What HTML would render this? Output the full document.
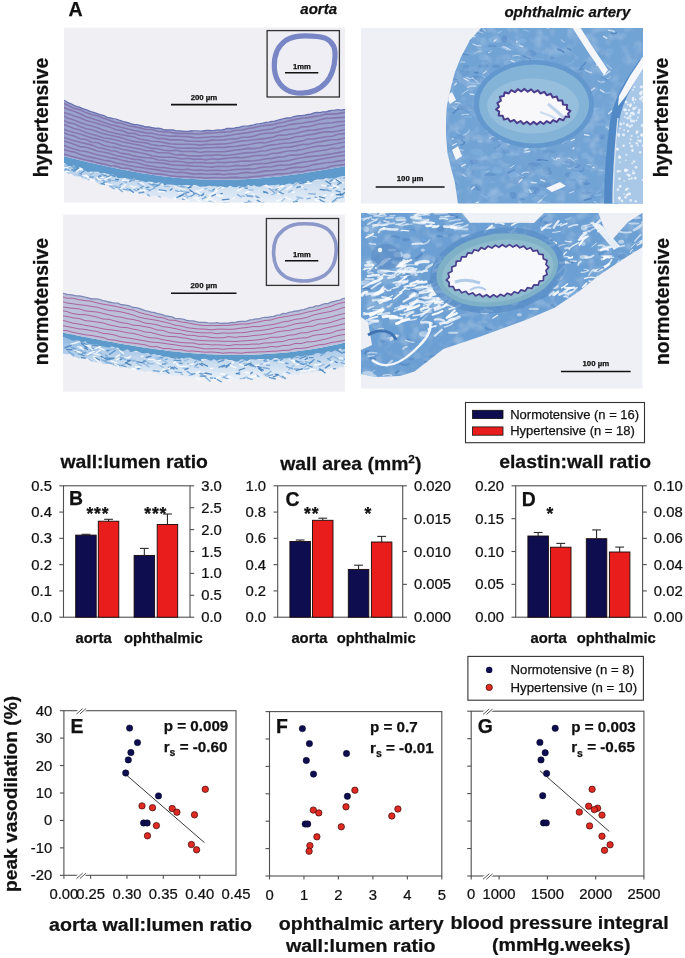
<!DOCTYPE html>
<html><head><meta charset="utf-8"><title>figure</title>
<style>html,body{margin:0;padding:0;background:#fff;} body{width:685px;height:958px;overflow:hidden;} svg{display:block;will-change:transform;} text{fill:#111;stroke:#111;stroke-width:0.25px;}</style>
</head><body>
<svg width="685" height="958" viewBox="0 0 685 958" font-family="'Liberation Sans', sans-serif">
<defs><filter id="tex" x="0" y="0" width="100%" height="100%"><feTurbulence type="fractalNoise" baseFrequency="0.09" numOctaves="2" seed="3" result="n"/><feColorMatrix type="matrix" values="0 0 0 0 1  0 0 0 0 1  0 0 0 0 1  0 0 0 1.6 -0.75" in="n"/></filter><filter id="tex2" x="0" y="0" width="100%" height="100%"><feTurbulence type="fractalNoise" baseFrequency="0.12" numOctaves="2" seed="9" result="n"/><feColorMatrix type="matrix" values="0 0 0 0 0.2  0 0 0 0 0.35  0 0 0 0 0.6  0 0 0 1.6 -0.8" in="n"/></filter></defs>
<rect width="685" height="958" fill="#ffffff"/>
<clipPath id="c1"><rect x="64" y="27.5" width="281" height="175.0"/></clipPath>
<rect x="64" y="27.5" width="281" height="175.0" fill="#efeff4"/>
<g clip-path="url(#c1)">
<linearGradient id="gc1" x1="0" y1="0" x2="0" y2="1"><stop offset="0" stop-color="#a9c7e6"/><stop offset="1" stop-color="#eef3f9"/></linearGradient>
<polygon points="62.0,163.2 65.0,164.0 68.0,164.9 71.0,165.7 74.0,166.6 77.0,167.4 80.0,168.2 83.0,168.9 86.0,169.7 89.0,170.4 92.0,171.2 95.0,171.9 98.0,172.5 101.0,173.2 104.0,173.9 107.0,174.5 110.0,175.1 113.0,175.7 116.0,176.3 119.0,176.9 122.0,177.4 125.0,177.9 128.0,178.4 131.0,178.9 134.0,179.4 137.0,179.9 140.0,180.3 143.0,180.8 146.0,181.2 149.0,181.6 152.0,182.0 155.0,182.3 158.0,182.7 161.0,183.0 164.0,183.3 167.0,183.6 170.0,183.9 173.0,184.2 176.0,184.5 179.0,184.7 182.0,184.9 185.0,185.1 188.0,185.3 191.0,185.5 194.0,185.7 197.0,185.8 200.0,186.0 203.0,186.1 206.0,186.2 209.0,186.3 212.0,186.4 215.0,186.4 218.0,186.5 221.0,186.5 224.0,186.5 227.0,186.5 230.0,186.5 233.0,186.5 236.0,186.5 239.0,186.4 242.0,186.4 245.0,186.3 248.0,186.2 251.0,186.1 254.0,186.0 257.0,185.9 260.0,185.7 263.0,185.6 266.0,185.4 269.0,185.2 272.0,185.0 275.0,184.8 278.0,184.6 281.0,184.3 284.0,184.1 287.0,183.8 290.0,183.6 293.0,183.3 296.0,183.0 299.0,182.7 302.0,182.4 305.0,182.0 308.0,181.7 311.0,181.3 314.0,181.0 317.0,180.6 320.0,180.2 323.0,179.8 326.0,179.4 329.0,178.9 332.0,178.5 335.0,178.1 338.0,177.6 341.0,177.1 344.0,176.6 347.0,176.2 347.0,206.0 344.0,205.4 341.0,207.2 338.0,207.1 335.0,207.3 332.0,206.3 329.0,206.0 326.0,204.9 323.0,207.3 320.0,205.9 317.0,205.5 314.0,205.1 311.0,207.1 308.0,205.0 305.0,205.1 302.0,205.3 299.0,206.2 296.0,204.8 293.0,206.8 290.0,205.9 287.0,205.6 284.0,207.1 281.0,207.6 278.0,206.5 275.0,206.7 272.0,204.7 269.0,206.4 266.0,205.8 263.0,207.1 260.0,206.7 257.0,205.5 254.0,205.8 251.0,205.7 248.0,205.9 245.0,204.6 242.0,206.2 239.0,205.2 236.0,205.6 233.0,205.1 230.0,203.1 227.0,204.2 224.0,203.0 221.0,204.7 218.0,203.4 215.0,202.3 212.0,204.7 209.0,202.3 206.0,203.4 203.0,203.6 200.0,202.3 197.0,202.1 194.0,200.8 191.0,201.9 188.0,201.8 185.0,200.0 182.0,200.1 179.0,200.1 176.0,198.9 173.0,198.8 170.0,199.2 167.0,197.3 164.0,196.4 161.0,196.0 158.0,196.9 155.0,195.9 152.0,196.2 149.0,195.5 146.0,193.8 143.0,195.1 140.0,193.0 137.0,191.8 134.0,191.3 131.0,191.1 128.0,192.1 125.0,189.0 122.0,191.1 119.0,188.7 116.0,188.5 113.0,188.8 110.0,187.1 107.0,185.1 104.0,184.0 101.0,185.3 98.0,183.2 95.0,181.3 92.0,180.4 89.0,180.6 86.0,178.4 83.0,178.9 80.0,176.5 77.0,176.5 74.0,175.9 71.0,173.5 68.0,174.1 65.0,171.5 62.0,170.9" fill="url(#gc1)"/>
<line x1="180.7" y1="190.3" x2="186.6" y2="194.7" stroke="#6fa2d4" stroke-width="1.3" opacity="0.85"/>
<line x1="87.3" y1="171.6" x2="92.2" y2="167.6" stroke="#3f7cb8" stroke-width="1.3" opacity="0.85"/>
<line x1="115.2" y1="179.5" x2="119.0" y2="179.7" stroke="#3f7cb8" stroke-width="1.3" opacity="0.85"/>
<line x1="223.1" y1="203.2" x2="229.6" y2="203.4" stroke="#3f7cb8" stroke-width="1.3" opacity="0.85"/>
<line x1="248.0" y1="200.3" x2="252.6" y2="203.0" stroke="#8fb8df" stroke-width="1.3" opacity="0.85"/>
<line x1="288.2" y1="192.6" x2="292.4" y2="189.9" stroke="#8fb8df" stroke-width="1.3" opacity="0.85"/>
<line x1="176.5" y1="187.4" x2="184.4" y2="186.7" stroke="#4f8cc6" stroke-width="1.3" opacity="0.85"/>
<line x1="159.6" y1="183.6" x2="162.2" y2="182.2" stroke="#4f8cc6" stroke-width="1.3" opacity="0.85"/>
<line x1="330.7" y1="195.6" x2="333.7" y2="194.2" stroke="#ffffff" stroke-width="1.3" opacity="0.85"/>
<line x1="105.7" y1="177.1" x2="110.4" y2="176.2" stroke="#4f8cc6" stroke-width="1.3" opacity="0.85"/>
<line x1="96.4" y1="177.5" x2="104.3" y2="177.2" stroke="#ffffff" stroke-width="1.3" opacity="0.85"/>
<line x1="88.1" y1="171.3" x2="92.6" y2="169.8" stroke="#8fb8df" stroke-width="1.3" opacity="0.85"/>
<line x1="109.4" y1="175.3" x2="117.1" y2="175.6" stroke="#6fa2d4" stroke-width="1.3" opacity="0.85"/>
<line x1="257.9" y1="204.0" x2="264.4" y2="202.1" stroke="#8fb8df" stroke-width="1.3" opacity="0.85"/>
<line x1="306.6" y1="198.9" x2="310.8" y2="198.1" stroke="#6fa2d4" stroke-width="1.3" opacity="0.85"/>
<line x1="164.0" y1="186.5" x2="169.7" y2="186.6" stroke="#8fb8df" stroke-width="1.3" opacity="0.85"/>
<line x1="126.7" y1="188.4" x2="133.7" y2="192.2" stroke="#6fa2d4" stroke-width="1.3" opacity="0.85"/>
<line x1="294.0" y1="200.3" x2="298.1" y2="200.4" stroke="#ffffff" stroke-width="1.3" opacity="0.85"/>
<line x1="269.4" y1="205.7" x2="276.4" y2="205.5" stroke="#6fa2d4" stroke-width="1.3" opacity="0.85"/>
<line x1="258.6" y1="204.8" x2="262.9" y2="207.8" stroke="#ffffff" stroke-width="1.3" opacity="0.85"/>
<line x1="332.4" y1="188.6" x2="336.2" y2="187.0" stroke="#6fa2d4" stroke-width="1.3" opacity="0.85"/>
<line x1="158.9" y1="189.6" x2="166.7" y2="190.8" stroke="#4f8cc6" stroke-width="1.3" opacity="0.85"/>
<line x1="198.7" y1="196.5" x2="204.6" y2="192.6" stroke="#8fb8df" stroke-width="1.3" opacity="0.85"/>
<line x1="97.7" y1="176.7" x2="103.7" y2="174.0" stroke="#6fa2d4" stroke-width="1.3" opacity="0.85"/>
<line x1="185.9" y1="195.1" x2="188.7" y2="197.1" stroke="#8fb8df" stroke-width="1.3" opacity="0.85"/>
<line x1="175.2" y1="190.4" x2="182.6" y2="192.8" stroke="#6fa2d4" stroke-width="1.3" opacity="0.85"/>
<line x1="343.1" y1="177.6" x2="349.0" y2="177.3" stroke="#8fb8df" stroke-width="1.3" opacity="0.85"/>
<line x1="105.1" y1="183.5" x2="112.8" y2="185.2" stroke="#ffffff" stroke-width="1.3" opacity="0.85"/>
<line x1="107.8" y1="181.0" x2="110.6" y2="182.2" stroke="#8fb8df" stroke-width="1.3" opacity="0.85"/>
<line x1="246.6" y1="196.3" x2="254.2" y2="195.6" stroke="#6fa2d4" stroke-width="1.3" opacity="0.85"/>
<line x1="296.1" y1="187.9" x2="300.2" y2="186.7" stroke="#6fa2d4" stroke-width="1.3" opacity="0.85"/>
<line x1="278.6" y1="191.6" x2="283.7" y2="194.1" stroke="#4f8cc6" stroke-width="1.3" opacity="0.85"/>
<line x1="319.7" y1="189.4" x2="325.0" y2="190.0" stroke="#3f7cb8" stroke-width="1.3" opacity="0.85"/>
<line x1="182.2" y1="199.0" x2="187.7" y2="199.2" stroke="#3f7cb8" stroke-width="1.3" opacity="0.85"/>
<line x1="207.5" y1="200.7" x2="214.3" y2="201.8" stroke="#6fa2d4" stroke-width="1.3" opacity="0.85"/>
<line x1="112.4" y1="181.2" x2="119.0" y2="181.7" stroke="#ffffff" stroke-width="1.3" opacity="0.85"/>
<line x1="255.7" y1="196.4" x2="260.7" y2="198.4" stroke="#3f7cb8" stroke-width="1.3" opacity="0.85"/>
<line x1="80.0" y1="170.0" x2="82.7" y2="168.3" stroke="#ffffff" stroke-width="1.3" opacity="0.85"/>
<line x1="221.8" y1="199.8" x2="229.4" y2="199.2" stroke="#3f7cb8" stroke-width="1.3" opacity="0.85"/>
<line x1="337.5" y1="194.9" x2="341.3" y2="193.7" stroke="#3f7cb8" stroke-width="1.3" opacity="0.85"/>
<line x1="213.9" y1="194.5" x2="221.3" y2="196.6" stroke="#ffffff" stroke-width="1.3" opacity="0.85"/>
<line x1="323.3" y1="203.4" x2="327.3" y2="203.1" stroke="#ffffff" stroke-width="1.3" opacity="0.85"/>
<line x1="98.2" y1="177.4" x2="101.3" y2="176.2" stroke="#4f8cc6" stroke-width="1.3" opacity="0.85"/>
<line x1="123.8" y1="181.5" x2="127.1" y2="182.8" stroke="#8fb8df" stroke-width="1.3" opacity="0.85"/>
<line x1="244.8" y1="193.2" x2="248.5" y2="191.1" stroke="#ffffff" stroke-width="1.3" opacity="0.85"/>
<line x1="125.7" y1="190.0" x2="130.7" y2="189.9" stroke="#8fb8df" stroke-width="1.3" opacity="0.85"/>
<line x1="297.9" y1="186.6" x2="303.1" y2="186.7" stroke="#ffffff" stroke-width="1.3" opacity="0.85"/>
<line x1="182.4" y1="190.4" x2="185.8" y2="189.8" stroke="#ffffff" stroke-width="1.3" opacity="0.85"/>
<line x1="219.7" y1="194.1" x2="222.7" y2="193.4" stroke="#3f7cb8" stroke-width="1.3" opacity="0.85"/>
<line x1="147.0" y1="194.4" x2="150.0" y2="196.3" stroke="#6fa2d4" stroke-width="1.3" opacity="0.85"/>
<line x1="337.0" y1="180.7" x2="340.5" y2="178.1" stroke="#6fa2d4" stroke-width="1.3" opacity="0.85"/>
<line x1="140.0" y1="182.1" x2="144.3" y2="184.8" stroke="#ffffff" stroke-width="1.3" opacity="0.85"/>
<line x1="178.1" y1="192.7" x2="183.6" y2="192.7" stroke="#ffffff" stroke-width="1.3" opacity="0.85"/>
<line x1="89.1" y1="171.1" x2="95.5" y2="170.4" stroke="#4f8cc6" stroke-width="1.3" opacity="0.85"/>
<line x1="139.6" y1="180.5" x2="142.8" y2="179.4" stroke="#3f7cb8" stroke-width="1.3" opacity="0.85"/>
<line x1="304.6" y1="183.7" x2="311.9" y2="183.2" stroke="#ffffff" stroke-width="1.3" opacity="0.85"/>
<line x1="343.4" y1="189.0" x2="350.9" y2="190.3" stroke="#4f8cc6" stroke-width="1.3" opacity="0.85"/>
<line x1="212.1" y1="190.4" x2="215.2" y2="188.8" stroke="#4f8cc6" stroke-width="1.3" opacity="0.85"/>
<line x1="114.9" y1="187.2" x2="121.0" y2="187.4" stroke="#6fa2d4" stroke-width="1.3" opacity="0.85"/>
<line x1="145.5" y1="187.9" x2="149.3" y2="187.0" stroke="#4f8cc6" stroke-width="1.3" opacity="0.85"/>
<line x1="343.5" y1="177.8" x2="346.5" y2="177.8" stroke="#6fa2d4" stroke-width="1.3" opacity="0.85"/>
<line x1="208.5" y1="190.4" x2="213.6" y2="191.5" stroke="#8fb8df" stroke-width="1.3" opacity="0.85"/>
<line x1="185.4" y1="192.8" x2="192.5" y2="191.8" stroke="#3f7cb8" stroke-width="1.3" opacity="0.85"/>
<line x1="150.5" y1="184.7" x2="154.3" y2="183.0" stroke="#8fb8df" stroke-width="1.3" opacity="0.85"/>
<line x1="268.8" y1="188.1" x2="275.0" y2="193.1" stroke="#6fa2d4" stroke-width="1.3" opacity="0.85"/>
<line x1="68.0" y1="170.4" x2="75.4" y2="169.7" stroke="#4f8cc6" stroke-width="1.3" opacity="0.85"/>
<line x1="87.7" y1="178.7" x2="94.9" y2="180.5" stroke="#ffffff" stroke-width="1.3" opacity="0.85"/>
<line x1="232.3" y1="199.0" x2="235.2" y2="197.7" stroke="#ffffff" stroke-width="1.3" opacity="0.85"/>
<line x1="189.3" y1="189.5" x2="195.4" y2="194.3" stroke="#3f7cb8" stroke-width="1.3" opacity="0.85"/>
<line x1="154.9" y1="182.8" x2="161.8" y2="180.0" stroke="#6fa2d4" stroke-width="1.3" opacity="0.85"/>
<line x1="64.3" y1="167.1" x2="69.7" y2="167.1" stroke="#6fa2d4" stroke-width="1.3" opacity="0.85"/>
<line x1="133.7" y1="189.4" x2="136.9" y2="190.9" stroke="#6fa2d4" stroke-width="1.3" opacity="0.85"/>
<line x1="176.3" y1="185.1" x2="179.3" y2="184.3" stroke="#6fa2d4" stroke-width="1.3" opacity="0.85"/>
<line x1="87.7" y1="179.9" x2="94.2" y2="176.6" stroke="#8fb8df" stroke-width="1.3" opacity="0.85"/>
<line x1="284.3" y1="197.3" x2="290.8" y2="199.3" stroke="#ffffff" stroke-width="1.3" opacity="0.85"/>
<line x1="106.0" y1="182.5" x2="111.0" y2="178.8" stroke="#8fb8df" stroke-width="1.3" opacity="0.85"/>
<line x1="314.6" y1="196.8" x2="320.7" y2="199.6" stroke="#6fa2d4" stroke-width="1.3" opacity="0.85"/>
<line x1="319.7" y1="199.8" x2="325.0" y2="202.3" stroke="#4f8cc6" stroke-width="1.3" opacity="0.85"/>
<line x1="296.2" y1="196.6" x2="303.4" y2="198.5" stroke="#8fb8df" stroke-width="1.3" opacity="0.85"/>
<line x1="244.7" y1="187.9" x2="247.8" y2="188.5" stroke="#4f8cc6" stroke-width="1.3" opacity="0.85"/>
<line x1="169.8" y1="190.6" x2="172.4" y2="188.5" stroke="#3f7cb8" stroke-width="1.3" opacity="0.85"/>
<line x1="255.3" y1="195.5" x2="258.0" y2="196.8" stroke="#8fb8df" stroke-width="1.3" opacity="0.85"/>
<line x1="326.0" y1="203.5" x2="329.5" y2="203.6" stroke="#8fb8df" stroke-width="1.3" opacity="0.85"/>
<line x1="271.0" y1="190.3" x2="274.2" y2="189.3" stroke="#8fb8df" stroke-width="1.3" opacity="0.85"/>
<line x1="276.6" y1="189.6" x2="282.8" y2="189.3" stroke="#ffffff" stroke-width="1.3" opacity="0.85"/>
<line x1="85.6" y1="178.8" x2="89.1" y2="176.1" stroke="#8fb8df" stroke-width="1.3" opacity="0.85"/>
<line x1="244.6" y1="187.8" x2="248.1" y2="186.5" stroke="#8fb8df" stroke-width="1.3" opacity="0.85"/>
<line x1="258.7" y1="198.1" x2="262.4" y2="198.1" stroke="#ffffff" stroke-width="1.3" opacity="0.85"/>
<line x1="139.5" y1="189.1" x2="145.8" y2="190.7" stroke="#ffffff" stroke-width="1.3" opacity="0.85"/>
<line x1="263.2" y1="191.3" x2="268.2" y2="193.3" stroke="#3f7cb8" stroke-width="1.3" opacity="0.85"/>
<line x1="120.0" y1="189.0" x2="126.0" y2="184.2" stroke="#ffffff" stroke-width="1.3" opacity="0.85"/>
<line x1="85.5" y1="174.7" x2="91.6" y2="179.8" stroke="#ffffff" stroke-width="1.3" opacity="0.85"/>
<line x1="123.0" y1="189.3" x2="127.0" y2="189.7" stroke="#6fa2d4" stroke-width="1.3" opacity="0.85"/>
<line x1="274.0" y1="190.4" x2="278.8" y2="191.1" stroke="#8fb8df" stroke-width="1.3" opacity="0.85"/>
<line x1="207.0" y1="200.9" x2="213.0" y2="198.5" stroke="#ffffff" stroke-width="1.3" opacity="0.85"/>
<line x1="174.7" y1="186.7" x2="182.2" y2="188.7" stroke="#ffffff" stroke-width="1.3" opacity="0.85"/>
<line x1="148.8" y1="183.5" x2="153.4" y2="182.3" stroke="#ffffff" stroke-width="1.3" opacity="0.85"/>
<line x1="64.5" y1="170.3" x2="70.7" y2="166.6" stroke="#6fa2d4" stroke-width="1.3" opacity="0.85"/>
<line x1="264.4" y1="203.8" x2="268.7" y2="203.0" stroke="#ffffff" stroke-width="1.3" opacity="0.85"/>
<line x1="173.6" y1="197.2" x2="176.4" y2="199.1" stroke="#ffffff" stroke-width="1.3" opacity="0.85"/>
<line x1="304.0" y1="188.9" x2="307.2" y2="189.6" stroke="#8fb8df" stroke-width="1.3" opacity="0.85"/>
<line x1="326.9" y1="186.0" x2="331.2" y2="186.0" stroke="#6fa2d4" stroke-width="1.3" opacity="0.85"/>
<line x1="281.3" y1="201.5" x2="285.3" y2="198.3" stroke="#8fb8df" stroke-width="1.3" opacity="0.85"/>
<line x1="176.4" y1="197.6" x2="181.7" y2="195.3" stroke="#4f8cc6" stroke-width="1.3" opacity="0.85"/>
<line x1="77.9" y1="174.6" x2="82.8" y2="176.4" stroke="#8fb8df" stroke-width="1.3" opacity="0.85"/>
<line x1="308.3" y1="193.6" x2="315.9" y2="194.1" stroke="#6fa2d4" stroke-width="1.3" opacity="0.85"/>
<line x1="196.7" y1="191.3" x2="200.9" y2="192.8" stroke="#8fb8df" stroke-width="1.3" opacity="0.85"/>
<line x1="137.1" y1="188.5" x2="141.6" y2="188.9" stroke="#ffffff" stroke-width="1.3" opacity="0.85"/>
<line x1="97.6" y1="179.5" x2="101.0" y2="179.5" stroke="#ffffff" stroke-width="1.3" opacity="0.85"/>
<line x1="218.7" y1="194.3" x2="223.0" y2="196.0" stroke="#ffffff" stroke-width="1.3" opacity="0.85"/>
<line x1="103.2" y1="175.9" x2="106.6" y2="175.1" stroke="#4f8cc6" stroke-width="1.3" opacity="0.85"/>
<line x1="153.7" y1="187.3" x2="160.2" y2="184.5" stroke="#4f8cc6" stroke-width="1.3" opacity="0.85"/>
<line x1="274.7" y1="193.6" x2="279.7" y2="193.8" stroke="#ffffff" stroke-width="1.3" opacity="0.85"/>
<line x1="139.9" y1="190.3" x2="145.4" y2="190.8" stroke="#ffffff" stroke-width="1.3" opacity="0.85"/>
<line x1="99.4" y1="178.4" x2="104.7" y2="181.4" stroke="#6fa2d4" stroke-width="1.3" opacity="0.85"/>
<line x1="90.0" y1="180.0" x2="94.8" y2="181.0" stroke="#ffffff" stroke-width="1.3" opacity="0.85"/>
<line x1="332.1" y1="202.0" x2="337.8" y2="197.4" stroke="#4f8cc6" stroke-width="1.3" opacity="0.85"/>
<line x1="183.5" y1="196.8" x2="189.0" y2="201.1" stroke="#ffffff" stroke-width="1.3" opacity="0.85"/>
<line x1="64.1" y1="167.1" x2="70.9" y2="170.4" stroke="#ffffff" stroke-width="1.3" opacity="0.85"/>
<line x1="337.2" y1="184.8" x2="340.3" y2="183.1" stroke="#3f7cb8" stroke-width="1.3" opacity="0.85"/>
<line x1="337.1" y1="180.8" x2="343.9" y2="182.8" stroke="#ffffff" stroke-width="1.3" opacity="0.85"/>
<line x1="87.9" y1="178.1" x2="90.5" y2="176.6" stroke="#3f7cb8" stroke-width="1.3" opacity="0.85"/>
<line x1="322.5" y1="196.9" x2="326.4" y2="194.6" stroke="#ffffff" stroke-width="1.3" opacity="0.85"/>
<line x1="212.4" y1="193.8" x2="218.2" y2="190.1" stroke="#ffffff" stroke-width="1.3" opacity="0.85"/>
<line x1="211.4" y1="196.2" x2="215.9" y2="194.3" stroke="#3f7cb8" stroke-width="1.3" opacity="0.85"/>
<line x1="64.3" y1="168.4" x2="71.9" y2="166.0" stroke="#ffffff" stroke-width="1.3" opacity="0.85"/>
<line x1="245.1" y1="203.0" x2="250.1" y2="201.1" stroke="#6fa2d4" stroke-width="1.3" opacity="0.85"/>
<line x1="72.2" y1="169.8" x2="77.3" y2="166.2" stroke="#6fa2d4" stroke-width="1.3" opacity="0.85"/>
<line x1="204.0" y1="197.2" x2="208.8" y2="195.5" stroke="#8fb8df" stroke-width="1.3" opacity="0.85"/>
<line x1="183.2" y1="190.7" x2="188.5" y2="192.2" stroke="#8fb8df" stroke-width="1.3" opacity="0.85"/>
<line x1="182.2" y1="195.4" x2="185.8" y2="197.0" stroke="#8fb8df" stroke-width="1.3" opacity="0.85"/>
<line x1="301.5" y1="184.0" x2="306.5" y2="181.8" stroke="#6fa2d4" stroke-width="1.3" opacity="0.85"/>
<line x1="128.9" y1="181.4" x2="135.4" y2="179.5" stroke="#3f7cb8" stroke-width="1.3" opacity="0.85"/>
<line x1="203.3" y1="189.2" x2="207.4" y2="188.7" stroke="#8fb8df" stroke-width="1.3" opacity="0.85"/>
<line x1="79.9" y1="173.9" x2="86.0" y2="169.4" stroke="#4f8cc6" stroke-width="1.3" opacity="0.85"/>
<line x1="337.7" y1="181.7" x2="340.4" y2="179.8" stroke="#ffffff" stroke-width="1.3" opacity="0.85"/>
<line x1="190.3" y1="196.7" x2="194.3" y2="194.3" stroke="#4f8cc6" stroke-width="1.3" opacity="0.85"/>
<line x1="325.8" y1="188.2" x2="329.0" y2="190.5" stroke="#8fb8df" stroke-width="1.3" opacity="0.85"/>
<line x1="195.4" y1="190.7" x2="201.3" y2="193.8" stroke="#ffffff" stroke-width="1.3" opacity="0.85"/>
<line x1="188.3" y1="187.1" x2="191.1" y2="185.2" stroke="#ffffff" stroke-width="1.3" opacity="0.85"/>
<line x1="332.5" y1="181.9" x2="339.7" y2="178.7" stroke="#ffffff" stroke-width="1.3" opacity="0.85"/>
<line x1="280.0" y1="191.1" x2="285.9" y2="187.3" stroke="#8fb8df" stroke-width="1.3" opacity="0.85"/>
<line x1="197.0" y1="191.8" x2="204.0" y2="188.7" stroke="#ffffff" stroke-width="1.3" opacity="0.85"/>
<line x1="271.2" y1="195.0" x2="277.0" y2="192.9" stroke="#8fb8df" stroke-width="1.3" opacity="0.85"/>
<line x1="279.4" y1="185.3" x2="282.0" y2="183.5" stroke="#4f8cc6" stroke-width="1.3" opacity="0.85"/>
<line x1="136.2" y1="189.5" x2="143.5" y2="187.8" stroke="#ffffff" stroke-width="1.3" opacity="0.85"/>
<line x1="158.1" y1="196.2" x2="161.2" y2="197.3" stroke="#8fb8df" stroke-width="1.3" opacity="0.85"/>
<line x1="152.9" y1="185.9" x2="155.8" y2="187.0" stroke="#8fb8df" stroke-width="1.3" opacity="0.85"/>
<line x1="330.0" y1="180.6" x2="336.0" y2="176.9" stroke="#8fb8df" stroke-width="1.3" opacity="0.85"/>
<line x1="332.9" y1="204.9" x2="337.5" y2="203.2" stroke="#ffffff" stroke-width="1.3" opacity="0.85"/>
<line x1="293.0" y1="186.3" x2="297.2" y2="182.9" stroke="#8fb8df" stroke-width="1.3" opacity="0.85"/>
<line x1="149.2" y1="191.1" x2="152.7" y2="189.7" stroke="#ffffff" stroke-width="1.3" opacity="0.85"/>
<line x1="193.5" y1="198.1" x2="199.5" y2="198.2" stroke="#ffffff" stroke-width="1.3" opacity="0.85"/>
<line x1="275.6" y1="190.0" x2="278.2" y2="188.0" stroke="#3f7cb8" stroke-width="1.3" opacity="0.85"/>
<line x1="217.0" y1="189.2" x2="221.4" y2="186.5" stroke="#4f8cc6" stroke-width="1.3" opacity="0.85"/>
<line x1="138.4" y1="181.2" x2="141.9" y2="181.2" stroke="#8fb8df" stroke-width="1.3" opacity="0.85"/>
<line x1="337.2" y1="182.6" x2="340.8" y2="182.4" stroke="#8fb8df" stroke-width="1.3" opacity="0.85"/>
<line x1="130.0" y1="185.6" x2="136.4" y2="188.1" stroke="#ffffff" stroke-width="1.3" opacity="0.85"/>
<line x1="146.6" y1="188.9" x2="151.1" y2="190.5" stroke="#6fa2d4" stroke-width="1.3" opacity="0.85"/>
<line x1="187.5" y1="188.2" x2="191.5" y2="186.9" stroke="#3f7cb8" stroke-width="1.3" opacity="0.85"/>
<line x1="116.9" y1="177.2" x2="120.9" y2="175.8" stroke="#3f7cb8" stroke-width="1.3" opacity="0.85"/>
<line x1="129.0" y1="188.9" x2="133.9" y2="192.8" stroke="#4f8cc6" stroke-width="1.3" opacity="0.85"/>
<line x1="65.3" y1="171.7" x2="69.4" y2="171.4" stroke="#ffffff" stroke-width="1.3" opacity="0.85"/>
<line x1="75.3" y1="169.7" x2="78.6" y2="168.2" stroke="#3f7cb8" stroke-width="1.3" opacity="0.85"/>
<line x1="118.6" y1="177.7" x2="123.6" y2="175.3" stroke="#3f7cb8" stroke-width="1.3" opacity="0.85"/>
<line x1="137.0" y1="190.1" x2="143.6" y2="186.0" stroke="#3f7cb8" stroke-width="1.3" opacity="0.85"/>
<line x1="263.4" y1="192.6" x2="266.5" y2="191.9" stroke="#4f8cc6" stroke-width="1.3" opacity="0.85"/>
<line x1="121.3" y1="180.4" x2="127.2" y2="181.7" stroke="#6fa2d4" stroke-width="1.3" opacity="0.85"/>
<line x1="292.9" y1="202.1" x2="297.9" y2="201.2" stroke="#3f7cb8" stroke-width="1.3" opacity="0.85"/>
<line x1="151.7" y1="184.7" x2="158.7" y2="185.2" stroke="#4f8cc6" stroke-width="1.3" opacity="0.85"/>
<line x1="178.7" y1="196.7" x2="184.3" y2="193.8" stroke="#3f7cb8" stroke-width="1.3" opacity="0.85"/>
<line x1="89.6" y1="172.3" x2="96.0" y2="171.5" stroke="#ffffff" stroke-width="1.3" opacity="0.85"/>
<line x1="251.7" y1="194.2" x2="254.7" y2="195.3" stroke="#ffffff" stroke-width="1.3" opacity="0.85"/>
<line x1="180.4" y1="185.1" x2="186.6" y2="187.9" stroke="#8fb8df" stroke-width="1.3" opacity="0.85"/>
<line x1="119.4" y1="185.8" x2="122.5" y2="183.2" stroke="#6fa2d4" stroke-width="1.3" opacity="0.85"/>
<line x1="183.1" y1="197.6" x2="187.4" y2="200.2" stroke="#ffffff" stroke-width="1.3" opacity="0.85"/>
<line x1="281.2" y1="187.2" x2="284.1" y2="185.6" stroke="#ffffff" stroke-width="1.3" opacity="0.85"/>
<line x1="89.0" y1="176.9" x2="93.9" y2="176.9" stroke="#6fa2d4" stroke-width="1.3" opacity="0.85"/>
<line x1="161.8" y1="185.4" x2="164.9" y2="183.2" stroke="#ffffff" stroke-width="1.3" opacity="0.85"/>
<line x1="201.8" y1="199.2" x2="209.0" y2="195.9" stroke="#6fa2d4" stroke-width="1.3" opacity="0.85"/>
<line x1="299.3" y1="183.7" x2="306.6" y2="181.7" stroke="#3f7cb8" stroke-width="1.3" opacity="0.85"/>
<line x1="324.3" y1="189.9" x2="331.7" y2="191.2" stroke="#6fa2d4" stroke-width="1.3" opacity="0.85"/>
<line x1="243.9" y1="202.5" x2="250.0" y2="203.4" stroke="#6fa2d4" stroke-width="1.3" opacity="0.85"/>
<line x1="297.0" y1="187.2" x2="301.1" y2="186.6" stroke="#3f7cb8" stroke-width="1.3" opacity="0.85"/>
<line x1="108.0" y1="178.8" x2="110.9" y2="181.1" stroke="#6fa2d4" stroke-width="1.3" opacity="0.85"/>
<line x1="75.5" y1="172.3" x2="81.0" y2="168.2" stroke="#ffffff" stroke-width="1.3" opacity="0.85"/>
<line x1="97.1" y1="178.8" x2="102.7" y2="179.9" stroke="#ffffff" stroke-width="1.3" opacity="0.85"/>
<line x1="246.4" y1="192.1" x2="250.6" y2="191.5" stroke="#ffffff" stroke-width="1.3" opacity="0.85"/>
<line x1="189.5" y1="192.3" x2="192.6" y2="192.8" stroke="#ffffff" stroke-width="1.3" opacity="0.85"/>
<line x1="194.7" y1="192.8" x2="200.2" y2="195.5" stroke="#6fa2d4" stroke-width="1.3" opacity="0.85"/>
<line x1="291.8" y1="192.5" x2="295.0" y2="191.9" stroke="#ffffff" stroke-width="1.3" opacity="0.85"/>
<line x1="89.8" y1="175.2" x2="94.2" y2="171.9" stroke="#8fb8df" stroke-width="1.3" opacity="0.85"/>
<line x1="100.6" y1="183.3" x2="105.0" y2="184.7" stroke="#4f8cc6" stroke-width="1.3" opacity="0.85"/>
<line x1="79.2" y1="172.8" x2="83.2" y2="175.7" stroke="#6fa2d4" stroke-width="1.3" opacity="0.85"/>
<line x1="71.3" y1="166.4" x2="77.1" y2="168.0" stroke="#4f8cc6" stroke-width="1.3" opacity="0.85"/>
<line x1="118.4" y1="188.6" x2="122.8" y2="191.9" stroke="#6fa2d4" stroke-width="1.3" opacity="0.85"/>
<line x1="256.8" y1="200.1" x2="260.5" y2="202.0" stroke="#3f7cb8" stroke-width="1.3" opacity="0.85"/>
<line x1="276.5" y1="188.1" x2="283.6" y2="185.8" stroke="#ffffff" stroke-width="1.3" opacity="0.85"/>
<line x1="104.3" y1="179.6" x2="111.3" y2="176.6" stroke="#ffffff" stroke-width="1.3" opacity="0.85"/>
<line x1="237.1" y1="190.8" x2="241.5" y2="188.8" stroke="#ffffff" stroke-width="1.3" opacity="0.85"/>
<line x1="109.3" y1="185.8" x2="114.7" y2="189.2" stroke="#6fa2d4" stroke-width="1.3" opacity="0.85"/>
<line x1="286.6" y1="189.8" x2="292.1" y2="185.7" stroke="#ffffff" stroke-width="1.3" opacity="0.85"/>
<line x1="335.5" y1="190.7" x2="340.9" y2="192.2" stroke="#4f8cc6" stroke-width="1.3" opacity="0.85"/>
<line x1="134.8" y1="186.5" x2="141.7" y2="188.9" stroke="#ffffff" stroke-width="1.3" opacity="0.85"/>
<line x1="138.4" y1="193.1" x2="144.2" y2="192.0" stroke="#4f8cc6" stroke-width="1.3" opacity="0.85"/>
<line x1="188.3" y1="188.1" x2="193.7" y2="184.1" stroke="#3f7cb8" stroke-width="1.3" opacity="0.85"/>
<line x1="135.3" y1="187.9" x2="143.1" y2="188.9" stroke="#8fb8df" stroke-width="1.3" opacity="0.85"/>
<line x1="315.7" y1="199.4" x2="321.9" y2="196.9" stroke="#ffffff" stroke-width="1.3" opacity="0.85"/>
<line x1="237.1" y1="194.4" x2="241.8" y2="197.3" stroke="#6fa2d4" stroke-width="1.3" opacity="0.85"/>
<line x1="201.2" y1="196.0" x2="203.9" y2="194.1" stroke="#3f7cb8" stroke-width="1.3" opacity="0.85"/>
<line x1="163.7" y1="184.8" x2="168.2" y2="183.0" stroke="#3f7cb8" stroke-width="1.3" opacity="0.85"/>
<line x1="148.6" y1="183.4" x2="153.0" y2="185.5" stroke="#6fa2d4" stroke-width="1.3" opacity="0.85"/>
<line x1="101.9" y1="183.8" x2="105.6" y2="181.8" stroke="#4f8cc6" stroke-width="1.3" opacity="0.85"/>
<line x1="81.9" y1="170.1" x2="87.9" y2="168.1" stroke="#ffffff" stroke-width="1.3" opacity="0.85"/>
<line x1="335.8" y1="179.5" x2="341.8" y2="183.2" stroke="#3f7cb8" stroke-width="1.3" opacity="0.85"/>
<line x1="245.4" y1="194.7" x2="252.7" y2="197.2" stroke="#6fa2d4" stroke-width="1.3" opacity="0.85"/>
<line x1="110.4" y1="175.2" x2="113.0" y2="173.2" stroke="#6fa2d4" stroke-width="1.3" opacity="0.85"/>
<line x1="130.8" y1="179.7" x2="136.1" y2="175.3" stroke="#3f7cb8" stroke-width="1.3" opacity="0.85"/>
<line x1="248.6" y1="190.0" x2="253.6" y2="190.1" stroke="#8fb8df" stroke-width="1.3" opacity="0.85"/>
<line x1="206.5" y1="196.8" x2="212.8" y2="193.7" stroke="#ffffff" stroke-width="1.3" opacity="0.85"/>
<line x1="81.9" y1="174.8" x2="89.5" y2="177.3" stroke="#ffffff" stroke-width="1.3" opacity="0.85"/>
<line x1="265.0" y1="185.6" x2="271.8" y2="188.0" stroke="#ffffff" stroke-width="1.3" opacity="0.85"/>
<line x1="86.6" y1="176.5" x2="89.6" y2="179.0" stroke="#ffffff" stroke-width="1.3" opacity="0.85"/>
<line x1="129.3" y1="179.2" x2="133.7" y2="180.8" stroke="#8fb8df" stroke-width="1.3" opacity="0.85"/>
<line x1="328.9" y1="186.1" x2="332.1" y2="186.7" stroke="#8fb8df" stroke-width="1.3" opacity="0.85"/>
<line x1="186.5" y1="197.5" x2="191.8" y2="195.7" stroke="#8fb8df" stroke-width="1.3" opacity="0.85"/>
<line x1="324.9" y1="203.4" x2="328.4" y2="203.4" stroke="#6fa2d4" stroke-width="1.3" opacity="0.85"/>
<line x1="137.2" y1="183.0" x2="142.6" y2="186.9" stroke="#8fb8df" stroke-width="1.3" opacity="0.85"/>
<line x1="321.1" y1="185.1" x2="326.0" y2="185.8" stroke="#ffffff" stroke-width="1.3" opacity="0.85"/>
<line x1="319.0" y1="196.7" x2="325.3" y2="198.1" stroke="#3f7cb8" stroke-width="1.3" opacity="0.85"/>
<line x1="195.9" y1="199.2" x2="201.6" y2="202.3" stroke="#ffffff" stroke-width="1.3" opacity="0.85"/>
<line x1="332.6" y1="184.9" x2="339.4" y2="187.8" stroke="#ffffff" stroke-width="1.3" opacity="0.85"/>
<line x1="239.0" y1="187.9" x2="245.6" y2="184.3" stroke="#4f8cc6" stroke-width="1.3" opacity="0.85"/>
<line x1="95.4" y1="178.6" x2="98.4" y2="181.0" stroke="#8fb8df" stroke-width="1.3" opacity="0.85"/>
<line x1="72.1" y1="166.4" x2="78.4" y2="167.6" stroke="#8fb8df" stroke-width="1.3" opacity="0.85"/>
<line x1="83.1" y1="169.4" x2="89.9" y2="172.0" stroke="#6fa2d4" stroke-width="1.3" opacity="0.85"/>
<line x1="293.7" y1="202.1" x2="299.9" y2="197.8" stroke="#8fb8df" stroke-width="1.3" opacity="0.85"/>
<line x1="329.4" y1="181.8" x2="332.8" y2="179.7" stroke="#4f8cc6" stroke-width="1.3" opacity="0.85"/>
<line x1="330.7" y1="203.7" x2="336.4" y2="200.0" stroke="#8fb8df" stroke-width="1.3" opacity="0.85"/>
<line x1="241.7" y1="195.3" x2="245.0" y2="196.7" stroke="#8fb8df" stroke-width="1.3" opacity="0.85"/>
<line x1="121.6" y1="181.2" x2="125.6" y2="178.1" stroke="#ffffff" stroke-width="1.3" opacity="0.85"/>
<line x1="325.4" y1="180.8" x2="331.1" y2="184.4" stroke="#3f7cb8" stroke-width="1.3" opacity="0.85"/>
<line x1="205.6" y1="200.2" x2="210.4" y2="196.5" stroke="#ffffff" stroke-width="1.3" opacity="0.85"/>
<line x1="72.8" y1="171.0" x2="76.3" y2="170.8" stroke="#4f8cc6" stroke-width="1.3" opacity="0.85"/>
<line x1="215.1" y1="190.1" x2="221.3" y2="186.2" stroke="#ffffff" stroke-width="1.3" opacity="0.85"/>
<line x1="111.9" y1="175.5" x2="115.6" y2="176.9" stroke="#4f8cc6" stroke-width="1.3" opacity="0.85"/>
<line x1="65.2" y1="168.3" x2="70.2" y2="170.5" stroke="#6fa2d4" stroke-width="1.3" opacity="0.85"/>
<line x1="335.8" y1="194.6" x2="343.6" y2="194.8" stroke="#3f7cb8" stroke-width="1.3" opacity="0.85"/>
<line x1="329.2" y1="186.6" x2="333.1" y2="187.8" stroke="#ffffff" stroke-width="1.3" opacity="0.85"/>
<line x1="110.6" y1="186.2" x2="117.4" y2="186.1" stroke="#8fb8df" stroke-width="1.3" opacity="0.85"/>
<line x1="221.7" y1="188.3" x2="225.6" y2="185.9" stroke="#ffffff" stroke-width="1.3" opacity="0.85"/>
<line x1="314.6" y1="199.8" x2="319.6" y2="200.8" stroke="#ffffff" stroke-width="1.3" opacity="0.85"/>
<line x1="121.9" y1="180.6" x2="129.4" y2="180.6" stroke="#ffffff" stroke-width="1.3" opacity="0.85"/>
<line x1="340.1" y1="195.4" x2="346.7" y2="191.6" stroke="#3f7cb8" stroke-width="1.3" opacity="0.85"/>
<line x1="276.0" y1="200.8" x2="282.1" y2="199.5" stroke="#ffffff" stroke-width="1.3" opacity="0.85"/>
<line x1="210.6" y1="200.9" x2="215.8" y2="201.3" stroke="#ffffff" stroke-width="1.3" opacity="0.85"/>
<line x1="111.6" y1="180.6" x2="118.5" y2="181.3" stroke="#6fa2d4" stroke-width="1.3" opacity="0.85"/>
<line x1="157.9" y1="191.7" x2="164.4" y2="191.8" stroke="#ffffff" stroke-width="1.3" opacity="0.85"/>
<line x1="148.7" y1="191.2" x2="155.1" y2="187.8" stroke="#6fa2d4" stroke-width="1.3" opacity="0.85"/>
<line x1="337.9" y1="198.2" x2="343.8" y2="196.9" stroke="#6fa2d4" stroke-width="1.3" opacity="0.85"/>
<polygon points="62.0,155.7 65.0,156.5 68.0,157.2 71.0,158.0 74.0,158.7 77.0,159.5 80.0,160.2 83.0,160.9 86.0,161.7 89.0,162.4 92.0,163.1 95.0,163.8 98.0,164.4 101.0,165.1 104.0,165.8 107.0,166.4 110.0,167.1 113.0,167.7 116.0,168.3 119.0,168.9 122.0,169.5 125.0,170.1 128.0,170.7 131.0,171.3 134.0,171.8 137.0,172.3 140.0,172.9 143.0,173.4 146.0,173.8 149.0,174.3 152.0,174.8 155.0,175.2 158.0,175.6 161.0,176.0 164.0,176.4 167.0,176.8 170.0,177.1 173.0,177.4 176.0,177.7 179.0,178.0 182.0,178.3 185.0,178.5 188.0,178.7 191.0,178.9 194.0,179.1 197.0,179.3 200.0,179.4 203.0,179.5 206.0,179.6 209.0,179.7 212.0,179.8 215.0,179.8 218.0,179.8 221.0,179.8 224.0,179.8 227.0,179.8 230.0,179.7 233.0,179.6 236.0,179.5 239.0,179.4 242.0,179.3 245.0,179.2 248.0,179.0 251.0,178.8 254.0,178.6 257.0,178.4 260.0,178.2 263.0,177.9 266.0,177.7 269.0,177.4 272.0,177.1 275.0,176.8 278.0,176.5 281.0,176.2 284.0,175.8 287.0,175.5 290.0,175.1 293.0,174.7 296.0,174.3 299.0,173.9 302.0,173.5 305.0,173.0 308.0,172.6 311.0,172.1 314.0,171.6 317.0,171.1 320.0,170.6 323.0,170.1 326.0,169.6 329.0,169.1 332.0,168.6 335.0,168.0 338.0,167.4 341.0,166.9 344.0,166.3 347.0,165.7 347.0,176.2 344.0,176.0 341.0,176.6 338.0,177.2 335.0,178.5 332.0,178.3 329.0,178.7 326.0,178.2 323.0,179.5 320.0,179.6 317.0,179.5 314.0,180.6 311.0,182.5 308.0,180.8 305.0,182.7 302.0,182.1 299.0,183.1 296.0,182.3 293.0,184.4 290.0,183.4 287.0,183.9 284.0,184.9 281.0,184.7 278.0,184.6 275.0,185.3 272.0,185.1 269.0,185.4 266.0,184.4 263.0,185.6 260.0,186.8 257.0,186.5 254.0,185.2 251.0,186.2 248.0,185.1 245.0,187.4 242.0,186.3 239.0,186.2 236.0,187.2 233.0,186.9 230.0,185.8 227.0,187.6 224.0,187.0 221.0,186.3 218.0,186.8 215.0,186.3 212.0,186.2 209.0,185.7 206.0,186.5 203.0,186.6 200.0,186.7 197.0,185.6 194.0,184.7 191.0,185.8 188.0,184.9 185.0,185.0 182.0,185.3 179.0,185.1 176.0,185.3 173.0,184.7 170.0,184.6 167.0,184.6 164.0,183.9 161.0,182.4 158.0,182.5 155.0,182.9 152.0,182.1 149.0,181.4 146.0,182.2 143.0,181.3 140.0,180.1 137.0,180.1 134.0,178.6 131.0,178.9 128.0,178.8 125.0,177.9 122.0,177.9 119.0,177.6 116.0,176.1 113.0,174.6 110.0,174.8 107.0,173.8 104.0,172.9 101.0,173.5 98.0,171.8 95.0,171.7 92.0,171.7 89.0,171.1 86.0,170.9 83.0,168.7 80.0,167.2 77.0,168.5 74.0,165.6 71.0,166.3 68.0,166.0 65.0,163.3 62.0,162.7" fill="#5f9acc"/>
<polygon points="62.0,100.3 65.0,101.8 68.0,102.6 71.0,103.4 74.0,105.4 77.0,106.1 80.0,107.0 83.0,108.1 86.0,110.0 89.0,111.1 92.0,112.0 95.0,112.8 98.0,114.0 101.0,114.6 104.0,116.4 107.0,116.6 110.0,117.9 113.0,119.0 116.0,119.9 119.0,120.3 122.0,120.9 125.0,122.0 128.0,122.2 131.0,123.8 134.0,123.9 137.0,125.2 140.0,125.1 143.0,125.8 146.0,126.3 149.0,127.0 152.0,127.2 155.0,127.5 158.0,128.8 161.0,128.7 164.0,129.0 167.0,129.4 170.0,129.9 173.0,130.1 176.0,130.6 179.0,130.8 182.0,130.7 185.0,131.5 188.0,131.5 191.0,130.6 194.0,131.5 197.0,131.6 200.0,131.4 203.0,130.5 206.0,131.2 209.0,130.8 212.0,129.9 215.0,129.7 218.0,130.5 221.0,129.9 224.0,129.1 227.0,128.5 230.0,128.2 233.0,127.9 236.0,128.1 239.0,127.1 242.0,126.4 245.0,126.8 248.0,126.2 251.0,124.9 254.0,125.2 257.0,124.4 260.0,124.0 263.0,123.3 266.0,123.0 269.0,122.3 272.0,121.7 275.0,120.4 278.0,120.4 281.0,119.6 284.0,119.2 287.0,118.3 290.0,118.2 293.0,117.2 296.0,116.3 299.0,115.7 302.0,115.0 305.0,114.9 308.0,113.9 311.0,113.8 314.0,112.9 317.0,112.9 320.0,112.4 323.0,112.0 326.0,112.0 329.0,110.6 332.0,111.2 335.0,110.4 338.0,110.2 341.0,110.0 344.0,110.0 347.0,109.4 347.0,165.7 344.0,166.3 341.0,166.9 338.0,167.4 335.0,168.0 332.0,168.6 329.0,169.1 326.0,169.6 323.0,170.1 320.0,170.6 317.0,171.1 314.0,171.6 311.0,172.1 308.0,172.6 305.0,173.0 302.0,173.5 299.0,173.9 296.0,174.3 293.0,174.7 290.0,175.1 287.0,175.5 284.0,175.8 281.0,176.2 278.0,176.5 275.0,176.8 272.0,177.1 269.0,177.4 266.0,177.7 263.0,177.9 260.0,178.2 257.0,178.4 254.0,178.6 251.0,178.8 248.0,179.0 245.0,179.2 242.0,179.3 239.0,179.4 236.0,179.5 233.0,179.6 230.0,179.7 227.0,179.8 224.0,179.8 221.0,179.8 218.0,179.8 215.0,179.8 212.0,179.8 209.0,179.7 206.0,179.6 203.0,179.5 200.0,179.4 197.0,179.3 194.0,179.1 191.0,178.9 188.0,178.7 185.0,178.5 182.0,178.3 179.0,178.0 176.0,177.7 173.0,177.4 170.0,177.1 167.0,176.8 164.0,176.4 161.0,176.0 158.0,175.6 155.0,175.2 152.0,174.8 149.0,174.3 146.0,173.8 143.0,173.4 140.0,172.9 137.0,172.3 134.0,171.8 131.0,171.3 128.0,170.7 125.0,170.1 122.0,169.5 119.0,168.9 116.0,168.3 113.0,167.7 110.0,167.1 107.0,166.4 104.0,165.8 101.0,165.1 98.0,164.4 95.0,163.8 92.0,163.1 89.0,162.4 86.0,161.7 83.0,160.9 80.0,160.2 77.0,159.5 74.0,158.7 71.0,158.0 68.0,157.2 65.0,156.5 62.0,155.7" fill="#9aa3cd"/>
<polyline points="62.0,102.8 68.0,105.3 74.0,108.4 80.0,109.7 86.0,112.6 92.0,114.7 98.0,116.0 104.0,118.6 110.0,120.6 116.0,122.6 122.0,123.5 128.0,125.8 134.0,126.6 140.0,127.9 146.0,129.5 152.0,129.5 158.0,131.3 164.0,131.9 170.0,132.2 176.0,133.4 182.0,133.2 188.0,133.5 194.0,133.7 200.0,134.0 206.0,133.1 212.0,133.0 218.0,132.5 224.0,132.1 230.0,131.7 236.0,130.3 242.0,130.0 248.0,128.5 254.0,127.6 260.0,126.3 266.0,125.4 272.0,124.9 278.0,123.3 284.0,122.3 290.0,120.6 296.0,119.4 302.0,118.3 308.0,117.6 314.0,116.6 320.0,115.8 326.0,114.1 332.0,114.1 338.0,113.6 344.0,112.6 347.0,112.3" fill="none" stroke="#7a5a9f" stroke-width="1.6" opacity="0.6"/>
<polyline points="62.0,106.6 68.0,109.3 74.0,111.3 80.0,113.8 86.0,116.8 92.0,118.5 98.0,120.6 104.0,122.6 110.0,124.6 116.0,125.9 122.0,127.5 128.0,129.0 134.0,130.5 140.0,131.6 146.0,132.9 152.0,133.3 158.0,134.8 164.0,135.3 170.0,136.3 176.0,136.1 182.0,136.5 188.0,136.6 194.0,137.6 200.0,137.8 206.0,137.3 212.0,136.7 218.0,136.8 224.0,136.2 230.0,135.3 236.0,134.2 242.0,133.4 248.0,132.6 254.0,131.5 260.0,130.6 266.0,129.8 272.0,129.0 278.0,126.9 284.0,126.3 290.0,124.6 296.0,123.6 302.0,123.3 308.0,122.0 314.0,121.4 320.0,119.8 326.0,118.4 332.0,118.1 338.0,117.6 344.0,117.4 347.0,116.6" fill="none" stroke="#7a5a9f" stroke-width="1.6" opacity="0.6"/>
<polyline points="62.0,112.0 68.0,113.7 74.0,115.9 80.0,117.7 86.0,120.5 92.0,122.0 98.0,123.8 104.0,125.5 110.0,127.2 116.0,129.7 122.0,130.6 128.0,133.1 134.0,133.4 140.0,135.5 146.0,135.8 152.0,136.7 158.0,138.4 164.0,138.6 170.0,139.9 176.0,139.7 182.0,140.0 188.0,141.1 194.0,141.2 200.0,141.4 206.0,141.1 212.0,140.1 218.0,140.3 224.0,139.9 230.0,139.0 236.0,138.9 242.0,137.3 248.0,137.3 254.0,136.1 260.0,134.2 266.0,133.2 272.0,132.9 278.0,132.0 284.0,130.1 290.0,129.3 296.0,128.7 302.0,126.9 308.0,126.7 314.0,125.3 320.0,123.8 326.0,123.3 332.0,122.7 338.0,121.8 344.0,121.4 347.0,120.9" fill="none" stroke="#7a5a9f" stroke-width="1.6" opacity="0.6"/>
<polyline points="62.0,115.2 68.0,118.2 74.0,119.9 80.0,122.4 86.0,124.4 92.0,126.1 98.0,127.9 104.0,130.2 110.0,132.1 116.0,133.5 122.0,134.8 128.0,135.9 134.0,136.9 140.0,139.3 146.0,140.0 152.0,141.2 158.0,141.5 164.0,142.6 170.0,143.7 176.0,144.1 182.0,144.2 188.0,144.2 194.0,144.5 200.0,145.1 206.0,144.4 212.0,144.5 218.0,144.1 224.0,144.0 230.0,143.3 236.0,142.0 242.0,141.0 248.0,140.5 254.0,139.8 260.0,139.1 266.0,138.4 272.0,137.4 278.0,135.4 284.0,135.3 290.0,134.2 296.0,133.2 302.0,131.8 308.0,130.4 314.0,130.1 320.0,129.1 326.0,128.0 332.0,127.5 338.0,126.0 344.0,125.0 347.0,125.2" fill="none" stroke="#7a5a9f" stroke-width="1.6" opacity="0.6"/>
<polyline points="62.0,119.9 68.0,122.4 74.0,123.8 80.0,126.5 86.0,128.7 92.0,129.7 98.0,132.0 104.0,133.9 110.0,135.3 116.0,136.5 122.0,138.1 128.0,140.1 134.0,141.4 140.0,142.2 146.0,142.9 152.0,144.8 158.0,145.6 164.0,145.7 170.0,146.8 176.0,147.8 182.0,148.2 188.0,148.1 194.0,148.2 200.0,148.4 206.0,147.8 212.0,147.7 218.0,147.3 224.0,147.6 230.0,146.6 236.0,146.3 242.0,145.4 248.0,144.8 254.0,143.5 260.0,142.5 266.0,142.8 272.0,141.0 278.0,139.7 284.0,139.4 290.0,138.5 296.0,136.7 302.0,136.2 308.0,134.9 314.0,134.1 320.0,132.6 326.0,131.7 332.0,131.9 338.0,131.0 344.0,129.8 347.0,129.4" fill="none" stroke="#7a5a9f" stroke-width="1.6" opacity="0.6"/>
<polyline points="62.0,124.1 68.0,125.9 74.0,128.5 80.0,130.1 86.0,132.6 92.0,134.3 98.0,136.1 104.0,138.0 110.0,138.8 116.0,140.0 122.0,141.7 128.0,143.0 134.0,144.2 140.0,145.3 146.0,147.0 152.0,148.4 158.0,148.8 164.0,150.2 170.0,150.8 176.0,150.3 182.0,151.4 188.0,151.5 194.0,151.4 200.0,152.5 206.0,151.6 212.0,151.8 218.0,151.7 224.0,151.7 230.0,150.9 236.0,150.0 242.0,149.4 248.0,148.4 254.0,148.6 260.0,147.8 266.0,146.0 272.0,144.9 278.0,144.2 284.0,143.3 290.0,143.0 296.0,142.0 302.0,140.9 308.0,139.0 314.0,138.9 320.0,137.8 326.0,136.8 332.0,136.3 338.0,134.3 344.0,133.6 347.0,133.7" fill="none" stroke="#7a5a9f" stroke-width="1.6" opacity="0.6"/>
<polyline points="62.0,128.6 68.0,130.8 74.0,132.5 80.0,133.9 86.0,136.1 92.0,138.1 98.0,139.1 104.0,141.0 110.0,142.5 116.0,143.8 122.0,145.7 128.0,146.7 134.0,148.0 140.0,149.0 146.0,150.8 152.0,150.9 158.0,152.7 164.0,152.8 170.0,153.3 176.0,155.0 182.0,154.6 188.0,155.8 194.0,155.9 200.0,156.1 206.0,155.2 212.0,155.4 218.0,154.8 224.0,155.5 230.0,155.0 236.0,154.2 242.0,153.4 248.0,152.6 254.0,152.5 260.0,151.3 266.0,150.7 272.0,149.2 278.0,148.4 284.0,147.3 290.0,147.1 296.0,145.9 302.0,144.5 308.0,144.4 314.0,142.7 320.0,141.9 326.0,140.6 332.0,139.8 338.0,139.6 344.0,138.2 347.0,138.0" fill="none" stroke="#7a5a9f" stroke-width="1.6" opacity="0.6"/>
<polyline points="62.0,132.1 68.0,134.4 74.0,136.1 80.0,138.7 86.0,139.5 92.0,142.3 98.0,142.8 104.0,145.5 110.0,146.7 116.0,147.6 122.0,149.3 128.0,150.4 134.0,151.6 140.0,152.7 146.0,154.0 152.0,155.7 158.0,156.6 164.0,157.3 170.0,157.0 176.0,157.8 182.0,159.0 188.0,158.3 194.0,159.4 200.0,159.0 206.0,159.9 212.0,158.7 218.0,159.4 224.0,158.6 230.0,158.0 236.0,157.4 242.0,157.8 248.0,156.9 254.0,155.8 260.0,155.4 266.0,155.2 272.0,153.5 278.0,153.1 284.0,151.7 290.0,150.8 296.0,150.6 302.0,149.5 308.0,148.0 314.0,146.8 320.0,145.9 326.0,145.6 332.0,144.5 338.0,143.3 344.0,142.3 347.0,142.2" fill="none" stroke="#7a5a9f" stroke-width="1.6" opacity="0.6"/>
<polyline points="62.0,136.9 68.0,138.8 74.0,140.8 80.0,142.3 86.0,143.6 92.0,145.1 98.0,147.5 104.0,148.7 110.0,150.5 116.0,151.2 122.0,153.4 128.0,154.1 134.0,155.9 140.0,157.1 146.0,157.7 152.0,158.1 158.0,160.0 164.0,160.3 170.0,161.5 176.0,161.3 182.0,161.7 188.0,162.9 194.0,162.6 200.0,162.5 206.0,162.9 212.0,163.1 218.0,162.2 224.0,162.6 230.0,162.2 236.0,161.9 242.0,161.0 248.0,161.1 254.0,160.7 260.0,160.0 266.0,158.7 272.0,158.4 278.0,157.1 284.0,156.7 290.0,155.0 296.0,155.1 302.0,154.2 308.0,152.7 314.0,151.8 320.0,150.8 326.0,149.9 332.0,148.3 338.0,148.5 344.0,146.6 347.0,146.5" fill="none" stroke="#7a5a9f" stroke-width="1.6" opacity="0.6"/>
<polyline points="62.0,140.6 68.0,142.3 74.0,144.2 80.0,146.6 86.0,147.3 92.0,149.0 98.0,151.3 104.0,152.2 110.0,153.4 116.0,155.5 122.0,156.8 128.0,158.0 134.0,159.4 140.0,159.8 146.0,161.7 152.0,162.5 158.0,162.6 164.0,163.4 170.0,164.6 176.0,165.2 182.0,165.4 188.0,165.6 194.0,166.3 200.0,166.2 206.0,166.8 212.0,167.1 218.0,166.2 224.0,166.5 230.0,166.5 236.0,165.4 242.0,165.8 248.0,165.4 254.0,164.2 260.0,163.6 266.0,163.5 272.0,162.4 278.0,161.4 284.0,161.3 290.0,160.2 296.0,158.8 302.0,157.8 308.0,156.9 314.0,156.1 320.0,155.8 326.0,154.6 332.0,153.7 338.0,152.6 344.0,151.7 347.0,150.8" fill="none" stroke="#7a5a9f" stroke-width="1.6" opacity="0.6"/>
<polyline points="62.0,144.6 68.0,146.9 74.0,149.1 80.0,150.7 86.0,151.5 92.0,153.3 98.0,155.0 104.0,156.2 110.0,157.8 116.0,158.6 122.0,160.3 128.0,161.6 134.0,162.2 140.0,163.4 146.0,165.4 152.0,166.2 158.0,167.2 164.0,167.6 170.0,168.5 176.0,169.2 182.0,169.8 188.0,169.2 194.0,170.2 200.0,170.0 206.0,170.6 212.0,170.2 218.0,170.4 224.0,170.8 230.0,170.2 236.0,169.4 242.0,169.4 248.0,168.9 254.0,169.0 260.0,167.6 266.0,167.0 272.0,166.7 278.0,165.4 284.0,165.2 290.0,164.8 296.0,163.4 302.0,162.2 308.0,161.5 314.0,160.6 320.0,159.2 326.0,158.2 332.0,157.2 338.0,156.3 344.0,155.4 347.0,155.0" fill="none" stroke="#7a5a9f" stroke-width="1.6" opacity="0.6"/>
<polyline points="62.0,149.1 68.0,150.7 74.0,152.1 80.0,154.3 86.0,156.1 92.0,157.4 98.0,158.8 104.0,160.3 110.0,161.1 116.0,163.0 122.0,164.0 128.0,165.3 134.0,166.5 140.0,167.4 146.0,168.2 152.0,169.1 158.0,169.9 164.0,171.1 170.0,171.6 176.0,172.5 182.0,172.3 188.0,173.1 194.0,174.1 200.0,173.6 206.0,174.2 212.0,174.2 218.0,173.9 224.0,174.7 230.0,173.7 236.0,174.0 242.0,172.9 248.0,172.4 254.0,173.0 260.0,171.9 266.0,170.9 272.0,170.6 278.0,170.0 284.0,169.6 290.0,168.1 296.0,167.4 302.0,167.4 308.0,166.2 314.0,164.6 320.0,163.8 326.0,162.8 332.0,162.2 338.0,161.1 344.0,160.3 347.0,159.3" fill="none" stroke="#7a5a9f" stroke-width="1.6" opacity="0.6"/>
<polyline points="62.0,154.0 68.0,155.2 74.0,157.0 80.0,158.5 86.0,160.0 92.0,161.1 98.0,162.9 104.0,164.1 110.0,165.7 116.0,166.0 122.0,168.2 128.0,168.3 134.0,170.3 140.0,171.2 146.0,172.0 152.0,173.5 158.0,173.9 164.0,174.5 170.0,175.7 176.0,176.4 182.0,176.6 188.0,176.8 194.0,177.3 200.0,177.5 206.0,178.1 212.0,177.7 218.0,177.8 224.0,178.0 230.0,177.6 236.0,177.4 242.0,177.7 248.0,177.4 254.0,176.6 260.0,176.1 266.0,175.2 272.0,174.8 278.0,173.9 284.0,173.8 290.0,173.0 296.0,171.6 302.0,171.8 308.0,170.2 314.0,169.8 320.0,168.8 326.0,168.0 332.0,166.0 338.0,165.2 344.0,164.6 347.0,163.6" fill="none" stroke="#7a5a9f" stroke-width="1.6" opacity="0.6"/>
<polyline points="62.0,99.5 65.0,100.8 68.0,102.6 71.0,103.8 74.0,105.4 77.0,106.5 80.0,107.4 83.0,109.0 86.0,109.7 89.0,110.8 92.0,112.0 95.0,112.8 98.0,113.8 101.0,115.0 104.0,115.7 107.0,117.3 110.0,117.9 113.0,118.7 116.0,119.1 119.0,120.2 122.0,121.0 125.0,122.0 128.0,122.7 131.0,123.8 134.0,124.5 137.0,124.7 140.0,125.3 143.0,126.1 146.0,127.0 149.0,126.9 152.0,127.6 155.0,128.4 158.0,128.2 161.0,128.7 164.0,129.8 167.0,130.0 170.0,129.9 173.0,129.8 176.0,130.8 179.0,130.8 182.0,131.1 185.0,131.4 188.0,131.4 191.0,131.0 194.0,130.8 197.0,130.9 200.0,131.1 203.0,131.0 206.0,130.5 209.0,130.4 212.0,130.6 215.0,130.3 218.0,129.8 221.0,130.2 224.0,129.5 227.0,128.5 230.0,128.5 233.0,128.5 236.0,127.6 239.0,127.5 242.0,126.4 245.0,126.2 248.0,126.2 251.0,125.4 254.0,124.9 257.0,123.9 260.0,123.7 263.0,123.1 266.0,122.3 269.0,122.1 272.0,121.4 275.0,121.2 278.0,120.2 281.0,119.4 284.0,118.6 287.0,118.0 290.0,118.0 293.0,116.8 296.0,116.2 299.0,115.7 302.0,115.5 305.0,115.2 308.0,114.5 311.0,114.2 314.0,112.9 317.0,112.4 320.0,112.7 323.0,111.8 326.0,111.8 329.0,111.0 332.0,110.4 335.0,110.2 338.0,109.7 341.0,110.2 344.0,109.7 347.0,109.4" fill="none" stroke="#6a6fb0" stroke-width="1.3"/>
</g>
<rect x="267.1" y="30.6" width="72.29999999999995" height="66.4" fill="#eeeef4" stroke="#333" stroke-width="1.3"/>
<path d="M296.00,36.60 C300.50,35.80 307.00,35.88 312.00,36.20 C317.00,36.52 322.42,36.87 326.00,38.50 C329.58,40.13 332.00,42.92 333.50,46.00 C335.00,49.08 335.17,52.83 335.00,57.00 C334.83,61.17 333.92,66.83 332.50,71.00 C331.08,75.17 329.42,78.75 326.50,82.00 C323.58,85.25 319.25,88.63 315.00,90.50 C310.75,92.37 305.67,93.28 301.00,93.20 C296.33,93.12 290.92,92.20 287.00,90.00 C283.08,87.80 279.62,84.00 277.50,80.00 C275.38,76.00 274.38,70.83 274.30,66.00 C274.22,61.17 275.22,55.17 277.00,51.00 C278.78,46.83 281.83,43.40 285.00,41.00 C288.17,38.60 291.50,37.40 296.00,36.60 Z" fill="none" stroke="#7986c6" stroke-width="5.2"/>
<text x="301.8" y="69.4" font-size="7.6" font-weight="bold" text-anchor="middle" fill="#111">1mm</text>
<line x1="285" y1="72.8" x2="318.3" y2="72.8" stroke="#111" stroke-width="1.6"/>
<line x1="171" y1="104.6" x2="237" y2="104.6" stroke="#111" stroke-width="1.6"/>
<text x="204.0" y="100.2" font-size="7.8" font-weight="bold" text-anchor="middle" fill="#111">200 µm</text>
<clipPath id="c2"><rect x="63" y="214.6" width="282" height="177.1"/></clipPath>
<rect x="63" y="214.6" width="282" height="177.1" fill="#efeff4"/>
<g clip-path="url(#c2)">
<linearGradient id="gc2" x1="0" y1="0" x2="0" y2="1"><stop offset="0" stop-color="#8fb8e0"/><stop offset="1" stop-color="#eef3f9"/></linearGradient>
<polygon points="61.0,337.2 64.0,337.9 67.0,338.5 70.0,339.2 73.0,339.8 76.0,340.4 79.0,341.1 82.0,341.7 85.0,342.3 88.0,342.9 91.0,343.5 94.0,344.1 97.0,344.7 100.0,345.3 103.0,345.9 106.0,346.5 109.0,347.0 112.0,347.6 115.0,348.2 118.0,348.7 121.0,349.2 124.0,349.8 127.0,350.3 130.0,350.8 133.0,351.3 136.0,351.8 139.0,352.3 142.0,352.7 145.0,353.2 148.0,353.6 151.0,354.1 154.0,354.5 157.0,354.9 160.0,355.3 163.0,355.7 166.0,356.0 169.0,356.4 172.0,356.7 175.0,357.1 178.0,357.4 181.0,357.7 184.0,358.0 187.0,358.3 190.0,358.5 193.0,358.8 196.0,359.0 199.0,359.2 202.0,359.4 205.0,359.6 208.0,359.7 211.0,359.9 214.0,360.0 217.0,360.1 220.0,360.2 223.0,360.3 226.0,360.3 229.0,360.4 232.0,360.4 235.0,360.4 238.0,360.4 241.0,360.3 244.0,360.3 247.0,360.2 250.0,360.1 253.0,360.0 256.0,359.9 259.0,359.8 262.0,359.6 265.0,359.5 268.0,359.3 271.0,359.1 274.0,358.9 277.0,358.6 280.0,358.4 283.0,358.1 286.0,357.8 289.0,357.5 292.0,357.2 295.0,356.8 298.0,356.5 301.0,356.1 304.0,355.7 307.0,355.3 310.0,354.9 313.0,354.4 316.0,354.0 319.0,353.5 322.0,353.0 325.0,352.5 328.0,352.0 331.0,351.4 334.0,350.8 337.0,350.3 340.0,349.7 343.0,349.0 346.0,348.4 347.0,348.2 347.0,366.2 346.0,365.2 343.0,367.4 340.0,366.9 337.0,369.0 334.0,367.5 331.0,367.8 328.0,369.2 325.0,369.4 322.0,370.7 319.0,371.5 316.0,371.1 313.0,372.8 310.0,371.7 307.0,373.0 304.0,373.3 301.0,372.6 298.0,375.3 295.0,373.7 292.0,375.3 289.0,374.6 286.0,375.3 283.0,376.3 280.0,377.6 277.0,376.0 274.0,377.7 271.0,376.2 268.0,377.5 265.0,377.1 262.0,378.2 259.0,379.7 256.0,377.7 253.0,380.2 250.0,378.6 247.0,379.8 244.0,378.8 241.0,378.4 238.0,380.4 235.0,380.6 232.0,379.4 229.0,378.5 226.0,380.7 223.0,379.0 220.0,378.4 217.0,380.2 214.0,378.5 211.0,378.9 208.0,379.7 205.0,377.7 202.0,378.1 199.0,378.1 196.0,377.5 193.0,377.5 190.0,377.5 187.0,378.6 184.0,376.2 181.0,375.7 178.0,376.3 175.0,375.9 172.0,375.9 169.0,374.2 166.0,375.1 163.0,373.8 160.0,375.4 157.0,372.6 154.0,372.6 151.0,371.5 148.0,371.2 145.0,372.3 142.0,370.8 139.0,371.4 136.0,369.1 133.0,368.2 130.0,369.1 127.0,367.5 124.0,366.4 121.0,367.9 118.0,365.9 115.0,366.7 112.0,365.0 109.0,363.4 106.0,364.3 103.0,363.9 100.0,361.4 97.0,362.4 94.0,362.0 91.0,358.6 88.0,358.6 85.0,359.0 82.0,357.8 79.0,358.7 76.0,356.9 73.0,357.2 70.0,354.0 67.0,354.3 64.0,353.9 61.0,352.9" fill="url(#gc2)"/>
<line x1="221.5" y1="367.2" x2="226.8" y2="365.7" stroke="#4f8cc6" stroke-width="1.3" opacity="0.85"/>
<line x1="265.7" y1="361.1" x2="269.7" y2="363.0" stroke="#ffffff" stroke-width="1.3" opacity="0.85"/>
<line x1="142.6" y1="360.1" x2="149.6" y2="363.0" stroke="#8fb8df" stroke-width="1.3" opacity="0.85"/>
<line x1="305.9" y1="357.8" x2="309.3" y2="355.1" stroke="#8fb8df" stroke-width="1.3" opacity="0.85"/>
<line x1="288.4" y1="369.9" x2="294.3" y2="365.3" stroke="#8fb8df" stroke-width="1.3" opacity="0.85"/>
<line x1="260.2" y1="364.3" x2="267.3" y2="362.9" stroke="#8fb8df" stroke-width="1.3" opacity="0.85"/>
<line x1="90.6" y1="348.2" x2="94.9" y2="348.9" stroke="#6fa2d4" stroke-width="1.3" opacity="0.85"/>
<line x1="263.9" y1="360.3" x2="266.8" y2="358.8" stroke="#6fa2d4" stroke-width="1.3" opacity="0.85"/>
<line x1="276.5" y1="361.5" x2="283.1" y2="362.0" stroke="#8fb8df" stroke-width="1.3" opacity="0.85"/>
<line x1="243.0" y1="363.7" x2="250.2" y2="364.4" stroke="#8fb8df" stroke-width="1.3" opacity="0.85"/>
<line x1="209.9" y1="377.9" x2="216.2" y2="378.5" stroke="#4f8cc6" stroke-width="1.3" opacity="0.85"/>
<line x1="94.5" y1="356.9" x2="99.9" y2="360.2" stroke="#3f7cb8" stroke-width="1.3" opacity="0.85"/>
<line x1="234.3" y1="361.3" x2="237.9" y2="359.1" stroke="#ffffff" stroke-width="1.3" opacity="0.85"/>
<line x1="122.3" y1="365.4" x2="127.9" y2="361.7" stroke="#8fb8df" stroke-width="1.3" opacity="0.85"/>
<line x1="272.8" y1="377.1" x2="278.4" y2="374.8" stroke="#3f7cb8" stroke-width="1.3" opacity="0.85"/>
<line x1="88.4" y1="358.5" x2="92.6" y2="361.4" stroke="#8fb8df" stroke-width="1.3" opacity="0.85"/>
<line x1="204.9" y1="373.0" x2="211.9" y2="374.3" stroke="#3f7cb8" stroke-width="1.3" opacity="0.85"/>
<line x1="78.3" y1="352.3" x2="83.5" y2="352.3" stroke="#6fa2d4" stroke-width="1.3" opacity="0.85"/>
<line x1="201.0" y1="363.0" x2="208.0" y2="366.4" stroke="#3f7cb8" stroke-width="1.3" opacity="0.85"/>
<line x1="136.7" y1="361.7" x2="144.4" y2="363.2" stroke="#3f7cb8" stroke-width="1.3" opacity="0.85"/>
<line x1="136.4" y1="369.1" x2="140.2" y2="368.3" stroke="#4f8cc6" stroke-width="1.3" opacity="0.85"/>
<line x1="119.8" y1="354.4" x2="123.3" y2="355.4" stroke="#8fb8df" stroke-width="1.3" opacity="0.85"/>
<line x1="199.1" y1="373.0" x2="202.1" y2="373.8" stroke="#6fa2d4" stroke-width="1.3" opacity="0.85"/>
<line x1="326.9" y1="358.3" x2="330.8" y2="360.6" stroke="#6fa2d4" stroke-width="1.3" opacity="0.85"/>
<line x1="228.7" y1="365.0" x2="234.0" y2="361.9" stroke="#ffffff" stroke-width="1.3" opacity="0.85"/>
<line x1="277.5" y1="361.7" x2="283.7" y2="362.5" stroke="#ffffff" stroke-width="1.3" opacity="0.85"/>
<line x1="299.7" y1="363.4" x2="303.6" y2="364.5" stroke="#4f8cc6" stroke-width="1.3" opacity="0.85"/>
<line x1="164.7" y1="359.8" x2="167.8" y2="358.8" stroke="#6fa2d4" stroke-width="1.3" opacity="0.85"/>
<line x1="94.2" y1="349.3" x2="101.1" y2="345.7" stroke="#ffffff" stroke-width="1.3" opacity="0.85"/>
<line x1="195.2" y1="366.0" x2="198.3" y2="363.8" stroke="#4f8cc6" stroke-width="1.3" opacity="0.85"/>
<line x1="195.1" y1="378.0" x2="200.2" y2="379.8" stroke="#ffffff" stroke-width="1.3" opacity="0.85"/>
<line x1="339.4" y1="359.8" x2="343.0" y2="359.7" stroke="#ffffff" stroke-width="1.3" opacity="0.85"/>
<line x1="200.7" y1="374.6" x2="205.2" y2="373.7" stroke="#4f8cc6" stroke-width="1.3" opacity="0.85"/>
<line x1="244.8" y1="372.2" x2="252.3" y2="373.8" stroke="#ffffff" stroke-width="1.3" opacity="0.85"/>
<line x1="247.2" y1="361.7" x2="252.5" y2="357.5" stroke="#ffffff" stroke-width="1.3" opacity="0.85"/>
<line x1="299.8" y1="361.5" x2="303.6" y2="362.3" stroke="#8fb8df" stroke-width="1.3" opacity="0.85"/>
<line x1="110.5" y1="360.7" x2="117.2" y2="363.0" stroke="#ffffff" stroke-width="1.3" opacity="0.85"/>
<line x1="170.0" y1="368.8" x2="174.4" y2="367.1" stroke="#6fa2d4" stroke-width="1.3" opacity="0.85"/>
<line x1="218.4" y1="367.3" x2="225.1" y2="364.8" stroke="#4f8cc6" stroke-width="1.3" opacity="0.85"/>
<line x1="93.2" y1="357.2" x2="99.1" y2="362.1" stroke="#ffffff" stroke-width="1.3" opacity="0.85"/>
<line x1="318.3" y1="370.2" x2="323.7" y2="370.2" stroke="#6fa2d4" stroke-width="1.3" opacity="0.85"/>
<line x1="343.8" y1="359.6" x2="349.1" y2="356.7" stroke="#6fa2d4" stroke-width="1.3" opacity="0.85"/>
<line x1="109.1" y1="354.6" x2="115.7" y2="350.3" stroke="#4f8cc6" stroke-width="1.3" opacity="0.85"/>
<line x1="302.9" y1="364.3" x2="306.9" y2="363.6" stroke="#4f8cc6" stroke-width="1.3" opacity="0.85"/>
<line x1="300.1" y1="371.3" x2="307.0" y2="370.6" stroke="#ffffff" stroke-width="1.3" opacity="0.85"/>
<line x1="83.3" y1="342.9" x2="88.9" y2="346.3" stroke="#4f8cc6" stroke-width="1.3" opacity="0.85"/>
<line x1="186.7" y1="371.1" x2="192.7" y2="375.0" stroke="#6fa2d4" stroke-width="1.3" opacity="0.85"/>
<line x1="169.8" y1="356.6" x2="176.6" y2="358.3" stroke="#3f7cb8" stroke-width="1.3" opacity="0.85"/>
<line x1="118.1" y1="350.2" x2="122.7" y2="349.9" stroke="#3f7cb8" stroke-width="1.3" opacity="0.85"/>
<line x1="319.3" y1="368.6" x2="325.5" y2="373.3" stroke="#3f7cb8" stroke-width="1.3" opacity="0.85"/>
<line x1="86.0" y1="355.8" x2="92.4" y2="354.2" stroke="#8fb8df" stroke-width="1.3" opacity="0.85"/>
<line x1="146.8" y1="363.9" x2="154.5" y2="363.7" stroke="#8fb8df" stroke-width="1.3" opacity="0.85"/>
<line x1="101.6" y1="360.1" x2="107.1" y2="361.2" stroke="#6fa2d4" stroke-width="1.3" opacity="0.85"/>
<line x1="125.7" y1="363.0" x2="131.4" y2="360.0" stroke="#3f7cb8" stroke-width="1.3" opacity="0.85"/>
<line x1="167.9" y1="367.3" x2="173.0" y2="367.5" stroke="#3f7cb8" stroke-width="1.3" opacity="0.85"/>
<line x1="187.5" y1="363.4" x2="190.7" y2="365.9" stroke="#6fa2d4" stroke-width="1.3" opacity="0.85"/>
<line x1="217.6" y1="362.3" x2="224.4" y2="359.8" stroke="#4f8cc6" stroke-width="1.3" opacity="0.85"/>
<line x1="115.9" y1="359.8" x2="122.0" y2="357.4" stroke="#ffffff" stroke-width="1.3" opacity="0.85"/>
<line x1="126.9" y1="360.3" x2="130.5" y2="360.4" stroke="#3f7cb8" stroke-width="1.3" opacity="0.85"/>
<line x1="222.9" y1="376.8" x2="228.7" y2="379.4" stroke="#6fa2d4" stroke-width="1.3" opacity="0.85"/>
<line x1="306.5" y1="365.0" x2="312.7" y2="367.4" stroke="#4f8cc6" stroke-width="1.3" opacity="0.85"/>
<line x1="239.7" y1="378.7" x2="245.3" y2="378.4" stroke="#8fb8df" stroke-width="1.3" opacity="0.85"/>
<line x1="173.5" y1="360.2" x2="181.3" y2="360.9" stroke="#4f8cc6" stroke-width="1.3" opacity="0.85"/>
<line x1="101.6" y1="358.6" x2="104.6" y2="357.4" stroke="#ffffff" stroke-width="1.3" opacity="0.85"/>
<line x1="74.8" y1="351.5" x2="82.5" y2="351.1" stroke="#4f8cc6" stroke-width="1.3" opacity="0.85"/>
<line x1="262.5" y1="367.5" x2="269.8" y2="368.8" stroke="#6fa2d4" stroke-width="1.3" opacity="0.85"/>
<line x1="221.8" y1="378.0" x2="228.3" y2="374.7" stroke="#8fb8df" stroke-width="1.3" opacity="0.85"/>
<line x1="300.3" y1="370.4" x2="305.5" y2="366.2" stroke="#ffffff" stroke-width="1.3" opacity="0.85"/>
<line x1="97.6" y1="351.0" x2="103.0" y2="355.0" stroke="#8fb8df" stroke-width="1.3" opacity="0.85"/>
<line x1="200.9" y1="375.3" x2="205.6" y2="374.3" stroke="#ffffff" stroke-width="1.3" opacity="0.85"/>
<line x1="289.5" y1="359.5" x2="296.9" y2="361.3" stroke="#ffffff" stroke-width="1.3" opacity="0.85"/>
<line x1="162.9" y1="368.7" x2="165.3" y2="370.7" stroke="#ffffff" stroke-width="1.3" opacity="0.85"/>
<line x1="95.0" y1="344.7" x2="98.3" y2="346.1" stroke="#6fa2d4" stroke-width="1.3" opacity="0.85"/>
<line x1="105.4" y1="362.0" x2="112.5" y2="363.8" stroke="#6fa2d4" stroke-width="1.3" opacity="0.85"/>
<line x1="228.9" y1="365.2" x2="236.4" y2="368.0" stroke="#ffffff" stroke-width="1.3" opacity="0.85"/>
<line x1="330.6" y1="351.7" x2="334.7" y2="349.5" stroke="#3f7cb8" stroke-width="1.3" opacity="0.85"/>
<line x1="199.5" y1="359.8" x2="205.4" y2="355.8" stroke="#3f7cb8" stroke-width="1.3" opacity="0.85"/>
<line x1="293.8" y1="369.0" x2="298.7" y2="368.9" stroke="#6fa2d4" stroke-width="1.3" opacity="0.85"/>
<line x1="258.4" y1="368.2" x2="261.7" y2="370.6" stroke="#3f7cb8" stroke-width="1.3" opacity="0.85"/>
<line x1="84.4" y1="347.6" x2="87.9" y2="349.7" stroke="#3f7cb8" stroke-width="1.3" opacity="0.85"/>
<line x1="239.1" y1="364.4" x2="245.9" y2="366.6" stroke="#ffffff" stroke-width="1.3" opacity="0.85"/>
<line x1="225.7" y1="367.8" x2="229.4" y2="364.8" stroke="#3f7cb8" stroke-width="1.3" opacity="0.85"/>
<line x1="199.3" y1="363.6" x2="203.0" y2="365.8" stroke="#3f7cb8" stroke-width="1.3" opacity="0.85"/>
<line x1="75.8" y1="342.8" x2="81.8" y2="340.8" stroke="#ffffff" stroke-width="1.3" opacity="0.85"/>
<line x1="80.9" y1="357.6" x2="85.7" y2="358.1" stroke="#3f7cb8" stroke-width="1.3" opacity="0.85"/>
<line x1="332.9" y1="368.5" x2="336.0" y2="368.8" stroke="#4f8cc6" stroke-width="1.3" opacity="0.85"/>
<line x1="309.0" y1="368.6" x2="315.1" y2="369.8" stroke="#ffffff" stroke-width="1.3" opacity="0.85"/>
<line x1="286.3" y1="372.0" x2="290.2" y2="373.7" stroke="#6fa2d4" stroke-width="1.3" opacity="0.85"/>
<line x1="255.1" y1="365.6" x2="261.6" y2="367.9" stroke="#3f7cb8" stroke-width="1.3" opacity="0.85"/>
<line x1="303.6" y1="360.1" x2="310.6" y2="362.3" stroke="#ffffff" stroke-width="1.3" opacity="0.85"/>
<line x1="80.0" y1="346.8" x2="83.6" y2="349.7" stroke="#ffffff" stroke-width="1.3" opacity="0.85"/>
<line x1="205.1" y1="377.0" x2="210.5" y2="381.5" stroke="#6fa2d4" stroke-width="1.3" opacity="0.85"/>
<line x1="101.2" y1="345.7" x2="108.6" y2="345.2" stroke="#ffffff" stroke-width="1.3" opacity="0.85"/>
<line x1="174.7" y1="371.8" x2="182.3" y2="372.7" stroke="#6fa2d4" stroke-width="1.3" opacity="0.85"/>
<line x1="148.0" y1="359.3" x2="154.6" y2="359.7" stroke="#ffffff" stroke-width="1.3" opacity="0.85"/>
<line x1="83.7" y1="345.1" x2="91.3" y2="346.1" stroke="#ffffff" stroke-width="1.3" opacity="0.85"/>
<line x1="226.7" y1="379.4" x2="231.1" y2="381.2" stroke="#ffffff" stroke-width="1.3" opacity="0.85"/>
<line x1="266.4" y1="376.3" x2="273.3" y2="374.5" stroke="#6fa2d4" stroke-width="1.3" opacity="0.85"/>
<line x1="140.8" y1="357.2" x2="143.6" y2="355.8" stroke="#ffffff" stroke-width="1.3" opacity="0.85"/>
<line x1="129.8" y1="351.1" x2="133.0" y2="350.9" stroke="#3f7cb8" stroke-width="1.3" opacity="0.85"/>
<line x1="142.7" y1="361.9" x2="146.0" y2="360.7" stroke="#4f8cc6" stroke-width="1.3" opacity="0.85"/>
<line x1="334.6" y1="361.3" x2="337.7" y2="362.8" stroke="#3f7cb8" stroke-width="1.3" opacity="0.85"/>
<line x1="159.2" y1="357.7" x2="163.1" y2="357.9" stroke="#4f8cc6" stroke-width="1.3" opacity="0.85"/>
<line x1="243.4" y1="377.8" x2="247.4" y2="376.8" stroke="#8fb8df" stroke-width="1.3" opacity="0.85"/>
<line x1="70.6" y1="347.2" x2="76.2" y2="349.6" stroke="#6fa2d4" stroke-width="1.3" opacity="0.85"/>
<line x1="79.2" y1="347.8" x2="82.4" y2="348.4" stroke="#ffffff" stroke-width="1.3" opacity="0.85"/>
<line x1="281.8" y1="376.0" x2="285.9" y2="378.9" stroke="#4f8cc6" stroke-width="1.3" opacity="0.85"/>
<line x1="70.3" y1="344.3" x2="76.3" y2="342.7" stroke="#ffffff" stroke-width="1.3" opacity="0.85"/>
<line x1="236.1" y1="374.2" x2="240.1" y2="371.7" stroke="#6fa2d4" stroke-width="1.3" opacity="0.85"/>
<line x1="122.4" y1="358.7" x2="129.4" y2="357.3" stroke="#ffffff" stroke-width="1.3" opacity="0.85"/>
<line x1="182.4" y1="368.2" x2="188.3" y2="368.7" stroke="#8fb8df" stroke-width="1.3" opacity="0.85"/>
<line x1="339.8" y1="359.9" x2="343.8" y2="360.6" stroke="#8fb8df" stroke-width="1.3" opacity="0.85"/>
<line x1="197.7" y1="359.7" x2="203.8" y2="361.0" stroke="#3f7cb8" stroke-width="1.3" opacity="0.85"/>
<line x1="338.6" y1="358.0" x2="343.0" y2="358.1" stroke="#ffffff" stroke-width="1.3" opacity="0.85"/>
<line x1="100.2" y1="345.5" x2="105.4" y2="346.7" stroke="#ffffff" stroke-width="1.3" opacity="0.85"/>
<line x1="105.5" y1="357.0" x2="109.4" y2="360.1" stroke="#4f8cc6" stroke-width="1.3" opacity="0.85"/>
<line x1="239.1" y1="362.7" x2="244.4" y2="360.4" stroke="#6fa2d4" stroke-width="1.3" opacity="0.85"/>
<line x1="136.1" y1="362.6" x2="141.7" y2="366.2" stroke="#8fb8df" stroke-width="1.3" opacity="0.85"/>
<line x1="304.3" y1="369.4" x2="309.8" y2="368.2" stroke="#8fb8df" stroke-width="1.3" opacity="0.85"/>
<line x1="131.4" y1="368.4" x2="136.8" y2="369.5" stroke="#ffffff" stroke-width="1.3" opacity="0.85"/>
<line x1="317.1" y1="360.6" x2="320.8" y2="362.2" stroke="#4f8cc6" stroke-width="1.3" opacity="0.85"/>
<line x1="93.4" y1="356.1" x2="96.7" y2="356.8" stroke="#ffffff" stroke-width="1.3" opacity="0.85"/>
<line x1="253.1" y1="366.6" x2="257.2" y2="365.9" stroke="#ffffff" stroke-width="1.3" opacity="0.85"/>
<line x1="329.5" y1="362.7" x2="333.4" y2="361.3" stroke="#ffffff" stroke-width="1.3" opacity="0.85"/>
<line x1="263.0" y1="364.1" x2="267.6" y2="362.9" stroke="#ffffff" stroke-width="1.3" opacity="0.85"/>
<line x1="244.2" y1="365.9" x2="251.6" y2="362.9" stroke="#3f7cb8" stroke-width="1.3" opacity="0.85"/>
<line x1="286.0" y1="366.4" x2="293.1" y2="369.2" stroke="#6fa2d4" stroke-width="1.3" opacity="0.85"/>
<line x1="295.0" y1="361.9" x2="299.7" y2="361.8" stroke="#6fa2d4" stroke-width="1.3" opacity="0.85"/>
<line x1="108.6" y1="358.5" x2="114.5" y2="358.1" stroke="#3f7cb8" stroke-width="1.3" opacity="0.85"/>
<line x1="77.7" y1="353.5" x2="84.6" y2="355.8" stroke="#4f8cc6" stroke-width="1.3" opacity="0.85"/>
<line x1="282.9" y1="373.6" x2="286.3" y2="375.5" stroke="#ffffff" stroke-width="1.3" opacity="0.85"/>
<line x1="256.2" y1="374.9" x2="259.4" y2="377.0" stroke="#6fa2d4" stroke-width="1.3" opacity="0.85"/>
<line x1="320.1" y1="356.0" x2="325.7" y2="352.4" stroke="#6fa2d4" stroke-width="1.3" opacity="0.85"/>
<line x1="194.0" y1="366.6" x2="199.0" y2="367.6" stroke="#8fb8df" stroke-width="1.3" opacity="0.85"/>
<line x1="265.0" y1="375.7" x2="271.3" y2="370.9" stroke="#6fa2d4" stroke-width="1.3" opacity="0.85"/>
<line x1="119.8" y1="359.9" x2="122.5" y2="358.4" stroke="#3f7cb8" stroke-width="1.3" opacity="0.85"/>
<line x1="128.3" y1="358.1" x2="131.1" y2="355.9" stroke="#ffffff" stroke-width="1.3" opacity="0.85"/>
<line x1="81.2" y1="343.3" x2="87.4" y2="348.1" stroke="#3f7cb8" stroke-width="1.3" opacity="0.85"/>
<line x1="183.8" y1="361.4" x2="189.5" y2="358.4" stroke="#8fb8df" stroke-width="1.3" opacity="0.85"/>
<line x1="216.8" y1="379.4" x2="221.9" y2="382.0" stroke="#4f8cc6" stroke-width="1.3" opacity="0.85"/>
<line x1="161.5" y1="359.5" x2="168.3" y2="363.5" stroke="#8fb8df" stroke-width="1.3" opacity="0.85"/>
<line x1="83.4" y1="353.5" x2="86.3" y2="352.5" stroke="#4f8cc6" stroke-width="1.3" opacity="0.85"/>
<line x1="118.4" y1="349.6" x2="124.0" y2="353.7" stroke="#ffffff" stroke-width="1.3" opacity="0.85"/>
<line x1="66.0" y1="349.4" x2="72.2" y2="349.8" stroke="#3f7cb8" stroke-width="1.3" opacity="0.85"/>
<line x1="156.3" y1="362.4" x2="163.8" y2="365.1" stroke="#ffffff" stroke-width="1.3" opacity="0.85"/>
<line x1="175.6" y1="363.2" x2="179.6" y2="366.4" stroke="#ffffff" stroke-width="1.3" opacity="0.85"/>
<line x1="277.6" y1="374.5" x2="283.5" y2="378.2" stroke="#8fb8df" stroke-width="1.3" opacity="0.85"/>
<line x1="64.5" y1="347.8" x2="71.7" y2="345.2" stroke="#3f7cb8" stroke-width="1.3" opacity="0.85"/>
<line x1="268.9" y1="377.4" x2="275.8" y2="379.0" stroke="#4f8cc6" stroke-width="1.3" opacity="0.85"/>
<line x1="300.7" y1="370.0" x2="306.8" y2="365.5" stroke="#8fb8df" stroke-width="1.3" opacity="0.85"/>
<line x1="220.5" y1="373.5" x2="225.6" y2="374.7" stroke="#ffffff" stroke-width="1.3" opacity="0.85"/>
<line x1="337.0" y1="350.3" x2="342.9" y2="353.5" stroke="#3f7cb8" stroke-width="1.3" opacity="0.85"/>
<line x1="159.5" y1="365.4" x2="163.9" y2="367.6" stroke="#8fb8df" stroke-width="1.3" opacity="0.85"/>
<line x1="308.2" y1="361.4" x2="310.8" y2="363.4" stroke="#ffffff" stroke-width="1.3" opacity="0.85"/>
<line x1="235.8" y1="373.4" x2="240.3" y2="374.2" stroke="#3f7cb8" stroke-width="1.3" opacity="0.85"/>
<line x1="250.3" y1="377.5" x2="256.8" y2="375.3" stroke="#ffffff" stroke-width="1.3" opacity="0.85"/>
<line x1="304.9" y1="361.7" x2="310.8" y2="362.3" stroke="#6fa2d4" stroke-width="1.3" opacity="0.85"/>
<line x1="81.6" y1="353.9" x2="86.0" y2="352.0" stroke="#6fa2d4" stroke-width="1.3" opacity="0.85"/>
<line x1="292.4" y1="361.4" x2="295.8" y2="363.1" stroke="#ffffff" stroke-width="1.3" opacity="0.85"/>
<line x1="113.1" y1="364.0" x2="120.2" y2="365.5" stroke="#4f8cc6" stroke-width="1.3" opacity="0.85"/>
<line x1="153.8" y1="361.1" x2="161.1" y2="360.4" stroke="#ffffff" stroke-width="1.3" opacity="0.85"/>
<line x1="106.4" y1="350.8" x2="109.8" y2="350.1" stroke="#3f7cb8" stroke-width="1.3" opacity="0.85"/>
<line x1="210.0" y1="368.7" x2="213.4" y2="368.2" stroke="#ffffff" stroke-width="1.3" opacity="0.85"/>
<line x1="259.0" y1="368.1" x2="263.9" y2="370.3" stroke="#3f7cb8" stroke-width="1.3" opacity="0.85"/>
<line x1="105.3" y1="357.8" x2="110.1" y2="357.9" stroke="#6fa2d4" stroke-width="1.3" opacity="0.85"/>
<line x1="238.6" y1="370.4" x2="245.2" y2="368.0" stroke="#3f7cb8" stroke-width="1.3" opacity="0.85"/>
<line x1="119.6" y1="358.9" x2="122.6" y2="357.4" stroke="#8fb8df" stroke-width="1.3" opacity="0.85"/>
<line x1="216.6" y1="377.9" x2="220.6" y2="376.6" stroke="#ffffff" stroke-width="1.3" opacity="0.85"/>
<line x1="88.8" y1="353.5" x2="95.4" y2="350.6" stroke="#ffffff" stroke-width="1.3" opacity="0.85"/>
<line x1="333.3" y1="356.1" x2="339.0" y2="359.9" stroke="#8fb8df" stroke-width="1.3" opacity="0.85"/>
<line x1="187.8" y1="365.4" x2="194.1" y2="363.6" stroke="#ffffff" stroke-width="1.3" opacity="0.85"/>
<line x1="184.5" y1="369.8" x2="188.5" y2="368.2" stroke="#3f7cb8" stroke-width="1.3" opacity="0.85"/>
<line x1="99.5" y1="355.5" x2="106.5" y2="359.3" stroke="#3f7cb8" stroke-width="1.3" opacity="0.85"/>
<line x1="168.0" y1="368.9" x2="171.8" y2="366.3" stroke="#ffffff" stroke-width="1.3" opacity="0.85"/>
<line x1="170.0" y1="366.5" x2="174.6" y2="369.4" stroke="#4f8cc6" stroke-width="1.3" opacity="0.85"/>
<line x1="93.4" y1="353.3" x2="100.8" y2="355.4" stroke="#ffffff" stroke-width="1.3" opacity="0.85"/>
<line x1="180.0" y1="366.7" x2="187.4" y2="366.1" stroke="#ffffff" stroke-width="1.3" opacity="0.85"/>
<line x1="101.1" y1="358.1" x2="104.0" y2="357.0" stroke="#6fa2d4" stroke-width="1.3" opacity="0.85"/>
<line x1="176.3" y1="358.0" x2="182.7" y2="358.5" stroke="#ffffff" stroke-width="1.3" opacity="0.85"/>
<line x1="280.1" y1="360.5" x2="283.5" y2="358.2" stroke="#4f8cc6" stroke-width="1.3" opacity="0.85"/>
<line x1="91.7" y1="345.1" x2="98.4" y2="345.7" stroke="#4f8cc6" stroke-width="1.3" opacity="0.85"/>
<line x1="295.4" y1="360.3" x2="299.5" y2="362.6" stroke="#3f7cb8" stroke-width="1.3" opacity="0.85"/>
<line x1="257.9" y1="367.6" x2="262.4" y2="371.4" stroke="#4f8cc6" stroke-width="1.3" opacity="0.85"/>
<line x1="308.9" y1="357.6" x2="313.6" y2="357.7" stroke="#4f8cc6" stroke-width="1.3" opacity="0.85"/>
<line x1="115.5" y1="357.5" x2="120.2" y2="354.4" stroke="#ffffff" stroke-width="1.3" opacity="0.85"/>
<line x1="134.9" y1="366.9" x2="140.7" y2="367.0" stroke="#ffffff" stroke-width="1.3" opacity="0.85"/>
<line x1="255.1" y1="365.7" x2="259.2" y2="365.0" stroke="#ffffff" stroke-width="1.3" opacity="0.85"/>
<line x1="304.6" y1="360.2" x2="307.8" y2="357.8" stroke="#3f7cb8" stroke-width="1.3" opacity="0.85"/>
<line x1="246.9" y1="377.9" x2="252.9" y2="379.7" stroke="#6fa2d4" stroke-width="1.3" opacity="0.85"/>
<line x1="166.1" y1="371.2" x2="169.5" y2="373.4" stroke="#3f7cb8" stroke-width="1.3" opacity="0.85"/>
<line x1="250.2" y1="373.9" x2="252.7" y2="372.1" stroke="#3f7cb8" stroke-width="1.3" opacity="0.85"/>
<line x1="295.2" y1="357.5" x2="299.3" y2="357.1" stroke="#6fa2d4" stroke-width="1.3" opacity="0.85"/>
<line x1="263.4" y1="374.4" x2="269.3" y2="374.0" stroke="#8fb8df" stroke-width="1.3" opacity="0.85"/>
<line x1="188.5" y1="375.4" x2="191.7" y2="375.1" stroke="#8fb8df" stroke-width="1.3" opacity="0.85"/>
<line x1="98.1" y1="347.2" x2="104.8" y2="350.4" stroke="#ffffff" stroke-width="1.3" opacity="0.85"/>
<line x1="113.8" y1="363.7" x2="119.1" y2="366.1" stroke="#ffffff" stroke-width="1.3" opacity="0.85"/>
<line x1="125.3" y1="362.6" x2="131.4" y2="365.4" stroke="#3f7cb8" stroke-width="1.3" opacity="0.85"/>
<line x1="299.4" y1="358.9" x2="306.4" y2="355.9" stroke="#4f8cc6" stroke-width="1.3" opacity="0.85"/>
<line x1="194.3" y1="362.8" x2="197.1" y2="360.7" stroke="#6fa2d4" stroke-width="1.3" opacity="0.85"/>
<line x1="248.8" y1="365.0" x2="256.1" y2="367.0" stroke="#6fa2d4" stroke-width="1.3" opacity="0.85"/>
<line x1="307.8" y1="371.4" x2="311.1" y2="369.7" stroke="#ffffff" stroke-width="1.3" opacity="0.85"/>
<line x1="145.8" y1="357.5" x2="151.5" y2="356.1" stroke="#3f7cb8" stroke-width="1.3" opacity="0.85"/>
<line x1="265.9" y1="365.1" x2="270.1" y2="365.4" stroke="#6fa2d4" stroke-width="1.3" opacity="0.85"/>
<line x1="105.8" y1="359.9" x2="113.6" y2="358.7" stroke="#4f8cc6" stroke-width="1.3" opacity="0.85"/>
<line x1="155.4" y1="357.6" x2="159.7" y2="358.5" stroke="#8fb8df" stroke-width="1.3" opacity="0.85"/>
<line x1="89.4" y1="350.8" x2="96.0" y2="350.2" stroke="#8fb8df" stroke-width="1.3" opacity="0.85"/>
<line x1="176.2" y1="357.9" x2="180.8" y2="359.0" stroke="#6fa2d4" stroke-width="1.3" opacity="0.85"/>
<line x1="343.9" y1="365.6" x2="349.3" y2="364.0" stroke="#ffffff" stroke-width="1.3" opacity="0.85"/>
<line x1="68.0" y1="351.4" x2="74.2" y2="355.4" stroke="#6fa2d4" stroke-width="1.3" opacity="0.85"/>
<line x1="199.7" y1="376.1" x2="205.7" y2="376.4" stroke="#4f8cc6" stroke-width="1.3" opacity="0.85"/>
<line x1="119.8" y1="357.2" x2="126.1" y2="359.6" stroke="#6fa2d4" stroke-width="1.3" opacity="0.85"/>
<line x1="226.2" y1="366.1" x2="231.2" y2="363.0" stroke="#4f8cc6" stroke-width="1.3" opacity="0.85"/>
<line x1="160.1" y1="373.0" x2="165.2" y2="369.3" stroke="#ffffff" stroke-width="1.3" opacity="0.85"/>
<line x1="161.8" y1="364.5" x2="166.3" y2="363.7" stroke="#4f8cc6" stroke-width="1.3" opacity="0.85"/>
<line x1="285.1" y1="363.2" x2="288.5" y2="363.5" stroke="#4f8cc6" stroke-width="1.3" opacity="0.85"/>
<line x1="273.6" y1="361.0" x2="277.4" y2="360.4" stroke="#4f8cc6" stroke-width="1.3" opacity="0.85"/>
<line x1="72.5" y1="348.0" x2="75.9" y2="348.7" stroke="#6fa2d4" stroke-width="1.3" opacity="0.85"/>
<line x1="180.1" y1="373.7" x2="183.3" y2="374.8" stroke="#8fb8df" stroke-width="1.3" opacity="0.85"/>
<line x1="109.2" y1="350.0" x2="116.7" y2="348.2" stroke="#8fb8df" stroke-width="1.3" opacity="0.85"/>
<line x1="309.3" y1="363.4" x2="312.5" y2="361.4" stroke="#6fa2d4" stroke-width="1.3" opacity="0.85"/>
<line x1="96.0" y1="352.8" x2="100.9" y2="349.9" stroke="#ffffff" stroke-width="1.3" opacity="0.85"/>
<line x1="132.4" y1="361.3" x2="135.4" y2="360.2" stroke="#6fa2d4" stroke-width="1.3" opacity="0.85"/>
<line x1="142.9" y1="362.9" x2="149.6" y2="367.2" stroke="#8fb8df" stroke-width="1.3" opacity="0.85"/>
<line x1="308.8" y1="363.9" x2="314.6" y2="359.2" stroke="#4f8cc6" stroke-width="1.3" opacity="0.85"/>
<line x1="200.7" y1="374.7" x2="206.4" y2="376.3" stroke="#6fa2d4" stroke-width="1.3" opacity="0.85"/>
<line x1="87.5" y1="345.6" x2="93.1" y2="350.3" stroke="#ffffff" stroke-width="1.3" opacity="0.85"/>
<line x1="173.9" y1="366.9" x2="177.7" y2="369.2" stroke="#4f8cc6" stroke-width="1.3" opacity="0.85"/>
<line x1="250.2" y1="364.2" x2="254.1" y2="365.8" stroke="#3f7cb8" stroke-width="1.3" opacity="0.85"/>
<line x1="263.4" y1="360.7" x2="267.6" y2="361.3" stroke="#4f8cc6" stroke-width="1.3" opacity="0.85"/>
<line x1="74.6" y1="350.2" x2="80.5" y2="352.9" stroke="#ffffff" stroke-width="1.3" opacity="0.85"/>
<line x1="86.7" y1="355.1" x2="92.1" y2="352.5" stroke="#ffffff" stroke-width="1.3" opacity="0.85"/>
<line x1="328.2" y1="359.2" x2="332.4" y2="356.4" stroke="#6fa2d4" stroke-width="1.3" opacity="0.85"/>
<line x1="104.8" y1="354.8" x2="108.3" y2="356.4" stroke="#6fa2d4" stroke-width="1.3" opacity="0.85"/>
<line x1="120.5" y1="365.2" x2="126.6" y2="367.0" stroke="#4f8cc6" stroke-width="1.3" opacity="0.85"/>
<line x1="344.2" y1="362.9" x2="349.6" y2="362.9" stroke="#ffffff" stroke-width="1.3" opacity="0.85"/>
<line x1="319.1" y1="366.6" x2="324.7" y2="364.1" stroke="#8fb8df" stroke-width="1.3" opacity="0.85"/>
<line x1="77.2" y1="346.6" x2="82.1" y2="347.7" stroke="#ffffff" stroke-width="1.3" opacity="0.85"/>
<line x1="227.3" y1="375.9" x2="232.4" y2="377.9" stroke="#ffffff" stroke-width="1.3" opacity="0.85"/>
<line x1="101.1" y1="359.4" x2="107.5" y2="363.5" stroke="#8fb8df" stroke-width="1.3" opacity="0.85"/>
<line x1="194.5" y1="374.2" x2="200.2" y2="371.3" stroke="#ffffff" stroke-width="1.3" opacity="0.85"/>
<line x1="295.7" y1="370.7" x2="302.8" y2="368.6" stroke="#3f7cb8" stroke-width="1.3" opacity="0.85"/>
<line x1="212.9" y1="378.4" x2="215.8" y2="380.6" stroke="#ffffff" stroke-width="1.3" opacity="0.85"/>
<line x1="274.7" y1="374.2" x2="278.9" y2="374.7" stroke="#3f7cb8" stroke-width="1.3" opacity="0.85"/>
<line x1="129.7" y1="359.4" x2="137.0" y2="361.4" stroke="#8fb8df" stroke-width="1.3" opacity="0.85"/>
<line x1="77.2" y1="351.4" x2="82.1" y2="352.3" stroke="#ffffff" stroke-width="1.3" opacity="0.85"/>
<line x1="295.9" y1="363.9" x2="299.2" y2="364.7" stroke="#ffffff" stroke-width="1.3" opacity="0.85"/>
<line x1="250.0" y1="377.2" x2="255.0" y2="375.8" stroke="#ffffff" stroke-width="1.3" opacity="0.85"/>
<line x1="200.9" y1="359.6" x2="204.1" y2="361.1" stroke="#ffffff" stroke-width="1.3" opacity="0.85"/>
<line x1="178.8" y1="363.2" x2="182.6" y2="363.5" stroke="#4f8cc6" stroke-width="1.3" opacity="0.85"/>
<line x1="162.7" y1="371.5" x2="168.6" y2="369.8" stroke="#4f8cc6" stroke-width="1.3" opacity="0.85"/>
<line x1="342.9" y1="352.4" x2="350.3" y2="351.4" stroke="#3f7cb8" stroke-width="1.3" opacity="0.85"/>
<line x1="290.6" y1="359.5" x2="295.7" y2="355.7" stroke="#6fa2d4" stroke-width="1.3" opacity="0.85"/>
<line x1="172.9" y1="363.2" x2="176.2" y2="361.5" stroke="#ffffff" stroke-width="1.3" opacity="0.85"/>
<line x1="313.9" y1="365.0" x2="321.3" y2="363.9" stroke="#ffffff" stroke-width="1.3" opacity="0.85"/>
<line x1="152.8" y1="370.5" x2="159.7" y2="371.5" stroke="#6fa2d4" stroke-width="1.3" opacity="0.85"/>
<line x1="173.2" y1="357.1" x2="179.4" y2="353.2" stroke="#6fa2d4" stroke-width="1.3" opacity="0.85"/>
<line x1="191.2" y1="374.3" x2="195.4" y2="373.5" stroke="#4f8cc6" stroke-width="1.3" opacity="0.85"/>
<line x1="340.6" y1="362.6" x2="347.2" y2="364.2" stroke="#6fa2d4" stroke-width="1.3" opacity="0.85"/>
<line x1="324.9" y1="368.2" x2="330.1" y2="364.6" stroke="#3f7cb8" stroke-width="1.3" opacity="0.85"/>
<line x1="156.4" y1="359.8" x2="160.7" y2="358.6" stroke="#8fb8df" stroke-width="1.3" opacity="0.85"/>
<polygon points="61.0,332.1 64.0,332.8 67.0,333.4 70.0,334.0 73.0,334.6 76.0,335.2 79.0,335.8 82.0,336.4 85.0,337.0 88.0,337.6 91.0,338.2 94.0,338.7 97.0,339.3 100.0,339.9 103.0,340.5 106.0,341.0 109.0,341.6 112.0,342.1 115.0,342.7 118.0,343.2 121.0,343.7 124.0,344.3 127.0,344.8 130.0,345.3 133.0,345.8 136.0,346.2 139.0,346.7 142.0,347.2 145.0,347.6 148.0,348.1 151.0,348.5 154.0,348.9 157.0,349.3 160.0,349.7 163.0,350.1 166.0,350.5 169.0,350.9 172.0,351.2 175.0,351.5 178.0,351.8 181.0,352.2 184.0,352.4 187.0,352.7 190.0,353.0 193.0,353.2 196.0,353.4 199.0,353.7 202.0,353.9 205.0,354.0 208.0,354.2 211.0,354.3 214.0,354.5 217.0,354.6 220.0,354.7 223.0,354.8 226.0,354.8 229.0,354.9 232.0,354.9 235.0,354.9 238.0,354.9 241.0,354.9 244.0,354.9 247.0,354.8 250.0,354.8 253.0,354.7 256.0,354.6 259.0,354.4 262.0,354.3 265.0,354.1 268.0,353.9 271.0,353.7 274.0,353.5 277.0,353.3 280.0,353.0 283.0,352.8 286.0,352.5 289.0,352.2 292.0,351.8 295.0,351.5 298.0,351.1 301.0,350.7 304.0,350.3 307.0,349.9 310.0,349.4 313.0,348.9 316.0,348.4 319.0,347.9 322.0,347.4 325.0,346.8 328.0,346.3 331.0,345.7 334.0,345.1 337.0,344.4 340.0,343.8 343.0,343.1 346.0,342.4 347.0,342.1 347.0,348.2 346.0,348.6 343.0,349.8 340.0,348.6 337.0,350.9 334.0,350.3 331.0,351.7 328.0,351.4 325.0,352.6 322.0,354.0 319.0,353.2 316.0,353.4 313.0,355.0 310.0,355.3 307.0,355.5 304.0,355.7 301.0,356.7 298.0,355.7 295.0,356.4 292.0,357.9 289.0,357.8 286.0,358.6 283.0,358.0 280.0,359.4 277.0,357.9 274.0,358.3 271.0,360.2 268.0,359.0 265.0,359.2 262.0,359.1 259.0,358.9 256.0,359.8 253.0,359.6 250.0,359.4 247.0,361.3 244.0,359.8 241.0,359.6 238.0,361.5 235.0,361.5 232.0,360.1 229.0,359.9 226.0,359.2 223.0,359.8 220.0,359.4 217.0,360.7 214.0,359.2 211.0,360.8 208.0,359.8 205.0,358.7 202.0,359.0 199.0,359.9 196.0,359.8 193.0,358.9 190.0,357.7 187.0,357.7 184.0,358.4 181.0,358.2 178.0,358.5 175.0,356.8 172.0,357.2 169.0,357.1 166.0,356.4 163.0,356.8 160.0,355.1 157.0,355.0 154.0,354.0 151.0,354.7 148.0,353.1 145.0,353.5 142.0,353.3 139.0,352.0 136.0,350.7 133.0,351.5 130.0,351.0 127.0,349.4 124.0,350.7 121.0,350.3 118.0,347.8 115.0,347.7 112.0,346.5 109.0,347.6 106.0,347.0 103.0,346.8 100.0,345.9 97.0,344.6 94.0,344.3 91.0,344.0 88.0,343.7 85.0,341.2 82.0,342.8 79.0,340.7 76.0,340.4 73.0,340.8 70.0,339.6 67.0,338.6 64.0,337.6 61.0,337.5" fill="#5c9acb"/>
<polygon points="61.0,293.4 64.0,294.6 67.0,294.2 70.0,294.7 73.0,294.9 76.0,295.9 79.0,296.7 82.0,297.0 85.0,297.2 88.0,298.2 91.0,297.8 94.0,298.6 97.0,299.5 100.0,300.5 103.0,300.6 106.0,301.3 109.0,302.0 112.0,302.1 115.0,303.4 118.0,303.8 121.0,304.0 124.0,304.8 127.0,306.0 130.0,306.2 133.0,306.7 136.0,308.3 139.0,308.7 142.0,309.5 145.0,310.5 148.0,311.6 151.0,311.5 154.0,312.5 157.0,313.0 160.0,314.2 163.0,315.1 166.0,316.2 169.0,316.7 172.0,317.3 175.0,317.8 178.0,318.7 181.0,318.9 184.0,320.2 187.0,320.7 190.0,321.3 193.0,320.9 196.0,321.9 199.0,322.4 202.0,322.4 205.0,323.1 208.0,323.3 211.0,323.3 214.0,323.4 217.0,323.3 220.0,323.5 223.0,322.5 226.0,323.1 229.0,322.9 232.0,322.6 235.0,321.9 238.0,321.4 241.0,321.7 244.0,321.6 247.0,320.5 250.0,320.0 253.0,319.5 256.0,318.9 259.0,319.1 262.0,318.9 265.0,318.1 268.0,317.0 271.0,316.8 274.0,315.4 277.0,315.7 280.0,314.4 283.0,313.4 286.0,313.4 289.0,312.2 292.0,311.6 295.0,310.7 298.0,310.5 301.0,309.9 304.0,309.5 307.0,307.8 310.0,308.0 313.0,306.4 316.0,305.8 319.0,305.6 322.0,304.5 325.0,303.7 328.0,303.2 331.0,302.0 334.0,301.9 337.0,300.4 340.0,300.4 343.0,299.5 346.0,298.4 347.0,298.0 347.0,342.1 346.0,342.4 343.0,343.1 340.0,343.8 337.0,344.4 334.0,345.1 331.0,345.7 328.0,346.3 325.0,346.8 322.0,347.4 319.0,347.9 316.0,348.4 313.0,348.9 310.0,349.4 307.0,349.9 304.0,350.3 301.0,350.7 298.0,351.1 295.0,351.5 292.0,351.8 289.0,352.2 286.0,352.5 283.0,352.8 280.0,353.0 277.0,353.3 274.0,353.5 271.0,353.7 268.0,353.9 265.0,354.1 262.0,354.3 259.0,354.4 256.0,354.6 253.0,354.7 250.0,354.8 247.0,354.8 244.0,354.9 241.0,354.9 238.0,354.9 235.0,354.9 232.0,354.9 229.0,354.9 226.0,354.8 223.0,354.8 220.0,354.7 217.0,354.6 214.0,354.5 211.0,354.3 208.0,354.2 205.0,354.0 202.0,353.9 199.0,353.7 196.0,353.4 193.0,353.2 190.0,353.0 187.0,352.7 184.0,352.4 181.0,352.2 178.0,351.8 175.0,351.5 172.0,351.2 169.0,350.9 166.0,350.5 163.0,350.1 160.0,349.7 157.0,349.3 154.0,348.9 151.0,348.5 148.0,348.1 145.0,347.6 142.0,347.2 139.0,346.7 136.0,346.2 133.0,345.8 130.0,345.3 127.0,344.8 124.0,344.3 121.0,343.7 118.0,343.2 115.0,342.7 112.0,342.1 109.0,341.6 106.0,341.0 103.0,340.5 100.0,339.9 97.0,339.3 94.0,338.7 91.0,338.2 88.0,337.6 85.0,337.0 82.0,336.4 79.0,335.8 76.0,335.2 73.0,334.6 70.0,334.0 67.0,333.4 64.0,332.8 61.0,332.1" fill="#bcc0d8"/>
<polyline points="61.0,296.3 67.0,298.2 73.0,298.2 79.0,299.7 85.0,300.6 91.0,301.2 97.0,302.9 103.0,304.2 109.0,305.1 115.0,306.2 121.0,307.6 127.0,309.1 133.0,310.1 139.0,312.4 145.0,314.1 151.0,315.4 157.0,317.1 163.0,317.8 169.0,320.1 175.0,320.3 181.0,322.0 187.0,322.7 193.0,324.0 199.0,325.0 205.0,325.6 211.0,325.6 217.0,325.6 223.0,325.3 229.0,325.3 235.0,324.7 241.0,324.0 247.0,324.0 253.0,322.9 259.0,321.8 265.0,320.5 271.0,320.0 277.0,318.1 283.0,317.0 289.0,316.0 295.0,314.9 301.0,313.9 307.0,312.2 313.0,311.0 319.0,309.6 325.0,307.8 331.0,306.3 337.0,304.0 343.0,302.5 347.0,301.8" fill="none" stroke="#aa4a90" stroke-width="1.0" opacity="0.8"/>
<polyline points="61.0,301.0 67.0,303.0 73.0,303.8 79.0,304.7 85.0,305.3 91.0,306.4 97.0,307.2 103.0,308.9 109.0,310.5 115.0,310.9 121.0,311.9 127.0,313.3 133.0,315.0 139.0,317.1 145.0,318.4 151.0,319.4 157.0,320.4 163.0,321.8 169.0,323.2 175.0,325.2 181.0,326.0 187.0,327.7 193.0,328.4 199.0,329.0 205.0,329.1 211.0,329.9 217.0,329.2 223.0,329.1 229.0,329.4 235.0,329.0 241.0,328.1 247.0,327.5 253.0,326.5 259.0,326.7 265.0,325.5 271.0,324.8 277.0,323.7 283.0,321.9 289.0,321.1 295.0,319.4 301.0,318.7 307.0,317.4 313.0,315.2 319.0,313.7 325.0,312.5 331.0,311.4 337.0,309.7 343.0,307.7 347.0,307.2" fill="none" stroke="#aa4a90" stroke-width="1.0" opacity="0.8"/>
<polyline points="61.0,306.7 67.0,307.6 73.0,308.3 79.0,308.8 85.0,310.8 91.0,311.5 97.0,312.0 103.0,313.4 109.0,314.9 115.0,316.4 121.0,317.2 127.0,318.7 133.0,319.5 139.0,320.9 145.0,323.1 151.0,323.8 157.0,324.8 163.0,326.7 169.0,327.4 175.0,328.6 181.0,330.0 187.0,331.1 193.0,332.0 199.0,332.7 205.0,332.9 211.0,332.8 217.0,333.7 223.0,332.9 229.0,333.2 235.0,332.9 241.0,332.8 247.0,332.2 253.0,331.0 259.0,330.7 265.0,329.9 271.0,328.8 277.0,327.4 283.0,327.2 289.0,325.7 295.0,323.9 301.0,323.0 307.0,322.6 313.0,320.4 319.0,319.3 325.0,318.4 331.0,317.0 337.0,315.3 343.0,313.9 347.0,312.6" fill="none" stroke="#aa4a90" stroke-width="1.0" opacity="0.8"/>
<polyline points="61.0,310.4 67.0,311.6 73.0,313.7 79.0,314.5 85.0,314.7 91.0,315.8 97.0,317.1 103.0,319.0 109.0,319.3 115.0,321.0 121.0,322.6 127.0,323.4 133.0,325.1 139.0,325.6 145.0,326.7 151.0,327.8 157.0,330.0 163.0,330.4 169.0,332.6 175.0,333.3 181.0,333.7 187.0,335.3 193.0,335.3 199.0,336.4 205.0,336.3 211.0,337.5 217.0,337.8 223.0,337.8 229.0,336.6 235.0,337.4 241.0,336.7 247.0,336.5 253.0,335.6 259.0,335.1 265.0,334.3 271.0,333.7 277.0,331.9 283.0,330.9 289.0,330.5 295.0,329.1 301.0,328.1 307.0,326.5 313.0,326.2 319.0,324.0 325.0,323.7 331.0,322.3 337.0,320.4 343.0,318.5 347.0,317.9" fill="none" stroke="#aa4a90" stroke-width="1.0" opacity="0.8"/>
<polyline points="61.0,315.9 67.0,316.4 73.0,317.8 79.0,318.5 85.0,320.6 91.0,321.2 97.0,322.1 103.0,322.9 109.0,324.8 115.0,326.1 121.0,327.3 127.0,327.6 133.0,329.1 139.0,330.2 145.0,332.0 151.0,332.5 157.0,334.2 163.0,335.7 169.0,336.5 175.0,336.6 181.0,337.6 187.0,338.4 193.0,339.8 199.0,340.3 205.0,340.7 211.0,340.9 217.0,341.0 223.0,341.3 229.0,341.3 235.0,341.5 241.0,341.0 247.0,340.7 253.0,340.3 259.0,339.7 265.0,338.9 271.0,337.3 277.0,337.3 283.0,336.6 289.0,335.2 295.0,334.7 301.0,332.9 307.0,332.7 313.0,330.9 319.0,330.0 325.0,328.2 331.0,326.9 337.0,325.6 343.0,324.1 347.0,323.3" fill="none" stroke="#aa4a90" stroke-width="1.0" opacity="0.8"/>
<polyline points="61.0,319.9 67.0,321.5 73.0,323.2 79.0,324.0 85.0,325.4 91.0,326.3 97.0,327.5 103.0,328.9 109.0,329.7 115.0,330.3 121.0,331.4 127.0,332.7 133.0,333.4 139.0,334.8 145.0,336.7 151.0,337.9 157.0,338.2 163.0,339.8 169.0,340.7 175.0,341.8 181.0,342.5 187.0,342.9 193.0,343.0 199.0,344.4 205.0,344.2 211.0,344.9 217.0,344.8 223.0,345.1 229.0,345.6 235.0,344.6 241.0,344.8 247.0,344.6 253.0,344.1 259.0,344.1 265.0,342.9 271.0,342.9 277.0,341.9 283.0,341.5 289.0,339.6 295.0,338.9 301.0,338.0 307.0,337.7 313.0,335.5 319.0,334.7 325.0,334.0 331.0,333.1 337.0,330.7 343.0,329.6 347.0,328.7" fill="none" stroke="#aa4a90" stroke-width="1.0" opacity="0.8"/>
<polyline points="61.0,325.3 67.0,326.5 73.0,327.7 79.0,328.9 85.0,329.4 91.0,330.6 97.0,331.4 103.0,333.4 109.0,333.9 115.0,335.1 121.0,337.1 127.0,337.8 133.0,338.8 139.0,339.9 145.0,340.9 151.0,342.0 157.0,342.5 163.0,343.2 169.0,344.1 175.0,344.8 181.0,346.0 187.0,346.4 193.0,346.9 199.0,347.9 205.0,348.9 211.0,348.8 217.0,348.6 223.0,349.3 229.0,348.6 235.0,348.5 241.0,348.6 247.0,348.5 253.0,348.5 259.0,347.9 265.0,347.7 271.0,346.5 277.0,346.9 283.0,345.5 289.0,345.3 295.0,343.5 301.0,343.6 307.0,341.9 313.0,341.7 319.0,340.5 325.0,339.2 331.0,337.5 337.0,335.8 343.0,334.7 347.0,334.1" fill="none" stroke="#aa4a90" stroke-width="1.0" opacity="0.8"/>
<polyline points="61.0,330.3 67.0,330.6 73.0,332.4 79.0,333.5 85.0,334.8 91.0,335.4 97.0,336.5 103.0,337.5 109.0,339.7 115.0,340.1 121.0,341.5 127.0,342.5 133.0,343.1 139.0,343.9 145.0,344.8 151.0,346.7 157.0,346.7 163.0,348.5 169.0,348.6 175.0,349.7 181.0,349.7 187.0,351.1 193.0,351.0 199.0,351.6 205.0,352.2 211.0,352.0 217.0,352.4 223.0,353.2 229.0,352.7 235.0,352.8 241.0,353.2 247.0,352.4 253.0,352.2 259.0,351.9 265.0,351.8 271.0,351.3 277.0,351.1 283.0,350.4 289.0,350.2 295.0,348.5 301.0,348.4 307.0,347.7 313.0,346.1 319.0,344.8 325.0,344.2 331.0,342.6 337.0,341.7 343.0,340.7 347.0,339.5" fill="none" stroke="#aa4a90" stroke-width="1.0" opacity="0.8"/>
<polyline points="61.0,293.2 64.0,293.7 67.0,294.5 70.0,294.6 73.0,295.1 76.0,295.8 79.0,296.0 82.0,296.4 85.0,297.2 88.0,297.8 91.0,298.8 94.0,298.9 97.0,298.9 100.0,299.6 103.0,300.7 106.0,301.1 109.0,302.0 112.0,302.7 115.0,303.2 118.0,303.1 121.0,304.7 124.0,304.9 127.0,305.4 130.0,306.0 133.0,307.5 136.0,307.6 139.0,308.3 142.0,309.3 145.0,310.7 148.0,311.1 151.0,312.1 154.0,312.3 157.0,313.4 160.0,314.1 163.0,314.8 166.0,316.0 169.0,316.4 172.0,316.9 175.0,318.4 178.0,318.6 181.0,318.9 184.0,319.3 187.0,320.5 190.0,320.9 193.0,320.8 196.0,321.7 199.0,322.3 202.0,322.4 205.0,322.4 208.0,322.8 211.0,323.1 214.0,323.2 217.0,322.7 220.0,323.3 223.0,323.4 226.0,323.1 229.0,323.0 232.0,322.3 235.0,322.6 238.0,321.6 241.0,321.3 244.0,321.3 247.0,321.2 250.0,319.9 253.0,319.6 256.0,318.9 259.0,318.8 262.0,317.9 265.0,317.4 268.0,317.4 271.0,316.6 274.0,316.3 277.0,315.2 280.0,314.8 283.0,313.5 286.0,313.7 289.0,312.3 292.0,311.9 295.0,311.2 298.0,311.0 301.0,309.8 304.0,309.6 307.0,308.5 310.0,307.4 313.0,307.2 316.0,305.9 319.0,305.9 322.0,304.6 325.0,303.6 328.0,303.6 331.0,302.2 334.0,301.5 337.0,300.6 340.0,300.1 343.0,298.7 346.0,298.2 347.0,298.0" fill="none" stroke="#7d88b8" stroke-width="1.3"/>
</g>
<rect x="266.4" y="218.5" width="72.20000000000005" height="66.89999999999998" fill="#eeeef4" stroke="#333" stroke-width="1.3"/>
<path d="M304.00,223.80 C308.17,223.80 313.83,223.88 318.00,225.00 C322.17,226.12 326.13,227.83 329.00,230.50 C331.87,233.17 334.03,237.25 335.20,241.00 C336.37,244.75 336.37,248.92 336.00,253.00 C335.63,257.08 334.83,261.83 333.00,265.50 C331.17,269.17 328.50,272.55 325.00,275.00 C321.50,277.45 316.50,279.27 312.00,280.20 C307.50,281.13 302.50,281.22 298.00,280.60 C293.50,279.98 288.58,278.77 285.00,276.50 C281.42,274.23 278.40,270.92 276.50,267.00 C274.60,263.08 273.68,257.67 273.60,253.00 C273.52,248.33 274.27,242.92 276.00,239.00 C277.73,235.08 281.17,231.83 284.00,229.50 C286.83,227.17 289.67,225.95 293.00,225.00 C296.33,224.05 299.83,223.80 304.00,223.80 Z" fill="none" stroke="#8b98c9" stroke-width="3.6"/>
<text x="301.8" y="256.8" font-size="7.6" font-weight="bold" text-anchor="middle" fill="#111">1mm</text>
<line x1="285" y1="260.8" x2="318.3" y2="260.8" stroke="#111" stroke-width="1.6"/>
<line x1="171" y1="293.2" x2="236.5" y2="293.2" stroke="#111" stroke-width="1.6"/>
<text x="203.8" y="287.5" font-size="7.8" font-weight="bold" text-anchor="middle" fill="#111">200 µm</text>
<clipPath id="c3"><rect x="361" y="28" width="282" height="175.5"/></clipPath>
<clipPath id="t3"><polygon points="482,27 470,40 461,57 455,72 451,87 447,105 446,117 446,135 447.5,153 451,168 455,183 458,204 644,204 644,27"/></clipPath>
<rect x="361" y="28" width="282" height="175.5" fill="#eef0f5"/>
<g clip-path="url(#c3)">
<g clip-path="url(#t3)">
<rect x="440" y="27" width="205" height="178" fill="#72a3d5"/>
<ellipse cx="471.7" cy="172.9" rx="2.0" ry="3.0" fill="#6496cc" opacity="0.55"/>
<ellipse cx="545.1" cy="111.1" rx="4.7" ry="2.5" fill="#6496cc" opacity="0.55"/>
<ellipse cx="484.7" cy="49.1" rx="6.8" ry="1.9" fill="#82b0dc" opacity="0.55"/>
<ellipse cx="609.7" cy="51.7" rx="3.6" ry="3.4" fill="#82b0dc" opacity="0.55"/>
<ellipse cx="483.7" cy="57.3" rx="4.9" ry="2.6" fill="#8ab6e0" opacity="0.55"/>
<ellipse cx="486.8" cy="127.8" rx="3.1" ry="1.9" fill="#6496cc" opacity="0.55"/>
<ellipse cx="604.7" cy="152.6" rx="2.5" ry="2.6" fill="#5a8cc6" opacity="0.55"/>
<ellipse cx="604.6" cy="186.2" rx="2.4" ry="3.4" fill="#82b0dc" opacity="0.55"/>
<ellipse cx="588.6" cy="101.5" rx="4.6" ry="3.6" fill="#5a8cc6" opacity="0.55"/>
<ellipse cx="518.6" cy="115.4" rx="4.7" ry="3.2" fill="#6496cc" opacity="0.55"/>
<ellipse cx="593.3" cy="196.4" rx="3.0" ry="1.7" fill="#6496cc" opacity="0.55"/>
<ellipse cx="539.1" cy="59.8" rx="5.5" ry="2.1" fill="#82b0dc" opacity="0.55"/>
<ellipse cx="513.0" cy="195.4" rx="3.3" ry="3.6" fill="#5a8cc6" opacity="0.55"/>
<ellipse cx="548.0" cy="110.5" rx="5.4" ry="3.5" fill="#5a8cc6" opacity="0.55"/>
<ellipse cx="518.4" cy="87.5" rx="5.8" ry="3.9" fill="#82b0dc" opacity="0.55"/>
<ellipse cx="521.8" cy="84.7" rx="6.9" ry="3.9" fill="#5a8cc6" opacity="0.55"/>
<ellipse cx="603.1" cy="64.3" rx="4.0" ry="3.9" fill="#82b0dc" opacity="0.55"/>
<ellipse cx="506.2" cy="151.9" rx="3.9" ry="2.7" fill="#6496cc" opacity="0.55"/>
<ellipse cx="466.0" cy="66.9" rx="3.1" ry="2.2" fill="#5a8cc6" opacity="0.55"/>
<ellipse cx="529.1" cy="182.8" rx="5.1" ry="3.1" fill="#8ab6e0" opacity="0.55"/>
<ellipse cx="541.1" cy="192.9" rx="4.9" ry="2.4" fill="#8ab6e0" opacity="0.55"/>
<ellipse cx="496.9" cy="170.0" rx="5.5" ry="3.2" fill="#82b0dc" opacity="0.55"/>
<ellipse cx="510.0" cy="48.5" rx="5.1" ry="2.2" fill="#82b0dc" opacity="0.55"/>
<ellipse cx="549.7" cy="151.4" rx="6.8" ry="2.0" fill="#6496cc" opacity="0.55"/>
<ellipse cx="552.0" cy="56.6" rx="2.3" ry="2.6" fill="#5a8cc6" opacity="0.55"/>
<ellipse cx="477.7" cy="30.6" rx="4.7" ry="3.3" fill="#6496cc" opacity="0.55"/>
<ellipse cx="449.8" cy="167.7" rx="6.2" ry="1.7" fill="#82b0dc" opacity="0.55"/>
<ellipse cx="445.6" cy="68.2" rx="3.3" ry="3.3" fill="#82b0dc" opacity="0.55"/>
<ellipse cx="448.2" cy="48.0" rx="6.7" ry="3.9" fill="#82b0dc" opacity="0.55"/>
<ellipse cx="522.5" cy="40.8" rx="3.7" ry="2.2" fill="#8ab6e0" opacity="0.55"/>
<ellipse cx="589.3" cy="86.3" rx="6.6" ry="2.2" fill="#6496cc" opacity="0.55"/>
<ellipse cx="460.1" cy="137.2" rx="5.5" ry="2.2" fill="#6496cc" opacity="0.55"/>
<ellipse cx="501.4" cy="114.1" rx="2.9" ry="3.8" fill="#5a8cc6" opacity="0.55"/>
<ellipse cx="569.0" cy="174.8" rx="4.1" ry="2.2" fill="#5a8cc6" opacity="0.55"/>
<ellipse cx="482.9" cy="167.5" rx="6.0" ry="1.7" fill="#82b0dc" opacity="0.55"/>
<ellipse cx="476.6" cy="151.9" rx="6.0" ry="3.5" fill="#82b0dc" opacity="0.55"/>
<ellipse cx="547.7" cy="172.3" rx="4.4" ry="2.6" fill="#5a8cc6" opacity="0.55"/>
<ellipse cx="476.8" cy="129.9" rx="2.5" ry="3.1" fill="#82b0dc" opacity="0.55"/>
<ellipse cx="568.9" cy="115.7" rx="4.6" ry="2.3" fill="#5a8cc6" opacity="0.55"/>
<ellipse cx="450.1" cy="154.8" rx="3.1" ry="2.2" fill="#8ab6e0" opacity="0.55"/>
<ellipse cx="546.4" cy="185.8" rx="3.0" ry="2.3" fill="#6496cc" opacity="0.55"/>
<ellipse cx="466.7" cy="38.9" rx="4.3" ry="2.3" fill="#6496cc" opacity="0.55"/>
<ellipse cx="510.4" cy="119.5" rx="3.5" ry="3.4" fill="#6496cc" opacity="0.55"/>
<ellipse cx="459.7" cy="36.6" rx="4.6" ry="1.9" fill="#82b0dc" opacity="0.55"/>
<ellipse cx="521.2" cy="62.6" rx="2.6" ry="2.8" fill="#6496cc" opacity="0.55"/>
<ellipse cx="558.2" cy="111.4" rx="3.6" ry="1.7" fill="#5a8cc6" opacity="0.55"/>
<ellipse cx="547.9" cy="104.5" rx="2.3" ry="3.5" fill="#82b0dc" opacity="0.55"/>
<ellipse cx="519.2" cy="177.2" rx="6.7" ry="2.5" fill="#6496cc" opacity="0.55"/>
<ellipse cx="533.3" cy="164.5" rx="5.6" ry="2.3" fill="#5a8cc6" opacity="0.55"/>
<ellipse cx="462.3" cy="107.8" rx="5.2" ry="2.2" fill="#5a8cc6" opacity="0.55"/>
<ellipse cx="586.6" cy="193.1" rx="4.8" ry="1.7" fill="#5a8cc6" opacity="0.55"/>
<ellipse cx="494.5" cy="40.0" rx="5.8" ry="3.4" fill="#8ab6e0" opacity="0.55"/>
<ellipse cx="530.8" cy="53.3" rx="5.5" ry="3.3" fill="#5a8cc6" opacity="0.55"/>
<ellipse cx="450.3" cy="187.2" rx="5.4" ry="2.8" fill="#5a8cc6" opacity="0.55"/>
<ellipse cx="497.1" cy="171.2" rx="5.0" ry="2.5" fill="#82b0dc" opacity="0.55"/>
<ellipse cx="473.7" cy="161.9" rx="4.1" ry="2.3" fill="#5a8cc6" opacity="0.55"/>
<ellipse cx="592.0" cy="108.2" rx="4.8" ry="1.7" fill="#8ab6e0" opacity="0.55"/>
<ellipse cx="523.0" cy="195.4" rx="5.0" ry="2.2" fill="#8ab6e0" opacity="0.55"/>
<ellipse cx="509.9" cy="63.3" rx="5.9" ry="3.4" fill="#8ab6e0" opacity="0.55"/>
<ellipse cx="462.7" cy="170.3" rx="3.7" ry="2.1" fill="#6496cc" opacity="0.55"/>
<ellipse cx="529.6" cy="170.5" rx="5.5" ry="3.9" fill="#6496cc" opacity="0.55"/>
<ellipse cx="496.7" cy="155.6" rx="6.2" ry="3.2" fill="#8ab6e0" opacity="0.55"/>
<ellipse cx="454.3" cy="28.0" rx="3.2" ry="2.4" fill="#6496cc" opacity="0.55"/>
<ellipse cx="545.1" cy="185.4" rx="6.8" ry="2.3" fill="#6496cc" opacity="0.55"/>
<ellipse cx="580.1" cy="74.5" rx="3.8" ry="2.4" fill="#6496cc" opacity="0.55"/>
<ellipse cx="510.1" cy="77.7" rx="6.7" ry="1.5" fill="#8ab6e0" opacity="0.55"/>
<ellipse cx="569.8" cy="162.7" rx="4.8" ry="3.8" fill="#5a8cc6" opacity="0.55"/>
<ellipse cx="608.5" cy="155.4" rx="5.8" ry="3.5" fill="#6496cc" opacity="0.55"/>
<ellipse cx="528.3" cy="85.0" rx="4.2" ry="2.3" fill="#82b0dc" opacity="0.55"/>
<ellipse cx="534.0" cy="86.9" rx="6.1" ry="2.4" fill="#82b0dc" opacity="0.55"/>
<ellipse cx="584.9" cy="181.8" rx="2.7" ry="3.8" fill="#5a8cc6" opacity="0.55"/>
<ellipse cx="575.9" cy="175.5" rx="6.9" ry="3.9" fill="#8ab6e0" opacity="0.55"/>
<ellipse cx="574.2" cy="164.9" rx="6.3" ry="2.0" fill="#6496cc" opacity="0.55"/>
<ellipse cx="504.5" cy="39.2" rx="2.6" ry="3.7" fill="#5a8cc6" opacity="0.55"/>
<ellipse cx="482.5" cy="40.4" rx="2.3" ry="3.4" fill="#82b0dc" opacity="0.55"/>
<ellipse cx="586.9" cy="140.0" rx="3.6" ry="2.7" fill="#8ab6e0" opacity="0.55"/>
<ellipse cx="496.1" cy="138.7" rx="6.5" ry="2.7" fill="#6496cc" opacity="0.55"/>
<ellipse cx="566.1" cy="82.5" rx="6.4" ry="2.9" fill="#5a8cc6" opacity="0.55"/>
<ellipse cx="544.0" cy="202.6" rx="6.5" ry="1.7" fill="#8ab6e0" opacity="0.55"/>
<ellipse cx="513.7" cy="182.1" rx="5.3" ry="2.0" fill="#6496cc" opacity="0.55"/>
<ellipse cx="534.6" cy="190.3" rx="5.3" ry="3.7" fill="#5a8cc6" opacity="0.55"/>
<ellipse cx="521.2" cy="127.6" rx="2.1" ry="1.8" fill="#5a8cc6" opacity="0.55"/>
<ellipse cx="475.3" cy="78.9" rx="4.6" ry="3.4" fill="#5a8cc6" opacity="0.55"/>
<ellipse cx="481.7" cy="158.3" rx="6.0" ry="2.0" fill="#8ab6e0" opacity="0.55"/>
<ellipse cx="471.0" cy="139.5" rx="2.4" ry="2.5" fill="#6496cc" opacity="0.55"/>
<ellipse cx="494.8" cy="85.6" rx="5.7" ry="2.0" fill="#5a8cc6" opacity="0.55"/>
<ellipse cx="555.3" cy="53.1" rx="6.8" ry="4.0" fill="#82b0dc" opacity="0.55"/>
<ellipse cx="475.3" cy="187.3" rx="4.8" ry="3.4" fill="#6496cc" opacity="0.55"/>
<ellipse cx="453.8" cy="37.7" rx="4.5" ry="3.8" fill="#82b0dc" opacity="0.55"/>
<ellipse cx="529.3" cy="191.2" rx="4.8" ry="1.9" fill="#8ab6e0" opacity="0.55"/>
<ellipse cx="577.6" cy="102.2" rx="5.0" ry="2.1" fill="#6496cc" opacity="0.55"/>
<ellipse cx="483.6" cy="65.9" rx="5.1" ry="1.6" fill="#5a8cc6" opacity="0.55"/>
<ellipse cx="577.4" cy="186.1" rx="2.8" ry="3.5" fill="#6496cc" opacity="0.55"/>
<ellipse cx="483.3" cy="171.8" rx="3.2" ry="1.9" fill="#82b0dc" opacity="0.55"/>
<ellipse cx="606.0" cy="154.3" rx="2.5" ry="2.7" fill="#82b0dc" opacity="0.55"/>
<ellipse cx="490.0" cy="174.7" rx="6.6" ry="1.6" fill="#5a8cc6" opacity="0.55"/>
<ellipse cx="518.0" cy="43.1" rx="2.3" ry="3.5" fill="#8ab6e0" opacity="0.55"/>
<ellipse cx="468.4" cy="108.5" rx="5.2" ry="4.0" fill="#6496cc" opacity="0.55"/>
<ellipse cx="512.4" cy="154.3" rx="7.0" ry="2.1" fill="#8ab6e0" opacity="0.55"/>
<ellipse cx="503.8" cy="104.3" rx="3.6" ry="3.1" fill="#8ab6e0" opacity="0.55"/>
<ellipse cx="459.0" cy="61.8" rx="3.6" ry="2.8" fill="#82b0dc" opacity="0.55"/>
<ellipse cx="513.9" cy="175.0" rx="5.8" ry="3.0" fill="#8ab6e0" opacity="0.55"/>
<ellipse cx="600.9" cy="110.5" rx="3.0" ry="3.0" fill="#82b0dc" opacity="0.55"/>
<ellipse cx="527.5" cy="68.8" rx="3.8" ry="2.5" fill="#5a8cc6" opacity="0.55"/>
<ellipse cx="511.6" cy="90.0" rx="4.1" ry="2.4" fill="#8ab6e0" opacity="0.55"/>
<ellipse cx="551.5" cy="109.4" rx="6.2" ry="2.9" fill="#5a8cc6" opacity="0.55"/>
<ellipse cx="585.2" cy="155.5" rx="3.8" ry="3.1" fill="#8ab6e0" opacity="0.55"/>
<ellipse cx="602.1" cy="136.5" rx="2.8" ry="3.1" fill="#5a8cc6" opacity="0.55"/>
<ellipse cx="601.6" cy="53.4" rx="3.8" ry="3.6" fill="#6496cc" opacity="0.55"/>
<ellipse cx="542.4" cy="146.5" rx="3.7" ry="3.9" fill="#8ab6e0" opacity="0.55"/>
<ellipse cx="552.4" cy="78.0" rx="2.7" ry="3.8" fill="#5a8cc6" opacity="0.55"/>
<ellipse cx="546.7" cy="169.1" rx="4.2" ry="2.2" fill="#5a8cc6" opacity="0.55"/>
<ellipse cx="502.7" cy="121.1" rx="6.6" ry="3.1" fill="#8ab6e0" opacity="0.55"/>
<ellipse cx="464.2" cy="72.5" rx="5.0" ry="2.9" fill="#6496cc" opacity="0.55"/>
<ellipse cx="447.8" cy="168.0" rx="2.3" ry="3.5" fill="#5a8cc6" opacity="0.55"/>
<ellipse cx="490.5" cy="86.2" rx="6.1" ry="1.9" fill="#8ab6e0" opacity="0.55"/>
<ellipse cx="448.6" cy="61.8" rx="2.3" ry="3.5" fill="#82b0dc" opacity="0.55"/>
<ellipse cx="496.3" cy="66.4" rx="4.2" ry="1.8" fill="#5a8cc6" opacity="0.55"/>
<ellipse cx="601.2" cy="124.4" rx="6.6" ry="1.7" fill="#82b0dc" opacity="0.55"/>
<ellipse cx="516.6" cy="61.8" rx="5.7" ry="3.6" fill="#8ab6e0" opacity="0.55"/>
<line x1="516.4" y1="138.2" x2="518.9" y2="135.6" stroke="#f2f6fb" stroke-width="1.3" opacity="0.8"/>
<line x1="468.5" y1="80.8" x2="463.5" y2="78.1" stroke="#f2f6fb" stroke-width="1.3" opacity="0.8"/>
<line x1="454.3" y1="85.4" x2="456.7" y2="82.7" stroke="#f2f6fb" stroke-width="1.3" opacity="0.8"/>
<line x1="523.1" y1="46.7" x2="519.4" y2="45.6" stroke="#f2f6fb" stroke-width="1.3" opacity="0.8"/>
<line x1="600.5" y1="62.7" x2="595.9" y2="65.5" stroke="#f2f6fb" stroke-width="1.3" opacity="0.8"/>
<line x1="500.7" y1="99.6" x2="500.1" y2="99.4" stroke="#f2f6fb" stroke-width="1.3" opacity="0.8"/>
<line x1="452.0" y1="145.8" x2="456.8" y2="143.2" stroke="#f2f6fb" stroke-width="1.3" opacity="0.8"/>
<line x1="592.6" y1="166.9" x2="594.1" y2="168.1" stroke="#f2f6fb" stroke-width="1.3" opacity="0.8"/>
<line x1="520.2" y1="136.9" x2="525.0" y2="139.2" stroke="#f2f6fb" stroke-width="1.3" opacity="0.8"/>
<line x1="536.7" y1="182.8" x2="530.8" y2="182.3" stroke="#f2f6fb" stroke-width="1.3" opacity="0.8"/>
<line x1="451.7" y1="138.8" x2="453.7" y2="138.9" stroke="#f2f6fb" stroke-width="1.3" opacity="0.8"/>
<line x1="471.9" y1="36.4" x2="475.3" y2="36.6" stroke="#f2f6fb" stroke-width="1.3" opacity="0.8"/>
<line x1="528.5" y1="148.5" x2="524.4" y2="149.6" stroke="#f2f6fb" stroke-width="1.3" opacity="0.8"/>
<line x1="529.1" y1="189.5" x2="531.5" y2="193.0" stroke="#f2f6fb" stroke-width="1.3" opacity="0.8"/>
<line x1="584.8" y1="91.3" x2="587.3" y2="88.9" stroke="#f2f6fb" stroke-width="1.3" opacity="0.8"/>
<line x1="509.6" y1="144.0" x2="507.6" y2="143.8" stroke="#f2f6fb" stroke-width="1.3" opacity="0.8"/>
<line x1="542.0" y1="199.4" x2="537.9" y2="202.5" stroke="#f2f6fb" stroke-width="1.3" opacity="0.8"/>
<line x1="478.9" y1="201.9" x2="475.5" y2="203.2" stroke="#f2f6fb" stroke-width="1.3" opacity="0.8"/>
<line x1="547.6" y1="28.7" x2="548.5" y2="27.4" stroke="#f2f6fb" stroke-width="1.3" opacity="0.8"/>
<line x1="552.1" y1="126.0" x2="555.7" y2="124.7" stroke="#f2f6fb" stroke-width="1.3" opacity="0.8"/>
<line x1="540.9" y1="123.6" x2="546.3" y2="126.4" stroke="#f2f6fb" stroke-width="1.3" opacity="0.8"/>
<line x1="608.2" y1="114.1" x2="612.1" y2="110.5" stroke="#f2f6fb" stroke-width="1.3" opacity="0.8"/>
<line x1="517.4" y1="42.5" x2="516.3" y2="40.8" stroke="#f2f6fb" stroke-width="1.3" opacity="0.8"/>
<line x1="530.2" y1="151.4" x2="524.3" y2="152.1" stroke="#f2f6fb" stroke-width="1.3" opacity="0.8"/>
<line x1="469.6" y1="93.9" x2="474.2" y2="94.7" stroke="#f2f6fb" stroke-width="1.3" opacity="0.8"/>
<line x1="518.5" y1="182.5" x2="522.2" y2="179.1" stroke="#f2f6fb" stroke-width="1.3" opacity="0.8"/>
<line x1="520.7" y1="92.5" x2="515.2" y2="95.1" stroke="#f2f6fb" stroke-width="1.3" opacity="0.8"/>
<line x1="496.5" y1="39.4" x2="493.6" y2="41.6" stroke="#f2f6fb" stroke-width="1.3" opacity="0.8"/>
<line x1="481.3" y1="116.9" x2="481.3" y2="117.1" stroke="#f2f6fb" stroke-width="1.3" opacity="0.8"/>
<line x1="572.6" y1="149.2" x2="574.3" y2="147.4" stroke="#f2f6fb" stroke-width="1.3" opacity="0.8"/>
<line x1="552.2" y1="83.6" x2="554.4" y2="85.2" stroke="#f2f6fb" stroke-width="1.3" opacity="0.8"/>
<line x1="603.2" y1="36.1" x2="607.3" y2="38.6" stroke="#f2f6fb" stroke-width="1.3" opacity="0.8"/>
<line x1="495.8" y1="133.3" x2="500.2" y2="135.2" stroke="#f2f6fb" stroke-width="1.3" opacity="0.8"/>
<line x1="599.9" y1="89.5" x2="604.1" y2="92.4" stroke="#f2f6fb" stroke-width="1.3" opacity="0.8"/>
<line x1="490.1" y1="116.6" x2="489.4" y2="112.8" stroke="#f2f6fb" stroke-width="1.3" opacity="0.8"/>
<line x1="461.2" y1="166.4" x2="465.9" y2="164.2" stroke="#f2f6fb" stroke-width="1.3" opacity="0.8"/>
<line x1="545.3" y1="181.3" x2="540.3" y2="179.6" stroke="#f2f6fb" stroke-width="1.3" opacity="0.8"/>
<line x1="584.1" y1="134.5" x2="589.5" y2="135.7" stroke="#f2f6fb" stroke-width="1.3" opacity="0.8"/>
<line x1="570.8" y1="140.9" x2="574.8" y2="139.0" stroke="#f2f6fb" stroke-width="1.3" opacity="0.8"/>
<line x1="474.6" y1="186.6" x2="471.3" y2="189.5" stroke="#f2f6fb" stroke-width="1.3" opacity="0.8"/>
<rect x="440" y="27" width="205" height="178" filter="url(#tex)" opacity="0.35"/>
<path d="M483.2,73.4 Q486.6,71.4 486.1,71.0" stroke="#ffffff" stroke-width="1.2" fill="none" stroke-linecap="round" opacity="0.61"/>
<path d="M587.9,105.6 Q592.2,104.1 594.0,101.1" stroke="#9cc2e8" stroke-width="1.0" fill="none" stroke-linecap="round" opacity="0.66"/>
<path d="M525.8,120.8 Q527.8,118.2 529.6,118.7" stroke="#e8f0fa" stroke-width="1.0" fill="none" stroke-linecap="round" opacity="0.47"/>
<path d="M468.8,110.3 Q470.4,110.5 473.1,110.3" stroke="#9cc2e8" stroke-width="0.9" fill="none" stroke-linecap="round" opacity="0.54"/>
<path d="M461.8,94.4 Q465.0,91.3 468.2,89.9" stroke="#e8f0fa" stroke-width="1.0" fill="none" stroke-linecap="round" opacity="0.62"/>
<path d="M498.1,33.0 Q498.8,32.7 501.3,31.4" stroke="#9cc2e8" stroke-width="1.4" fill="none" stroke-linecap="round" opacity="0.78"/>
<path d="M561.5,112.1 Q564.8,114.0 564.5,114.7" stroke="#ffffff" stroke-width="1.0" fill="none" stroke-linecap="round" opacity="0.64"/>
<path d="M495.8,197.6 Q497.7,194.1 503.1,194.5" stroke="#9cc2e8" stroke-width="0.7" fill="none" stroke-linecap="round" opacity="0.61"/>
<path d="M556.0,159.8 Q556.8,157.5 559.2,158.4" stroke="#ffffff" stroke-width="1.3" fill="none" stroke-linecap="round" opacity="0.69"/>
<path d="M446.3,36.6 Q449.4,36.4 454.1,35.7" stroke="#ffffff" stroke-width="1.1" fill="none" stroke-linecap="round" opacity="0.54"/>
<path d="M563.9,121.2 Q568.4,121.4 569.0,118.4" stroke="#ffffff" stroke-width="0.7" fill="none" stroke-linecap="round" opacity="0.77"/>
<path d="M490.4,182.1 Q494.6,181.8 495.0,182.2" stroke="#9cc2e8" stroke-width="0.6" fill="none" stroke-linecap="round" opacity="0.64"/>
<path d="M561.8,102.3 Q565.1,103.9 568.3,106.0" stroke="#9cc2e8" stroke-width="0.6" fill="none" stroke-linecap="round" opacity="0.41"/>
<path d="M455.0,102.8 Q457.0,102.4 460.0,103.1" stroke="#ffffff" stroke-width="1.0" fill="none" stroke-linecap="round" opacity="0.76"/>
<path d="M488.3,52.8 Q490.3,53.0 491.5,50.8" stroke="#ffffff" stroke-width="0.9" fill="none" stroke-linecap="round" opacity="0.63"/>
<path d="M461.9,114.9 Q466.2,113.6 468.7,114.5" stroke="#ffffff" stroke-width="0.8" fill="none" stroke-linecap="round" opacity="0.70"/>
<path d="M486.2,172.2 Q487.7,171.0 489.3,170.8" stroke="#e8f0fa" stroke-width="1.1" fill="none" stroke-linecap="round" opacity="0.42"/>
<path d="M607.9,201.7 Q609.9,197.2 613.9,196.5" stroke="#ffffff" stroke-width="0.8" fill="none" stroke-linecap="round" opacity="0.50"/>
<path d="M574.5,160.0 Q577.1,157.9 577.8,159.2" stroke="#e8f0fa" stroke-width="0.8" fill="none" stroke-linecap="round" opacity="0.46"/>
<path d="M496.7,84.8 Q499.0,85.4 501.9,88.7" stroke="#ffffff" stroke-width="1.1" fill="none" stroke-linecap="round" opacity="0.80"/>
<path d="M568.0,157.9 Q570.2,157.7 574.1,161.3" stroke="#ffffff" stroke-width="0.7" fill="none" stroke-linecap="round" opacity="0.70"/>
<path d="M565.0,117.4 Q567.5,116.4 570.5,114.1" stroke="#ffffff" stroke-width="0.8" fill="none" stroke-linecap="round" opacity="0.59"/>
<path d="M562.5,143.8 Q564.6,141.5 566.5,140.8" stroke="#e8f0fa" stroke-width="0.9" fill="none" stroke-linecap="round" opacity="0.51"/>
<path d="M557.3,67.0 Q560.2,65.1 563.7,65.9" stroke="#ffffff" stroke-width="0.7" fill="none" stroke-linecap="round" opacity="0.48"/>
<path d="M489.7,138.0 Q491.8,135.8 496.0,136.8" stroke="#e8f0fa" stroke-width="1.2" fill="none" stroke-linecap="round" opacity="0.58"/>
<path d="M456.5,131.1 Q456.3,131.9 459.5,133.3" stroke="#9cc2e8" stroke-width="1.3" fill="none" stroke-linecap="round" opacity="0.68"/>
<path d="M542.0,198.9 Q545.6,195.1 546.9,194.5" stroke="#e8f0fa" stroke-width="0.8" fill="none" stroke-linecap="round" opacity="0.49"/>
<path d="M603.4,74.9 Q606.2,74.5 609.6,71.3" stroke="#ffffff" stroke-width="1.6" fill="none" stroke-linecap="round" opacity="0.58"/>
<path d="M446.6,44.0 Q450.6,43.9 453.4,46.6" stroke="#e8f0fa" stroke-width="1.3" fill="none" stroke-linecap="round" opacity="0.45"/>
<path d="M509.2,145.5 Q509.7,145.9 511.4,143.2" stroke="#9cc2e8" stroke-width="0.9" fill="none" stroke-linecap="round" opacity="0.76"/>
<path d="M576.5,179.4 Q580.9,181.7 584.3,180.5" stroke="#9cc2e8" stroke-width="1.1" fill="none" stroke-linecap="round" opacity="0.52"/>
<path d="M479.9,155.3 Q482.1,155.9 483.8,152.6" stroke="#9cc2e8" stroke-width="0.9" fill="none" stroke-linecap="round" opacity="0.60"/>
<path d="M529.6,101.3 Q531.7,100.9 533.4,102.3" stroke="#9cc2e8" stroke-width="1.3" fill="none" stroke-linecap="round" opacity="0.71"/>
<path d="M531.9,71.6 Q533.5,72.5 536.2,75.1" stroke="#e8f0fa" stroke-width="1.4" fill="none" stroke-linecap="round" opacity="0.41"/>
<path d="M488.6,84.1 Q493.3,85.9 495.0,86.0" stroke="#e8f0fa" stroke-width="1.0" fill="none" stroke-linecap="round" opacity="0.70"/>
<path d="M567.7,64.3 Q571.5,63.6 574.0,61.4" stroke="#9cc2e8" stroke-width="1.0" fill="none" stroke-linecap="round" opacity="0.41"/>
<path d="M537.0,87.8 Q540.0,89.0 542.2,87.1" stroke="#e8f0fa" stroke-width="1.4" fill="none" stroke-linecap="round" opacity="0.49"/>
<path d="M501.9,47.0 Q504.9,48.0 507.9,50.0" stroke="#e8f0fa" stroke-width="1.5" fill="none" stroke-linecap="round" opacity="0.42"/>
<path d="M467.8,87.3 Q470.8,85.4 475.5,86.3" stroke="#ffffff" stroke-width="1.6" fill="none" stroke-linecap="round" opacity="0.47"/>
<path d="M472.2,77.2 Q474.4,80.8 477.9,81.7" stroke="#ffffff" stroke-width="1.0" fill="none" stroke-linecap="round" opacity="0.48"/>
<path d="M574.3,93.6 Q577.1,91.0 580.4,89.3" stroke="#9cc2e8" stroke-width="1.6" fill="none" stroke-linecap="round" opacity="0.79"/>
<path d="M511.1,60.5 Q512.5,61.3 517.1,63.4" stroke="#ffffff" stroke-width="1.3" fill="none" stroke-linecap="round" opacity="0.65"/>
<path d="M477.3,31.6 Q479.4,31.2 483.1,33.2" stroke="#ffffff" stroke-width="0.8" fill="none" stroke-linecap="round" opacity="0.63"/>
<path d="M541.4,84.4 Q543.7,83.2 544.8,81.2" stroke="#9cc2e8" stroke-width="1.1" fill="none" stroke-linecap="round" opacity="0.49"/>
<path d="M519.1,201.8 Q519.2,202.1 521.5,203.7" stroke="#e8f0fa" stroke-width="0.8" fill="none" stroke-linecap="round" opacity="0.74"/>
<path d="M486.4,130.8 Q489.2,131.7 489.6,130.1" stroke="#e8f0fa" stroke-width="1.1" fill="none" stroke-linecap="round" opacity="0.69"/>
<path d="M523.7,30.4 Q526.6,29.8 528.8,31.8" stroke="#9cc2e8" stroke-width="1.4" fill="none" stroke-linecap="round" opacity="0.62"/>
<path d="M510.3,167.9 Q513.0,166.4 513.7,165.4" stroke="#ffffff" stroke-width="0.9" fill="none" stroke-linecap="round" opacity="0.75"/>
<path d="M561.1,39.8 Q560.6,40.6 564.2,42.2" stroke="#e8f0fa" stroke-width="0.9" fill="none" stroke-linecap="round" opacity="0.68"/>
<path d="M531.7,199.8 Q534.0,197.9 536.5,197.0" stroke="#9cc2e8" stroke-width="0.8" fill="none" stroke-linecap="round" opacity="0.75"/>
<path d="M505.4,86.7 Q507.4,85.6 511.1,87.8" stroke="#9cc2e8" stroke-width="1.0" fill="none" stroke-linecap="round" opacity="0.45"/>
<path d="M555.0,121.1 Q558.6,119.8 559.4,119.8" stroke="#e8f0fa" stroke-width="0.6" fill="none" stroke-linecap="round" opacity="0.76"/>
<path d="M482.9,28.6 Q484.4,29.5 485.7,31.5" stroke="#e8f0fa" stroke-width="0.8" fill="none" stroke-linecap="round" opacity="0.72"/>
<path d="M521.9,173.6 Q523.3,171.8 528.4,172.3" stroke="#e8f0fa" stroke-width="1.3" fill="none" stroke-linecap="round" opacity="0.67"/>
<path d="M528.5,110.7 Q530.8,110.5 531.9,108.9" stroke="#e8f0fa" stroke-width="1.4" fill="none" stroke-linecap="round" opacity="0.60"/>
<path d="M562.6,162.8 Q565.3,163.9 569.7,164.7" stroke="#9cc2e8" stroke-width="1.1" fill="none" stroke-linecap="round" opacity="0.65"/>
<path d="M468.4,82.0 Q471.6,83.9 473.9,83.6" stroke="#9cc2e8" stroke-width="1.4" fill="none" stroke-linecap="round" opacity="0.67"/>
<path d="M569.3,84.0 Q572.3,82.1 575.3,79.9" stroke="#ffffff" stroke-width="1.4" fill="none" stroke-linecap="round" opacity="0.66"/>
<path d="M463.7,135.1 Q468.4,133.4 469.3,129.9" stroke="#e8f0fa" stroke-width="1.4" fill="none" stroke-linecap="round" opacity="0.43"/>
<path d="M596.3,194.2 Q597.5,190.4 600.8,190.0" stroke="#9cc2e8" stroke-width="1.1" fill="none" stroke-linecap="round" opacity="0.50"/>
<path d="M476.3,83.0 Q477.8,83.1 482.2,84.2" stroke="#ffffff" stroke-width="0.6" fill="none" stroke-linecap="round" opacity="0.69"/>
<path d="M454.4,150.7 Q457.5,149.7 458.7,151.9" stroke="#ffffff" stroke-width="1.6" fill="none" stroke-linecap="round" opacity="0.58"/>
<path d="M578.1,77.2 Q581.8,78.3 583.6,81.6" stroke="#ffffff" stroke-width="1.5" fill="none" stroke-linecap="round" opacity="0.66"/>
<path d="M526.3,133.1 Q528.5,134.0 530.4,135.9" stroke="#e8f0fa" stroke-width="1.4" fill="none" stroke-linecap="round" opacity="0.78"/>
<path d="M482.6,75.4 Q483.2,76.4 486.7,79.1" stroke="#ffffff" stroke-width="0.8" fill="none" stroke-linecap="round" opacity="0.49"/>
<path d="M604.4,92.4 Q605.2,93.5 609.9,92.5" stroke="#9cc2e8" stroke-width="1.4" fill="none" stroke-linecap="round" opacity="0.68"/>
<path d="M512.6,56.0 Q518.1,54.6 520.2,55.9" stroke="#ffffff" stroke-width="1.0" fill="none" stroke-linecap="round" opacity="0.47"/>
<path d="M607.1,64.7 Q608.5,67.0 611.8,68.8" stroke="#ffffff" stroke-width="0.9" fill="none" stroke-linecap="round" opacity="0.54"/>
<path d="M466.1,77.3 Q468.9,79.1 473.2,78.4" stroke="#e8f0fa" stroke-width="0.9" fill="none" stroke-linecap="round" opacity="0.73"/>
<path d="M537.7,133.3 Q540.5,132.8 541.2,134.0" stroke="#ffffff" stroke-width="1.4" fill="none" stroke-linecap="round" opacity="0.67"/>
<path d="M581.3,104.4 Q583.8,103.9 588.8,106.5" stroke="#e8f0fa" stroke-width="0.8" fill="none" stroke-linecap="round" opacity="0.76"/>
<path d="M498.7,140.8 Q499.3,141.4 503.1,140.3" stroke="#ffffff" stroke-width="0.8" fill="none" stroke-linecap="round" opacity="0.63"/>
<path d="M478.1,141.0 Q481.7,142.5 481.6,140.9" stroke="#e8f0fa" stroke-width="0.6" fill="none" stroke-linecap="round" opacity="0.71"/>
<path d="M540.6,122.1 Q542.9,121.5 546.8,119.1" stroke="#ffffff" stroke-width="1.5" fill="none" stroke-linecap="round" opacity="0.47"/>
<path d="M503.6,46.3 Q505.7,47.3 510.5,50.0" stroke="#e8f0fa" stroke-width="1.2" fill="none" stroke-linecap="round" opacity="0.69"/>
<path d="M462.8,174.8 Q463.1,174.1 465.5,176.6" stroke="#e8f0fa" stroke-width="1.4" fill="none" stroke-linecap="round" opacity="0.51"/>
<path d="M476.3,28.0 Q476.9,30.8 479.5,30.6" stroke="#e8f0fa" stroke-width="0.7" fill="none" stroke-linecap="round" opacity="0.49"/>
<path d="M447.4,85.6 Q451.1,85.7 452.6,81.8" stroke="#ffffff" stroke-width="1.0" fill="none" stroke-linecap="round" opacity="0.53"/>
<path d="M510.4,142.0 Q512.2,142.6 514.6,142.2" stroke="#9cc2e8" stroke-width="1.3" fill="none" stroke-linecap="round" opacity="0.67"/>
<path d="M543.1,120.9 Q546.4,123.4 547.1,122.7" stroke="#e8f0fa" stroke-width="0.8" fill="none" stroke-linecap="round" opacity="0.42"/>
<path d="M481.8,194.7 Q485.0,195.6 488.2,199.5" stroke="#9cc2e8" stroke-width="1.0" fill="none" stroke-linecap="round" opacity="0.75"/>
<path d="M608.4,30.3 Q612.8,30.8 614.4,31.6" stroke="#ffffff" stroke-width="1.5" fill="none" stroke-linecap="round" opacity="0.57"/>
<path d="M551.5,191.4 Q551.6,189.2 555.7,188.7" stroke="#e8f0fa" stroke-width="1.0" fill="none" stroke-linecap="round" opacity="0.53"/>
<path d="M545.1,86.9 Q546.9,86.3 550.4,83.4" stroke="#e8f0fa" stroke-width="1.4" fill="none" stroke-linecap="round" opacity="0.68"/>
<path d="M473.0,44.0 Q476.0,46.1 480.7,45.8" stroke="#e8f0fa" stroke-width="1.3" fill="none" stroke-linecap="round" opacity="0.65"/>
<path d="M551.7,157.5 Q553.0,158.5 554.6,159.6" stroke="#e8f0fa" stroke-width="1.0" fill="none" stroke-linecap="round" opacity="0.57"/>
<path d="M483.9,197.5 Q488.2,196.2 489.8,195.8" stroke="#9cc2e8" stroke-width="0.9" fill="none" stroke-linecap="round" opacity="0.44"/>
<path d="M453.0,106.6 Q454.4,108.8 456.3,108.8" stroke="#e8f0fa" stroke-width="1.0" fill="none" stroke-linecap="round" opacity="0.64"/>
<path d="M474.4,54.0 Q476.3,50.8 481.2,51.5" stroke="#ffffff" stroke-width="0.6" fill="none" stroke-linecap="round" opacity="0.58"/>
<path d="M598.0,81.0 Q599.5,83.1 604.5,81.9" stroke="#ffffff" stroke-width="1.0" fill="none" stroke-linecap="round" opacity="0.60"/>
<path d="M581.8,169.9 Q583.5,167.2 588.6,168.3" stroke="#9cc2e8" stroke-width="0.8" fill="none" stroke-linecap="round" opacity="0.43"/>
<path d="M461.0,62.0 Q464.2,61.8 464.7,62.1" stroke="#e8f0fa" stroke-width="1.2" fill="none" stroke-linecap="round" opacity="0.53"/>
<path d="M606.1,126.6 Q608.8,127.8 610.2,130.5" stroke="#ffffff" stroke-width="1.5" fill="none" stroke-linecap="round" opacity="0.44"/>
<path d="M456.6,149.4 Q459.0,149.8 463.2,150.3" stroke="#ffffff" stroke-width="1.2" fill="none" stroke-linecap="round" opacity="0.41"/>
<path d="M521.8,84.9 Q524.9,83.6 527.9,85.4" stroke="#9cc2e8" stroke-width="1.1" fill="none" stroke-linecap="round" opacity="0.49"/>
<path d="M465.1,117.0 Q467.9,116.7 471.7,117.1" stroke="#9cc2e8" stroke-width="0.9" fill="none" stroke-linecap="round" opacity="0.79"/>
<path d="M594.2,201.3 Q597.0,203.1 597.4,204.1" stroke="#ffffff" stroke-width="0.7" fill="none" stroke-linecap="round" opacity="0.62"/>
<path d="M467.2,169.7 Q469.6,167.7 470.3,166.7" stroke="#9cc2e8" stroke-width="1.2" fill="none" stroke-linecap="round" opacity="0.48"/>
<path d="M522.8,152.9 Q523.7,150.9 527.8,149.1" stroke="#9cc2e8" stroke-width="1.1" fill="none" stroke-linecap="round" opacity="0.57"/>
<path d="M594.7,195.7 Q596.7,195.8 601.1,194.6" stroke="#9cc2e8" stroke-width="1.3" fill="none" stroke-linecap="round" opacity="0.66"/>
<path d="M512.8,127.7 Q516.6,129.6 516.7,127.8" stroke="#e8f0fa" stroke-width="1.6" fill="none" stroke-linecap="round" opacity="0.59"/>
<path d="M585.3,70.1 Q590.1,72.7 591.4,72.6" stroke="#e8f0fa" stroke-width="1.5" fill="none" stroke-linecap="round" opacity="0.58"/>
<path d="M501.2,133.2 Q502.6,136.0 506.5,138.4" stroke="#ffffff" stroke-width="0.8" fill="none" stroke-linecap="round" opacity="0.46"/>
<path d="M540.3,65.1 Q540.6,65.5 543.7,64.2" stroke="#ffffff" stroke-width="1.6" fill="none" stroke-linecap="round" opacity="0.72"/>
<path d="M607.1,78.5 Q610.3,79.1 610.2,76.0" stroke="#ffffff" stroke-width="1.0" fill="none" stroke-linecap="round" opacity="0.41"/>
<path d="M589.0,93.7 Q590.6,89.9 594.5,88.1" stroke="#ffffff" stroke-width="1.2" fill="none" stroke-linecap="round" opacity="0.58"/>
<path d="M515.6,144.7 Q516.6,141.3 519.8,141.5" stroke="#9cc2e8" stroke-width="1.6" fill="none" stroke-linecap="round" opacity="0.75"/>
<path d="M466.7,176.4 Q470.3,174.9 471.4,171.9" stroke="#9cc2e8" stroke-width="0.7" fill="none" stroke-linecap="round" opacity="0.56"/>
<path d="M594.6,109.0 Q594.8,110.5 598.3,108.1" stroke="#9cc2e8" stroke-width="1.2" fill="none" stroke-linecap="round" opacity="0.64"/>
<path d="M599.0,170.2 Q603.1,169.9 603.6,170.7" stroke="#ffffff" stroke-width="0.6" fill="none" stroke-linecap="round" opacity="0.50"/>
<path d="M569.4,193.0 Q571.2,192.3 573.5,191.4" stroke="#e8f0fa" stroke-width="1.1" fill="none" stroke-linecap="round" opacity="0.70"/>
<path d="M498.7,47.2 Q501.2,48.6 505.7,48.6" stroke="#9cc2e8" stroke-width="0.7" fill="none" stroke-linecap="round" opacity="0.45"/>
<path d="M527.8,86.5 Q530.6,90.3 533.8,91.8" stroke="#9cc2e8" stroke-width="1.4" fill="none" stroke-linecap="round" opacity="0.73"/>
<path d="M455.6,106.1 Q458.4,106.0 458.0,104.0" stroke="#9cc2e8" stroke-width="1.6" fill="none" stroke-linecap="round" opacity="0.57"/>
<path d="M587.1,164.5 Q588.4,164.7 591.2,165.0" stroke="#e8f0fa" stroke-width="0.7" fill="none" stroke-linecap="round" opacity="0.75"/>
<path d="M447.5,34.5 Q448.7,37.6 452.2,36.8" stroke="#ffffff" stroke-width="0.7" fill="none" stroke-linecap="round" opacity="0.42"/>
<path d="M516.2,174.4 Q521.3,176.0 523.6,176.8" stroke="#9cc2e8" stroke-width="0.9" fill="none" stroke-linecap="round" opacity="0.78"/>
<path d="M550.3,99.6 Q552.4,99.9 554.3,103.3" stroke="#ffffff" stroke-width="1.0" fill="none" stroke-linecap="round" opacity="0.44"/>
<path d="M567.4,168.1 Q569.6,169.8 571.0,168.6" stroke="#e8f0fa" stroke-width="0.6" fill="none" stroke-linecap="round" opacity="0.75"/>
<path d="M556.4,76.4 Q560.8,77.6 562.0,80.8" stroke="#9cc2e8" stroke-width="1.1" fill="none" stroke-linecap="round" opacity="0.44"/>
<path d="M550.4,133.6 Q551.0,133.4 553.8,130.6" stroke="#3f74b5" stroke-width="1.7" fill="none" stroke-linecap="round" opacity="0.57"/>
<path d="M610.7,33.1 Q614.5,34.8 616.5,32.7" stroke="#3f74b5" stroke-width="1.1" fill="none" stroke-linecap="round" opacity="0.67"/>
<path d="M453.5,78.7 Q456.1,80.0 457.1,79.6" stroke="#4a7fbf" stroke-width="0.8" fill="none" stroke-linecap="round" opacity="0.59"/>
<path d="M578.9,69.7 Q581.7,69.4 582.9,68.9" stroke="#3f74b5" stroke-width="1.4" fill="none" stroke-linecap="round" opacity="0.44"/>
<path d="M579.7,171.4 Q583.3,171.6 583.9,168.3" stroke="#4a7fbf" stroke-width="1.6" fill="none" stroke-linecap="round" opacity="0.45"/>
<path d="M538.7,163.5 Q539.0,164.4 541.1,165.4" stroke="#4a7fbf" stroke-width="1.0" fill="none" stroke-linecap="round" opacity="0.65"/>
<path d="M511.9,123.9 Q512.5,123.5 514.5,126.0" stroke="#4a7fbf" stroke-width="1.7" fill="none" stroke-linecap="round" opacity="0.56"/>
<path d="M452.7,181.7 Q456.0,183.0 457.2,184.5" stroke="#4a7fbf" stroke-width="1.0" fill="none" stroke-linecap="round" opacity="0.68"/>
<path d="M580.5,68.1 Q584.4,63.9 585.6,62.8" stroke="#4a7fbf" stroke-width="1.6" fill="none" stroke-linecap="round" opacity="0.59"/>
<path d="M584.2,200.3 Q589.3,198.6 591.1,198.4" stroke="#3f74b5" stroke-width="1.5" fill="none" stroke-linecap="round" opacity="0.65"/>
<path d="M540.1,76.2 Q541.3,76.6 545.4,74.0" stroke="#4a7fbf" stroke-width="1.0" fill="none" stroke-linecap="round" opacity="0.61"/>
<path d="M557.8,49.3 Q560.1,49.2 563.9,52.3" stroke="#3f74b5" stroke-width="1.7" fill="none" stroke-linecap="round" opacity="0.60"/>
<path d="M579.9,122.6 Q581.2,121.1 583.3,122.3" stroke="#4a7fbf" stroke-width="0.9" fill="none" stroke-linecap="round" opacity="0.63"/>
<path d="M461.2,144.9 Q463.5,145.0 464.5,142.2" stroke="#3f74b5" stroke-width="1.4" fill="none" stroke-linecap="round" opacity="0.44"/>
<path d="M511.9,63.2 Q513.8,63.4 517.0,63.9" stroke="#3f74b5" stroke-width="1.5" fill="none" stroke-linecap="round" opacity="0.44"/>
<path d="M509.9,79.3 Q511.9,77.4 516.2,77.0" stroke="#3f74b5" stroke-width="1.0" fill="none" stroke-linecap="round" opacity="0.66"/>
<path d="M578.0,81.1 Q578.2,79.7 581.4,81.8" stroke="#3f74b5" stroke-width="1.7" fill="none" stroke-linecap="round" opacity="0.48"/>
<path d="M488.9,46.0 Q491.0,45.8 495.8,46.1" stroke="#4a7fbf" stroke-width="1.3" fill="none" stroke-linecap="round" opacity="0.51"/>
<path d="M585.3,184.1 Q587.7,184.7 588.9,183.4" stroke="#3f74b5" stroke-width="1.5" fill="none" stroke-linecap="round" opacity="0.49"/>
<path d="M531.5,78.4 Q535.8,79.8 536.8,77.9" stroke="#3f74b5" stroke-width="1.4" fill="none" stroke-linecap="round" opacity="0.59"/>
<path d="M474.8,72.4 Q477.1,73.6 477.8,72.4" stroke="#3f74b5" stroke-width="1.6" fill="none" stroke-linecap="round" opacity="0.65"/>
<path d="M508.1,173.0 Q511.0,171.2 514.2,170.0" stroke="#4a7fbf" stroke-width="1.5" fill="none" stroke-linecap="round" opacity="0.60"/>
<path d="M461.4,139.5 Q461.8,140.6 464.6,142.7" stroke="#3f74b5" stroke-width="1.4" fill="none" stroke-linecap="round" opacity="0.51"/>
<path d="M463.8,40.0 Q466.6,42.1 469.7,40.2" stroke="#3f74b5" stroke-width="1.5" fill="none" stroke-linecap="round" opacity="0.57"/>
<path d="M551.0,70.0 Q555.7,69.9 556.5,71.1" stroke="#3f74b5" stroke-width="1.1" fill="none" stroke-linecap="round" opacity="0.55"/>
<path d="M520.1,199.4 Q520.3,198.2 524.1,199.8" stroke="#3f74b5" stroke-width="1.1" fill="none" stroke-linecap="round" opacity="0.42"/>
<path d="M481.8,115.2 Q485.0,112.3 488.9,112.8" stroke="#4a7fbf" stroke-width="1.0" fill="none" stroke-linecap="round" opacity="0.46"/>
<path d="M461.3,54.7 Q464.1,53.5 468.1,55.0" stroke="#3f74b5" stroke-width="1.5" fill="none" stroke-linecap="round" opacity="0.47"/>
<path d="M453.3,113.2 Q456.2,110.1 458.2,108.7" stroke="#3f74b5" stroke-width="1.8" fill="none" stroke-linecap="round" opacity="0.48"/>
<path d="M523.6,55.9 Q528.8,58.5 530.7,59.0" stroke="#4a7fbf" stroke-width="1.4" fill="none" stroke-linecap="round" opacity="0.60"/>
<path d="M511.2,126.3 Q515.3,124.6 518.1,122.6" stroke="#4a7fbf" stroke-width="1.4" fill="none" stroke-linecap="round" opacity="0.52"/>
<path d="M548.8,83.8 Q550.8,82.1 553.4,79.3" stroke="#3f74b5" stroke-width="1.1" fill="none" stroke-linecap="round" opacity="0.47"/>
<path d="M562.9,80.3 Q566.2,81.4 567.4,81.9" stroke="#3f74b5" stroke-width="0.9" fill="none" stroke-linecap="round" opacity="0.66"/>
<path d="M541.5,159.7 Q545.2,160.7 547.9,160.6" stroke="#3f74b5" stroke-width="1.0" fill="none" stroke-linecap="round" opacity="0.64"/>
<path d="M537.4,160.2 Q540.0,159.1 540.5,160.2" stroke="#3f74b5" stroke-width="1.6" fill="none" stroke-linecap="round" opacity="0.61"/>
<path d="M494.5,148.5 Q498.5,147.1 500.2,144.7" stroke="#4a7fbf" stroke-width="1.1" fill="none" stroke-linecap="round" opacity="0.55"/>
<path d="M476.5,186.9 Q476.4,187.8 480.1,190.4" stroke="#4a7fbf" stroke-width="1.4" fill="none" stroke-linecap="round" opacity="0.45"/>
<path d="M567.5,48.4 Q567.6,48.2 570.9,49.9" stroke="#3f74b5" stroke-width="1.1" fill="none" stroke-linecap="round" opacity="0.67"/>
<path d="M601.8,77.6 Q605.0,77.9 607.7,80.1" stroke="#4a7fbf" stroke-width="1.0" fill="none" stroke-linecap="round" opacity="0.47"/>
<path d="M575.4,167.6 Q578.5,167.3 579.8,165.8" stroke="#3f74b5" stroke-width="0.8" fill="none" stroke-linecap="round" opacity="0.67"/>
<polygon points="572,27 580,27 592,46 608,70 604,75 588,52" fill="#f4f6fa"/>
<polygon points="546,188 560,182 566,186 552,192" fill="#f4f6fa"/>
<polygon points="446,96 452,92 456,100 450,104" fill="#f4f6fa"/>
<polygon points="452,150 458,146 462,156 456,160" fill="#f4f6fa"/>
<path d="M645,64 C631,84 621,100 617,122 C613,150 611,180 611,206" stroke="#5189c6" stroke-width="14" fill="none"/>
<path d="M645,66 C632,86 622,102 619,122 C615,150 613,180 613,206 L646,206 L646,66 Z" fill="#a9c8e8"/>
<polygon points="646,52 646,64 626,96 618,106 619,96 630,76" fill="#f5f7fb"/>
<path d="M618,118 C615,150 613,180 613,205" stroke="#f5f7fb" stroke-width="1.4" fill="none" opacity="0.8"/>
<circle cx="624.7" cy="117.1" r="0.9" fill="#eef4fb" opacity="0.85"/>
<circle cx="620.1" cy="128.3" r="0.9" fill="#eef4fb" opacity="0.85"/>
<circle cx="633.6" cy="114.5" r="1.2" fill="#eef4fb" opacity="0.85"/>
<circle cx="631.3" cy="121.0" r="1.4" fill="#eef4fb" opacity="0.85"/>
<circle cx="625.9" cy="170.4" r="1.5" fill="#eef4fb" opacity="0.85"/>
<circle cx="631.6" cy="178.4" r="1.2" fill="#eef4fb" opacity="0.85"/>
<circle cx="620.8" cy="123.9" r="1.5" fill="#eef4fb" opacity="0.85"/>
<circle cx="619.6" cy="156.8" r="1.5" fill="#eef4fb" opacity="0.85"/>
<circle cx="617.9" cy="189.7" r="1.4" fill="#eef4fb" opacity="0.85"/>
<circle cx="632.9" cy="113.1" r="1.5" fill="#eef4fb" opacity="0.85"/>
<circle cx="630.0" cy="126.4" r="1.3" fill="#eef4fb" opacity="0.85"/>
<circle cx="635.6" cy="107.7" r="1.1" fill="#eef4fb" opacity="0.85"/>
<circle cx="621.9" cy="200.9" r="1.4" fill="#eef4fb" opacity="0.85"/>
<circle cx="633.1" cy="89.9" r="0.9" fill="#eef4fb" opacity="0.85"/>
<circle cx="634.4" cy="102.6" r="0.9" fill="#eef4fb" opacity="0.85"/>
<circle cx="619.5" cy="178.8" r="1.3" fill="#eef4fb" opacity="0.85"/>
<circle cx="620.3" cy="186.6" r="1.0" fill="#eef4fb" opacity="0.85"/>
<circle cx="629.2" cy="175.3" r="1.5" fill="#eef4fb" opacity="0.85"/>
<circle cx="627.4" cy="124.9" r="1.6" fill="#eef4fb" opacity="0.85"/>
<circle cx="642.1" cy="125.6" r="1.5" fill="#eef4fb" opacity="0.85"/>
<circle cx="633.8" cy="108.6" r="1.6" fill="#eef4fb" opacity="0.85"/>
<circle cx="640.5" cy="98.9" r="1.4" fill="#eef4fb" opacity="0.85"/>
<circle cx="632.6" cy="173.4" r="0.9" fill="#eef4fb" opacity="0.85"/>
<circle cx="619.7" cy="198.1" r="1.4" fill="#eef4fb" opacity="0.85"/>
<circle cx="625.3" cy="170.3" r="1.3" fill="#eef4fb" opacity="0.85"/>
<circle cx="636.5" cy="133.4" r="0.8" fill="#eef4fb" opacity="0.85"/>
<circle cx="627.0" cy="195.1" r="1.4" fill="#eef4fb" opacity="0.85"/>
<circle cx="638.1" cy="140.6" r="1.0" fill="#eef4fb" opacity="0.85"/>
<circle cx="617.7" cy="149.3" r="1.2" fill="#eef4fb" opacity="0.85"/>
<circle cx="640.9" cy="94.3" r="1.3" fill="#eef4fb" opacity="0.85"/>
<circle cx="642.3" cy="135.2" r="1.6" fill="#eef4fb" opacity="0.85"/>
<circle cx="619.1" cy="197.9" r="1.4" fill="#eef4fb" opacity="0.85"/>
<circle cx="632.8" cy="170.8" r="0.8" fill="#eef4fb" opacity="0.85"/>
<circle cx="628.4" cy="194.0" r="1.3" fill="#eef4fb" opacity="0.85"/>
<circle cx="624.2" cy="181.1" r="0.8" fill="#eef4fb" opacity="0.85"/>
<circle cx="624.0" cy="194.0" r="0.8" fill="#eef4fb" opacity="0.85"/>
<circle cx="642.9" cy="101.1" r="1.4" fill="#eef4fb" opacity="0.85"/>
<circle cx="625.4" cy="109.8" r="1.5" fill="#eef4fb" opacity="0.85"/>
<circle cx="632.2" cy="163.4" r="0.9" fill="#eef4fb" opacity="0.85"/>
<circle cx="641.6" cy="133.8" r="0.8" fill="#eef4fb" opacity="0.85"/>
<circle cx="618.5" cy="134.5" r="1.6" fill="#eef4fb" opacity="0.85"/>
<circle cx="642.2" cy="97.3" r="1.5" fill="#eef4fb" opacity="0.85"/>
<circle cx="618.1" cy="171.3" r="1.4" fill="#eef4fb" opacity="0.85"/>
<circle cx="629.8" cy="143.2" r="0.9" fill="#eef4fb" opacity="0.85"/>
<circle cx="637.9" cy="145.4" r="0.9" fill="#eef4fb" opacity="0.85"/>
<circle cx="627.9" cy="188.4" r="1.0" fill="#eef4fb" opacity="0.85"/>
<circle cx="631.2" cy="113.2" r="1.3" fill="#eef4fb" opacity="0.85"/>
<circle cx="640.1" cy="152.2" r="1.2" fill="#eef4fb" opacity="0.85"/>
<circle cx="642.7" cy="145.5" r="1.0" fill="#eef4fb" opacity="0.85"/>
<circle cx="634.5" cy="87.0" r="1.1" fill="#eef4fb" opacity="0.85"/>
<circle cx="633.0" cy="99.6" r="0.8" fill="#eef4fb" opacity="0.85"/>
<circle cx="629.6" cy="193.7" r="1.5" fill="#eef4fb" opacity="0.85"/>
<circle cx="636.0" cy="167.3" r="1.4" fill="#eef4fb" opacity="0.85"/>
<circle cx="636.4" cy="120.6" r="1.0" fill="#eef4fb" opacity="0.85"/>
<circle cx="632.5" cy="150.5" r="1.4" fill="#eef4fb" opacity="0.85"/>
<circle cx="630.6" cy="104.8" r="1.5" fill="#eef4fb" opacity="0.85"/>
<circle cx="642.4" cy="179.9" r="0.9" fill="#eef4fb" opacity="0.85"/>
<circle cx="624.5" cy="109.8" r="1.4" fill="#eef4fb" opacity="0.85"/>
<circle cx="633.9" cy="173.0" r="1.4" fill="#eef4fb" opacity="0.85"/>
<circle cx="631.6" cy="145.9" r="1.5" fill="#eef4fb" opacity="0.85"/>
<circle cx="634.1" cy="161.5" r="1.3" fill="#eef4fb" opacity="0.85"/>
<circle cx="636.7" cy="143.3" r="1.3" fill="#eef4fb" opacity="0.85"/>
<circle cx="633.1" cy="100.2" r="1.1" fill="#eef4fb" opacity="0.85"/>
<circle cx="631.6" cy="136.0" r="1.1" fill="#eef4fb" opacity="0.85"/>
<circle cx="628.1" cy="131.2" r="1.1" fill="#eef4fb" opacity="0.85"/>
<circle cx="619.3" cy="199.7" r="0.8" fill="#eef4fb" opacity="0.85"/>
<circle cx="627.3" cy="170.1" r="1.2" fill="#eef4fb" opacity="0.85"/>
<circle cx="626.5" cy="154.8" r="1.0" fill="#eef4fb" opacity="0.85"/>
<circle cx="641.4" cy="86.8" r="1.6" fill="#eef4fb" opacity="0.85"/>
<circle cx="630.3" cy="118.7" r="1.1" fill="#eef4fb" opacity="0.85"/>
<circle cx="641.5" cy="91.9" r="1.5" fill="#eef4fb" opacity="0.85"/>
<circle cx="626.6" cy="113.4" r="1.4" fill="#eef4fb" opacity="0.85"/>
<circle cx="629.2" cy="179.0" r="1.1" fill="#eef4fb" opacity="0.85"/>
<circle cx="638.6" cy="112.6" r="1.5" fill="#eef4fb" opacity="0.85"/>
<circle cx="620.0" cy="186.2" r="1.3" fill="#eef4fb" opacity="0.85"/>
<circle cx="635.6" cy="201.3" r="1.2" fill="#eef4fb" opacity="0.85"/>
<circle cx="626.1" cy="102.1" r="1.4" fill="#eef4fb" opacity="0.85"/>
<circle cx="640.2" cy="93.1" r="1.3" fill="#eef4fb" opacity="0.85"/>
<circle cx="640.2" cy="140.9" r="1.5" fill="#eef4fb" opacity="0.85"/>
<circle cx="619.6" cy="157.8" r="1.3" fill="#eef4fb" opacity="0.85"/>
<circle cx="623.5" cy="134.7" r="1.5" fill="#eef4fb" opacity="0.85"/>
<circle cx="620.2" cy="171.2" r="1.0" fill="#eef4fb" opacity="0.85"/>
<circle cx="631.9" cy="125.4" r="1.1" fill="#eef4fb" opacity="0.85"/>
<circle cx="638.1" cy="136.9" r="0.9" fill="#eef4fb" opacity="0.85"/>
<circle cx="625.6" cy="170.0" r="1.6" fill="#eef4fb" opacity="0.85"/>
<circle cx="625.5" cy="197.3" r="1.3" fill="#eef4fb" opacity="0.85"/>
<circle cx="633.2" cy="98.1" r="1.3" fill="#eef4fb" opacity="0.85"/>
<circle cx="625.9" cy="160.3" r="0.8" fill="#eef4fb" opacity="0.85"/>
<circle cx="635.5" cy="99.7" r="0.9" fill="#eef4fb" opacity="0.85"/>
<circle cx="633.6" cy="121.1" r="1.5" fill="#eef4fb" opacity="0.85"/>
<circle cx="623.6" cy="145.8" r="1.3" fill="#eef4fb" opacity="0.85"/>
<circle cx="637.9" cy="117.5" r="0.9" fill="#eef4fb" opacity="0.85"/>
<circle cx="630.2" cy="115.9" r="1.5" fill="#eef4fb" opacity="0.85"/>
<circle cx="627.8" cy="104.5" r="0.9" fill="#eef4fb" opacity="0.85"/>
<circle cx="629.1" cy="110.2" r="1.1" fill="#eef4fb" opacity="0.85"/>
<circle cx="627.5" cy="174.6" r="1.2" fill="#eef4fb" opacity="0.85"/>
<circle cx="637.1" cy="131.8" r="1.5" fill="#eef4fb" opacity="0.85"/>
<circle cx="641.0" cy="135.2" r="1.0" fill="#eef4fb" opacity="0.85"/>
<circle cx="630.7" cy="200.4" r="1.3" fill="#eef4fb" opacity="0.85"/>
<circle cx="624.1" cy="130.0" r="0.9" fill="#eef4fb" opacity="0.85"/>
<circle cx="626.3" cy="189.5" r="1.4" fill="#eef4fb" opacity="0.85"/>
<circle cx="630.7" cy="139.4" r="1.0" fill="#eef4fb" opacity="0.85"/>
<circle cx="630.2" cy="105.9" r="1.3" fill="#eef4fb" opacity="0.85"/>
<circle cx="617.1" cy="149.1" r="1.4" fill="#eef4fb" opacity="0.85"/>
<circle cx="618.8" cy="136.1" r="1.0" fill="#eef4fb" opacity="0.85"/>
<circle cx="639.3" cy="110.0" r="1.2" fill="#eef4fb" opacity="0.85"/>
<circle cx="623.8" cy="123.6" r="1.0" fill="#eef4fb" opacity="0.85"/>
<circle cx="627.6" cy="118.1" r="1.4" fill="#eef4fb" opacity="0.85"/>
<circle cx="635.2" cy="178.0" r="1.5" fill="#eef4fb" opacity="0.85"/>
<circle cx="620.0" cy="162.2" r="0.8" fill="#eef4fb" opacity="0.85"/>
<ellipse cx="534" cy="104" rx="60" ry="44" fill="#6398cf"/>
<ellipse cx="534" cy="104" rx="55" ry="39.5" fill="#84b3d8"/>
<ellipse cx="533" cy="106" rx="46" ry="27.5" fill="#95bfdc"/>
<polygon points="499.1,106.8 497.4,103.0 500.9,100.7 499.9,96.8 503.7,96.1 504.8,92.3 508.7,93.5 511.2,90.2 514.9,92.2 517.8,89.2 521.2,91.5 524.5,88.9 527.7,91.7 531.2,89.4 534.1,92.4 537.8,90.3 540.5,93.5 544.3,91.8 546.8,95.2 550.7,93.7 552.7,97.4 556.8,96.6 558.1,100.5 562.3,100.4 563.0,104.5 567.1,105.1 566.8,109.1 570.4,110.9 568.1,113.7 569.2,117.1 565.3,116.6 563.3,120.2 559.4,118.7 556.8,122.0 553.1,120.1 550.3,123.2 546.6,121.1 543.6,124.0 540.1,121.7 536.9,124.4 533.6,121.9 530.2,124.5 527.0,121.7 523.5,124.0 520.5,121.0 516.9,123.1 514.1,119.9 510.3,121.7 507.9,118.4 504.0,119.6 502.7,115.8 498.7,115.5 499.2,111.6 496.1,109.5" fill="#f8f8fb" stroke="#4b3d8c" stroke-width="2" stroke-linejoin="round"/>
<path d="M548,104 C553,108 560,114 564,118" stroke="#a8c4e6" stroke-width="3" fill="none" opacity="0.7"/>
<path d="M540,112 C545,114 552,116 556,119" stroke="#b8d0ec" stroke-width="2" fill="none" opacity="0.7"/>
</g>
</g>
<line x1="375.7" y1="187.0" x2="444.6" y2="187.0" stroke="#111" stroke-width="1.6"/>
<text x="410.1" y="181.2" font-size="7.8" font-weight="bold" text-anchor="middle" fill="#111">100 µm</text>
<clipPath id="c4"><rect x="361" y="213" width="281.5" height="175.6"/></clipPath>
<clipPath id="t4"><polygon points="360,212 462,212 470,222 534,223 545,212 598,212 604,228 612,240 628,222 644,212 644,246 624.5,258.3 599.8,274.8 579.2,291.2 554.5,307.7 525.7,320 480.4,336.5 443.3,348.9 414.5,371.5 400,376 375,377 361,374"/></clipPath>
<rect x="361" y="213" width="281.5" height="175.6" fill="#eef0f5"/>
<g clip-path="url(#c4)">
<g clip-path="url(#t4)">
<rect x="358" y="210" width="290" height="180" fill="#6c9fd3"/>
<ellipse cx="406.8" cy="256.1" rx="4.1" ry="2.6" fill="#f0f4fa" opacity="0.5"/>
<ellipse cx="414.8" cy="294.6" rx="4.2" ry="2.6" fill="#f0f4fa" opacity="0.5"/>
<ellipse cx="373.8" cy="377.0" rx="3.0" ry="2.7" fill="#ffffff" opacity="0.5"/>
<ellipse cx="471.9" cy="343.2" rx="5.1" ry="2.1" fill="#ffffff" opacity="0.5"/>
<ellipse cx="569.3" cy="372.0" rx="5.4" ry="2.2" fill="#8ab4de" opacity="0.5"/>
<ellipse cx="439.7" cy="258.5" rx="2.3" ry="3.0" fill="#ffffff" opacity="0.5"/>
<ellipse cx="384.7" cy="276.8" rx="4.3" ry="2.3" fill="#8ab4de" opacity="0.5"/>
<ellipse cx="620.7" cy="254.4" rx="2.7" ry="2.3" fill="#8ab4de" opacity="0.5"/>
<ellipse cx="411.1" cy="359.0" rx="2.4" ry="1.3" fill="#4f84c2" opacity="0.5"/>
<ellipse cx="463.6" cy="298.9" rx="2.5" ry="2.9" fill="#f0f4fa" opacity="0.5"/>
<ellipse cx="610.4" cy="291.2" rx="2.2" ry="2.7" fill="#ffffff" opacity="0.5"/>
<ellipse cx="542.4" cy="352.7" rx="2.1" ry="1.1" fill="#4f84c2" opacity="0.5"/>
<ellipse cx="396.9" cy="262.2" rx="5.4" ry="2.4" fill="#ffffff" opacity="0.5"/>
<ellipse cx="502.3" cy="239.4" rx="5.6" ry="2.3" fill="#8ab4de" opacity="0.5"/>
<ellipse cx="450.1" cy="235.3" rx="2.7" ry="1.8" fill="#4f84c2" opacity="0.5"/>
<ellipse cx="445.5" cy="235.6" rx="3.3" ry="1.5" fill="#8ab4de" opacity="0.5"/>
<ellipse cx="584.2" cy="227.7" rx="3.3" ry="2.9" fill="#ffffff" opacity="0.5"/>
<ellipse cx="574.5" cy="302.5" rx="5.2" ry="2.1" fill="#ffffff" opacity="0.5"/>
<ellipse cx="519.3" cy="314.8" rx="2.6" ry="1.7" fill="#f0f4fa" opacity="0.5"/>
<ellipse cx="366.3" cy="229.3" rx="2.7" ry="2.9" fill="#f0f4fa" opacity="0.5"/>
<ellipse cx="583.1" cy="360.1" rx="3.3" ry="1.3" fill="#8ab4de" opacity="0.5"/>
<ellipse cx="554.4" cy="275.1" rx="3.4" ry="1.3" fill="#f0f4fa" opacity="0.5"/>
<ellipse cx="489.5" cy="348.6" rx="3.4" ry="1.6" fill="#ffffff" opacity="0.5"/>
<ellipse cx="569.0" cy="360.4" rx="3.4" ry="2.4" fill="#f0f4fa" opacity="0.5"/>
<ellipse cx="551.8" cy="272.5" rx="4.2" ry="2.2" fill="#f0f4fa" opacity="0.5"/>
<ellipse cx="437.4" cy="360.8" rx="5.2" ry="1.6" fill="#ffffff" opacity="0.5"/>
<ellipse cx="554.6" cy="322.7" rx="3.7" ry="1.1" fill="#8ab4de" opacity="0.5"/>
<ellipse cx="515.6" cy="303.1" rx="3.6" ry="2.1" fill="#ffffff" opacity="0.5"/>
<ellipse cx="398.2" cy="254.6" rx="4.7" ry="2.9" fill="#f0f4fa" opacity="0.5"/>
<ellipse cx="539.8" cy="347.7" rx="4.8" ry="2.9" fill="#ffffff" opacity="0.5"/>
<ellipse cx="423.9" cy="333.8" rx="5.0" ry="2.9" fill="#f0f4fa" opacity="0.5"/>
<ellipse cx="509.2" cy="341.6" rx="2.6" ry="2.1" fill="#f0f4fa" opacity="0.5"/>
<ellipse cx="631.2" cy="348.1" rx="2.0" ry="2.7" fill="#4f84c2" opacity="0.5"/>
<ellipse cx="550.8" cy="263.8" rx="4.9" ry="2.0" fill="#ffffff" opacity="0.5"/>
<ellipse cx="462.5" cy="360.2" rx="4.7" ry="1.9" fill="#8ab4de" opacity="0.5"/>
<ellipse cx="628.9" cy="214.2" rx="5.6" ry="2.4" fill="#f0f4fa" opacity="0.5"/>
<ellipse cx="515.0" cy="304.9" rx="2.0" ry="2.0" fill="#f0f4fa" opacity="0.5"/>
<ellipse cx="465.0" cy="379.0" rx="4.6" ry="1.1" fill="#ffffff" opacity="0.5"/>
<ellipse cx="491.9" cy="227.8" rx="3.6" ry="1.5" fill="#f0f4fa" opacity="0.5"/>
<ellipse cx="541.7" cy="287.3" rx="4.2" ry="2.7" fill="#f0f4fa" opacity="0.5"/>
<ellipse cx="522.8" cy="301.6" rx="4.2" ry="2.0" fill="#4f84c2" opacity="0.5"/>
<ellipse cx="591.4" cy="225.6" rx="2.5" ry="1.7" fill="#4f84c2" opacity="0.5"/>
<ellipse cx="512.3" cy="366.6" rx="4.7" ry="1.4" fill="#4f84c2" opacity="0.5"/>
<ellipse cx="422.8" cy="250.0" rx="2.1" ry="1.5" fill="#ffffff" opacity="0.5"/>
<ellipse cx="365.2" cy="282.9" rx="5.7" ry="2.6" fill="#f0f4fa" opacity="0.5"/>
<ellipse cx="527.7" cy="263.1" rx="4.9" ry="2.4" fill="#4f84c2" opacity="0.5"/>
<ellipse cx="492.4" cy="290.5" rx="3.1" ry="1.1" fill="#f0f4fa" opacity="0.5"/>
<ellipse cx="625.3" cy="266.9" rx="4.5" ry="2.0" fill="#ffffff" opacity="0.5"/>
<ellipse cx="599.1" cy="349.3" rx="4.0" ry="1.4" fill="#8ab4de" opacity="0.5"/>
<ellipse cx="464.0" cy="315.1" rx="4.4" ry="1.7" fill="#8ab4de" opacity="0.5"/>
<ellipse cx="616.3" cy="277.7" rx="5.0" ry="2.9" fill="#8ab4de" opacity="0.5"/>
<ellipse cx="453.1" cy="332.8" rx="5.3" ry="1.3" fill="#ffffff" opacity="0.5"/>
<ellipse cx="525.5" cy="350.9" rx="2.3" ry="2.1" fill="#8ab4de" opacity="0.5"/>
<ellipse cx="635.5" cy="369.4" rx="2.4" ry="1.7" fill="#f0f4fa" opacity="0.5"/>
<ellipse cx="510.2" cy="372.8" rx="3.0" ry="1.1" fill="#8ab4de" opacity="0.5"/>
<ellipse cx="555.2" cy="320.0" rx="2.3" ry="2.1" fill="#f0f4fa" opacity="0.5"/>
<ellipse cx="605.7" cy="255.9" rx="5.3" ry="1.0" fill="#f0f4fa" opacity="0.5"/>
<ellipse cx="367.8" cy="262.3" rx="2.1" ry="1.1" fill="#ffffff" opacity="0.5"/>
<ellipse cx="427.0" cy="331.3" rx="4.6" ry="1.2" fill="#8ab4de" opacity="0.5"/>
<ellipse cx="380.9" cy="329.3" rx="3.4" ry="1.3" fill="#ffffff" opacity="0.5"/>
<ellipse cx="568.1" cy="343.9" rx="5.4" ry="1.9" fill="#4f84c2" opacity="0.5"/>
<ellipse cx="631.6" cy="367.7" rx="4.1" ry="1.5" fill="#8ab4de" opacity="0.5"/>
<ellipse cx="634.8" cy="335.0" rx="4.7" ry="2.7" fill="#f0f4fa" opacity="0.5"/>
<ellipse cx="533.8" cy="308.9" rx="5.3" ry="1.2" fill="#ffffff" opacity="0.5"/>
<ellipse cx="512.4" cy="356.1" rx="2.2" ry="2.6" fill="#f0f4fa" opacity="0.5"/>
<ellipse cx="456.9" cy="281.2" rx="5.4" ry="1.6" fill="#4f84c2" opacity="0.5"/>
<ellipse cx="361.8" cy="228.4" rx="4.9" ry="1.3" fill="#8ab4de" opacity="0.5"/>
<ellipse cx="484.6" cy="311.9" rx="4.7" ry="2.4" fill="#ffffff" opacity="0.5"/>
<ellipse cx="635.7" cy="217.6" rx="5.4" ry="1.6" fill="#ffffff" opacity="0.5"/>
<ellipse cx="481.4" cy="252.6" rx="4.4" ry="3.0" fill="#4f84c2" opacity="0.5"/>
<ellipse cx="621.0" cy="319.8" rx="2.9" ry="1.5" fill="#ffffff" opacity="0.5"/>
<ellipse cx="483.5" cy="377.7" rx="3.3" ry="1.6" fill="#f0f4fa" opacity="0.5"/>
<ellipse cx="621.7" cy="345.8" rx="3.9" ry="1.3" fill="#f0f4fa" opacity="0.5"/>
<ellipse cx="583.2" cy="243.8" rx="2.4" ry="2.3" fill="#f0f4fa" opacity="0.5"/>
<ellipse cx="517.6" cy="295.5" rx="2.3" ry="1.5" fill="#8ab4de" opacity="0.5"/>
<ellipse cx="599.0" cy="227.0" rx="4.7" ry="1.8" fill="#f0f4fa" opacity="0.5"/>
<ellipse cx="466.3" cy="235.9" rx="5.5" ry="2.0" fill="#f0f4fa" opacity="0.5"/>
<ellipse cx="441.3" cy="228.9" rx="4.4" ry="2.8" fill="#4f84c2" opacity="0.5"/>
<ellipse cx="452.7" cy="250.2" rx="4.5" ry="2.5" fill="#4f84c2" opacity="0.5"/>
<ellipse cx="485.4" cy="349.5" rx="5.4" ry="2.0" fill="#f0f4fa" opacity="0.5"/>
<ellipse cx="482.8" cy="321.9" rx="5.5" ry="1.4" fill="#8ab4de" opacity="0.5"/>
<ellipse cx="593.7" cy="268.3" rx="2.3" ry="1.2" fill="#4f84c2" opacity="0.5"/>
<ellipse cx="568.8" cy="318.3" rx="5.7" ry="2.3" fill="#ffffff" opacity="0.5"/>
<ellipse cx="473.5" cy="309.8" rx="4.1" ry="1.4" fill="#4f84c2" opacity="0.5"/>
<ellipse cx="417.4" cy="356.0" rx="3.7" ry="2.9" fill="#8ab4de" opacity="0.5"/>
<ellipse cx="542.2" cy="245.2" rx="5.7" ry="1.4" fill="#ffffff" opacity="0.5"/>
<ellipse cx="623.7" cy="372.6" rx="5.0" ry="2.7" fill="#ffffff" opacity="0.5"/>
<ellipse cx="371.2" cy="262.9" rx="4.4" ry="2.6" fill="#ffffff" opacity="0.5"/>
<ellipse cx="367.8" cy="373.6" rx="5.9" ry="2.7" fill="#f0f4fa" opacity="0.5"/>
<ellipse cx="460.4" cy="353.0" rx="2.1" ry="2.3" fill="#f0f4fa" opacity="0.5"/>
<ellipse cx="400.5" cy="218.9" rx="5.3" ry="2.3" fill="#f0f4fa" opacity="0.5"/>
<ellipse cx="448.3" cy="257.6" rx="5.7" ry="2.1" fill="#ffffff" opacity="0.5"/>
<ellipse cx="441.2" cy="361.9" rx="2.1" ry="2.5" fill="#ffffff" opacity="0.5"/>
<ellipse cx="612.9" cy="349.1" rx="2.0" ry="1.8" fill="#ffffff" opacity="0.5"/>
<ellipse cx="581.1" cy="293.1" rx="5.3" ry="1.2" fill="#ffffff" opacity="0.5"/>
<ellipse cx="436.0" cy="278.0" rx="5.5" ry="2.1" fill="#4f84c2" opacity="0.5"/>
<ellipse cx="471.4" cy="250.0" rx="4.7" ry="2.2" fill="#f0f4fa" opacity="0.5"/>
<ellipse cx="554.7" cy="374.5" rx="4.3" ry="1.3" fill="#ffffff" opacity="0.5"/>
<ellipse cx="383.9" cy="338.4" rx="2.9" ry="1.6" fill="#8ab4de" opacity="0.5"/>
<ellipse cx="470.2" cy="356.6" rx="3.4" ry="2.3" fill="#f0f4fa" opacity="0.5"/>
<ellipse cx="416.6" cy="263.8" rx="2.0" ry="1.4" fill="#f0f4fa" opacity="0.5"/>
<ellipse cx="418.5" cy="288.2" rx="5.7" ry="1.5" fill="#ffffff" opacity="0.5"/>
<ellipse cx="597.7" cy="336.1" rx="4.3" ry="1.8" fill="#f0f4fa" opacity="0.5"/>
<ellipse cx="382.4" cy="229.2" rx="3.2" ry="1.2" fill="#ffffff" opacity="0.5"/>
<ellipse cx="602.0" cy="227.6" rx="4.8" ry="1.1" fill="#ffffff" opacity="0.5"/>
<ellipse cx="562.4" cy="350.9" rx="4.5" ry="1.5" fill="#f0f4fa" opacity="0.5"/>
<ellipse cx="471.1" cy="257.9" rx="2.6" ry="2.7" fill="#f0f4fa" opacity="0.5"/>
<ellipse cx="621.2" cy="241.7" rx="3.1" ry="2.0" fill="#ffffff" opacity="0.5"/>
<ellipse cx="599.9" cy="249.4" rx="2.9" ry="1.6" fill="#8ab4de" opacity="0.5"/>
<ellipse cx="542.2" cy="335.5" rx="4.2" ry="2.5" fill="#ffffff" opacity="0.5"/>
<ellipse cx="392.2" cy="250.1" rx="4.6" ry="1.3" fill="#ffffff" opacity="0.5"/>
<ellipse cx="405.9" cy="239.8" rx="4.2" ry="1.7" fill="#4f84c2" opacity="0.5"/>
<ellipse cx="495.9" cy="349.0" rx="4.7" ry="2.7" fill="#4f84c2" opacity="0.5"/>
<ellipse cx="476.6" cy="273.1" rx="3.3" ry="1.0" fill="#8ab4de" opacity="0.5"/>
<ellipse cx="567.0" cy="295.3" rx="2.0" ry="1.5" fill="#f0f4fa" opacity="0.5"/>
<ellipse cx="488.6" cy="247.3" rx="5.3" ry="2.8" fill="#ffffff" opacity="0.5"/>
<ellipse cx="624.1" cy="288.7" rx="6.0" ry="1.0" fill="#4f84c2" opacity="0.5"/>
<ellipse cx="533.5" cy="325.5" rx="4.5" ry="2.2" fill="#f0f4fa" opacity="0.5"/>
<ellipse cx="509.0" cy="322.9" rx="2.8" ry="2.1" fill="#8ab4de" opacity="0.5"/>
<ellipse cx="382.2" cy="341.5" rx="2.7" ry="1.7" fill="#4f84c2" opacity="0.5"/>
<ellipse cx="518.2" cy="374.9" rx="5.7" ry="3.0" fill="#8ab4de" opacity="0.5"/>
<ellipse cx="622.2" cy="256.4" rx="4.3" ry="2.3" fill="#4f84c2" opacity="0.5"/>
<ellipse cx="431.6" cy="281.6" rx="3.7" ry="2.1" fill="#4f84c2" opacity="0.5"/>
<ellipse cx="398.9" cy="259.4" rx="4.6" ry="2.3" fill="#4f84c2" opacity="0.5"/>
<ellipse cx="498.7" cy="372.1" rx="2.8" ry="1.4" fill="#f0f4fa" opacity="0.5"/>
<ellipse cx="382.5" cy="271.5" rx="5.5" ry="2.3" fill="#ffffff" opacity="0.5"/>
<ellipse cx="633.7" cy="223.6" rx="5.7" ry="1.0" fill="#ffffff" opacity="0.5"/>
<ellipse cx="521.3" cy="373.1" rx="5.0" ry="1.2" fill="#8ab4de" opacity="0.5"/>
<ellipse cx="428.1" cy="311.4" rx="4.1" ry="1.7" fill="#f0f4fa" opacity="0.5"/>
<ellipse cx="518.7" cy="306.6" rx="6.0" ry="2.4" fill="#4f84c2" opacity="0.5"/>
<ellipse cx="575.7" cy="303.0" rx="4.9" ry="2.3" fill="#ffffff" opacity="0.5"/>
<ellipse cx="631.8" cy="339.9" rx="2.9" ry="2.1" fill="#f0f4fa" opacity="0.5"/>
<ellipse cx="614.5" cy="284.9" rx="3.9" ry="2.5" fill="#ffffff" opacity="0.5"/>
<ellipse cx="497.5" cy="284.3" rx="4.8" ry="2.4" fill="#f0f4fa" opacity="0.5"/>
<ellipse cx="584.2" cy="257.1" rx="4.7" ry="2.0" fill="#ffffff" opacity="0.5"/>
<ellipse cx="485.7" cy="272.7" rx="2.1" ry="1.9" fill="#8ab4de" opacity="0.5"/>
<ellipse cx="444.3" cy="294.7" rx="2.3" ry="2.8" fill="#f0f4fa" opacity="0.5"/>
<ellipse cx="484.9" cy="271.1" rx="4.0" ry="2.1" fill="#f0f4fa" opacity="0.5"/>
<ellipse cx="533.7" cy="289.6" rx="4.5" ry="1.2" fill="#8ab4de" opacity="0.5"/>
<ellipse cx="439.5" cy="271.7" rx="3.3" ry="2.5" fill="#f0f4fa" opacity="0.5"/>
<rect x="358" y="210" width="290" height="180" filter="url(#tex)" opacity="0.4"/>
<path d="M531.6,350.0 Q536.9,345.7 538.9,343.6" stroke="#f0f5fb" stroke-width="1.3" fill="none" stroke-linecap="round" opacity="0.89"/>
<path d="M484.9,309.1 Q489.0,311.4 492.5,311.1" stroke="#f0f5fb" stroke-width="1.8" fill="none" stroke-linecap="round" opacity="0.79"/>
<path d="M401.3,380.0 Q405.1,378.6 410.5,377.9" stroke="#f0f5fb" stroke-width="1.2" fill="none" stroke-linecap="round" opacity="0.87"/>
<path d="M465.0,259.0 Q466.7,259.4 470.3,259.9" stroke="#ffffff" stroke-width="1.0" fill="none" stroke-linecap="round" opacity="0.58"/>
<path d="M585.4,225.6 Q590.3,225.0 593.4,222.1" stroke="#ffffff" stroke-width="1.9" fill="none" stroke-linecap="round" opacity="0.54"/>
<path d="M499.8,250.5 Q502.5,248.5 506.2,243.8" stroke="#f0f5fb" stroke-width="1.0" fill="none" stroke-linecap="round" opacity="0.83"/>
<path d="M557.9,246.6 Q560.4,244.6 565.2,244.4" stroke="#ffffff" stroke-width="1.0" fill="none" stroke-linecap="round" opacity="0.61"/>
<path d="M621.0,333.8 Q626.1,334.6 628.3,331.7" stroke="#ffffff" stroke-width="2.0" fill="none" stroke-linecap="round" opacity="0.60"/>
<path d="M540.5,365.3 Q546.0,366.6 548.1,364.3" stroke="#ffffff" stroke-width="1.5" fill="none" stroke-linecap="round" opacity="0.56"/>
<path d="M563.5,302.8 Q569.1,302.2 571.3,298.2" stroke="#f0f5fb" stroke-width="0.9" fill="none" stroke-linecap="round" opacity="0.66"/>
<path d="M487.9,255.9 Q491.2,255.8 497.3,255.8" stroke="#ffffff" stroke-width="2.0" fill="none" stroke-linecap="round" opacity="0.68"/>
<path d="M390.5,289.2 Q393.5,287.1 398.9,286.8" stroke="#f0f5fb" stroke-width="0.8" fill="none" stroke-linecap="round" opacity="0.74"/>
<path d="M387.8,338.3 Q391.1,338.0 396.6,334.7" stroke="#ffffff" stroke-width="1.1" fill="none" stroke-linecap="round" opacity="0.63"/>
<path d="M545.0,342.0 Q546.9,343.7 551.9,343.8" stroke="#ffffff" stroke-width="1.0" fill="none" stroke-linecap="round" opacity="0.70"/>
<path d="M494.6,337.6 Q496.2,336.2 499.1,338.1" stroke="#f0f5fb" stroke-width="0.9" fill="none" stroke-linecap="round" opacity="0.52"/>
<path d="M435.3,319.3 Q441.5,319.1 444.8,321.9" stroke="#f0f5fb" stroke-width="2.1" fill="none" stroke-linecap="round" opacity="0.60"/>
<path d="M498.9,248.8 Q499.4,249.7 502.9,248.5" stroke="#ffffff" stroke-width="0.8" fill="none" stroke-linecap="round" opacity="0.50"/>
<path d="M635.3,256.8 Q637.6,255.4 643.0,251.7" stroke="#ffffff" stroke-width="1.6" fill="none" stroke-linecap="round" opacity="0.74"/>
<path d="M362.7,314.3 Q367.0,312.1 371.2,312.9" stroke="#ffffff" stroke-width="1.0" fill="none" stroke-linecap="round" opacity="0.52"/>
<path d="M569.8,261.2 Q572.5,261.1 576.1,261.1" stroke="#ffffff" stroke-width="1.6" fill="none" stroke-linecap="round" opacity="0.60"/>
<path d="M520.5,355.9 Q523.7,356.3 526.4,352.9" stroke="#ffffff" stroke-width="1.4" fill="none" stroke-linecap="round" opacity="0.52"/>
<path d="M598.1,310.3 Q601.1,307.5 601.2,306.5" stroke="#ffffff" stroke-width="1.6" fill="none" stroke-linecap="round" opacity="0.83"/>
<path d="M492.8,318.2 Q495.2,316.8 497.5,315.3" stroke="#ffffff" stroke-width="1.3" fill="none" stroke-linecap="round" opacity="0.83"/>
<path d="M428.6,268.0 Q431.5,265.6 432.9,264.1" stroke="#f0f5fb" stroke-width="0.9" fill="none" stroke-linecap="round" opacity="0.75"/>
<path d="M368.0,356.0 Q370.7,356.5 374.0,355.5" stroke="#ffffff" stroke-width="1.3" fill="none" stroke-linecap="round" opacity="0.59"/>
<path d="M386.1,289.8 Q388.6,291.4 390.8,290.0" stroke="#f0f5fb" stroke-width="1.7" fill="none" stroke-linecap="round" opacity="0.73"/>
<path d="M621.6,305.6 Q625.1,305.4 628.3,307.0" stroke="#f0f5fb" stroke-width="0.9" fill="none" stroke-linecap="round" opacity="0.88"/>
<path d="M471.9,266.7 Q472.1,267.5 476.2,267.9" stroke="#f0f5fb" stroke-width="2.1" fill="none" stroke-linecap="round" opacity="0.80"/>
<path d="M385.6,218.1 Q390.0,217.9 393.2,217.7" stroke="#ffffff" stroke-width="1.3" fill="none" stroke-linecap="round" opacity="0.71"/>
<path d="M366.1,237.5 Q368.0,236.7 373.2,233.7" stroke="#ffffff" stroke-width="1.8" fill="none" stroke-linecap="round" opacity="0.87"/>
<path d="M605.0,320.8 Q607.1,322.2 609.5,321.1" stroke="#f0f5fb" stroke-width="1.7" fill="none" stroke-linecap="round" opacity="0.57"/>
<path d="M524.6,273.0 Q529.5,270.8 531.6,266.4" stroke="#f0f5fb" stroke-width="2.0" fill="none" stroke-linecap="round" opacity="0.54"/>
<path d="M523.4,243.3 Q525.4,240.4 527.7,241.0" stroke="#ffffff" stroke-width="2.0" fill="none" stroke-linecap="round" opacity="0.59"/>
<path d="M401.2,230.6 Q404.4,230.2 408.7,230.9" stroke="#ffffff" stroke-width="1.2" fill="none" stroke-linecap="round" opacity="0.86"/>
<path d="M583.2,352.3 Q585.8,351.2 588.0,352.2" stroke="#f0f5fb" stroke-width="1.8" fill="none" stroke-linecap="round" opacity="0.68"/>
<path d="M438.7,283.2 Q440.0,283.0 444.1,283.0" stroke="#ffffff" stroke-width="1.3" fill="none" stroke-linecap="round" opacity="0.81"/>
<path d="M495.9,222.9 Q498.2,221.9 503.7,224.1" stroke="#ffffff" stroke-width="2.0" fill="none" stroke-linecap="round" opacity="0.81"/>
<path d="M374.6,330.5 Q378.6,330.0 381.4,329.4" stroke="#ffffff" stroke-width="0.9" fill="none" stroke-linecap="round" opacity="0.69"/>
<path d="M548.0,261.9 Q552.5,258.7 554.4,255.7" stroke="#ffffff" stroke-width="1.3" fill="none" stroke-linecap="round" opacity="0.72"/>
<path d="M367.3,271.7 Q372.2,268.6 373.8,264.2" stroke="#ffffff" stroke-width="1.5" fill="none" stroke-linecap="round" opacity="0.60"/>
<path d="M484.7,232.0 Q489.1,228.0 492.2,225.6" stroke="#ffffff" stroke-width="2.0" fill="none" stroke-linecap="round" opacity="0.84"/>
<path d="M423.9,214.9 Q428.2,213.6 430.5,211.7" stroke="#f0f5fb" stroke-width="1.5" fill="none" stroke-linecap="round" opacity="0.72"/>
<path d="M609.1,224.7 Q612.9,222.8 616.3,221.0" stroke="#f0f5fb" stroke-width="2.0" fill="none" stroke-linecap="round" opacity="0.82"/>
<path d="M378.2,216.8 Q381.6,216.6 386.3,215.5" stroke="#ffffff" stroke-width="0.9" fill="none" stroke-linecap="round" opacity="0.64"/>
<path d="M382.0,296.8 Q385.6,296.9 390.3,298.9" stroke="#ffffff" stroke-width="1.8" fill="none" stroke-linecap="round" opacity="0.74"/>
<path d="M430.0,326.8 Q434.6,325.9 435.3,326.5" stroke="#f0f5fb" stroke-width="1.5" fill="none" stroke-linecap="round" opacity="0.85"/>
<path d="M613.4,267.5 Q616.8,264.8 618.9,260.8" stroke="#ffffff" stroke-width="1.5" fill="none" stroke-linecap="round" opacity="0.58"/>
<path d="M564.1,296.6 Q566.3,296.0 568.0,297.8" stroke="#f0f5fb" stroke-width="1.6" fill="none" stroke-linecap="round" opacity="0.80"/>
<path d="M405.4,339.9 Q410.9,342.8 414.0,342.2" stroke="#ffffff" stroke-width="1.1" fill="none" stroke-linecap="round" opacity="0.69"/>
<path d="M606.9,374.8 Q612.1,373.2 614.3,375.1" stroke="#f0f5fb" stroke-width="2.0" fill="none" stroke-linecap="round" opacity="0.81"/>
<path d="M443.0,379.0 Q443.8,375.7 445.9,375.8" stroke="#ffffff" stroke-width="1.3" fill="none" stroke-linecap="round" opacity="0.66"/>
<path d="M602.1,302.0 Q605.2,303.4 608.7,301.0" stroke="#f0f5fb" stroke-width="1.7" fill="none" stroke-linecap="round" opacity="0.78"/>
<path d="M642.9,247.4 Q644.7,245.0 647.2,246.2" stroke="#f0f5fb" stroke-width="2.1" fill="none" stroke-linecap="round" opacity="0.56"/>
<path d="M610.4,220.5 Q611.8,219.9 615.2,220.0" stroke="#f0f5fb" stroke-width="1.4" fill="none" stroke-linecap="round" opacity="0.67"/>
<path d="M474.5,300.0 Q477.3,295.9 482.7,294.8" stroke="#ffffff" stroke-width="2.1" fill="none" stroke-linecap="round" opacity="0.58"/>
<path d="M458.9,270.9 Q463.2,272.9 464.0,271.4" stroke="#ffffff" stroke-width="1.2" fill="none" stroke-linecap="round" opacity="0.71"/>
<path d="M440.2,324.8 Q443.2,323.0 447.8,321.6" stroke="#ffffff" stroke-width="1.3" fill="none" stroke-linecap="round" opacity="0.75"/>
<path d="M635.7,283.4 Q638.0,282.1 641.6,279.9" stroke="#ffffff" stroke-width="1.9" fill="none" stroke-linecap="round" opacity="0.59"/>
<path d="M598.4,346.5 Q602.5,347.9 605.1,347.2" stroke="#f0f5fb" stroke-width="0.9" fill="none" stroke-linecap="round" opacity="0.53"/>
<path d="M500.1,357.7 Q504.7,359.2 507.4,357.9" stroke="#f0f5fb" stroke-width="2.1" fill="none" stroke-linecap="round" opacity="0.65"/>
<path d="M541.2,227.8 Q545.3,227.4 550.4,228.0" stroke="#ffffff" stroke-width="2.2" fill="none" stroke-linecap="round" opacity="0.51"/>
<path d="M604.4,223.8 Q606.5,226.1 609.7,224.6" stroke="#f0f5fb" stroke-width="2.1" fill="none" stroke-linecap="round" opacity="0.84"/>
<path d="M367.9,234.6 Q372.8,236.4 376.8,237.1" stroke="#f0f5fb" stroke-width="1.0" fill="none" stroke-linecap="round" opacity="0.73"/>
<path d="M549.3,295.4 Q551.2,294.0 553.8,291.9" stroke="#f0f5fb" stroke-width="2.0" fill="none" stroke-linecap="round" opacity="0.76"/>
<path d="M372.8,225.4 Q376.3,223.9 377.7,225.9" stroke="#ffffff" stroke-width="1.5" fill="none" stroke-linecap="round" opacity="0.71"/>
<path d="M591.7,246.9 Q595.2,244.0 596.2,243.3" stroke="#ffffff" stroke-width="1.0" fill="none" stroke-linecap="round" opacity="0.70"/>
<path d="M637.5,303.6 Q639.9,304.0 643.8,300.4" stroke="#ffffff" stroke-width="1.6" fill="none" stroke-linecap="round" opacity="0.67"/>
<path d="M503.5,220.2 Q506.6,220.0 510.9,221.4" stroke="#ffffff" stroke-width="1.9" fill="none" stroke-linecap="round" opacity="0.76"/>
<path d="M575.9,368.3 Q578.7,363.9 581.3,362.4" stroke="#ffffff" stroke-width="2.2" fill="none" stroke-linecap="round" opacity="0.70"/>
<path d="M470.6,352.1 Q473.0,349.5 478.5,346.3" stroke="#f0f5fb" stroke-width="1.5" fill="none" stroke-linecap="round" opacity="0.51"/>
<path d="M631.2,294.6 Q634.6,294.8 635.4,295.2" stroke="#ffffff" stroke-width="1.0" fill="none" stroke-linecap="round" opacity="0.82"/>
<path d="M526.3,290.5 Q528.1,287.9 530.8,285.4" stroke="#ffffff" stroke-width="1.8" fill="none" stroke-linecap="round" opacity="0.88"/>
<path d="M444.3,327.1 Q449.9,326.2 452.8,323.2" stroke="#ffffff" stroke-width="1.1" fill="none" stroke-linecap="round" opacity="0.70"/>
<path d="M378.6,232.6 Q379.3,230.1 384.0,227.8" stroke="#ffffff" stroke-width="1.9" fill="none" stroke-linecap="round" opacity="0.68"/>
<path d="M472.4,345.9 Q477.5,343.6 479.6,345.0" stroke="#ffffff" stroke-width="1.1" fill="none" stroke-linecap="round" opacity="0.74"/>
<path d="M510.5,234.3 Q511.4,230.9 515.5,228.6" stroke="#ffffff" stroke-width="2.1" fill="none" stroke-linecap="round" opacity="0.82"/>
<path d="M368.3,273.1 Q370.3,271.8 372.9,273.0" stroke="#ffffff" stroke-width="1.8" fill="none" stroke-linecap="round" opacity="0.54"/>
<path d="M556.2,368.1 Q559.3,366.5 563.5,368.2" stroke="#ffffff" stroke-width="1.5" fill="none" stroke-linecap="round" opacity="0.80"/>
<path d="M556.5,313.3 Q558.4,310.4 562.6,310.3" stroke="#f0f5fb" stroke-width="1.1" fill="none" stroke-linecap="round" opacity="0.63"/>
<path d="M506.0,334.4 Q510.2,332.9 511.4,332.3" stroke="#f0f5fb" stroke-width="1.4" fill="none" stroke-linecap="round" opacity="0.85"/>
<path d="M483.7,291.6 Q489.0,291.0 492.1,292.7" stroke="#f0f5fb" stroke-width="1.2" fill="none" stroke-linecap="round" opacity="0.72"/>
<path d="M631.4,247.5 Q631.8,247.0 635.0,243.7" stroke="#ffffff" stroke-width="1.0" fill="none" stroke-linecap="round" opacity="0.77"/>
<path d="M619.8,267.1 Q624.3,267.1 624.9,266.6" stroke="#ffffff" stroke-width="1.0" fill="none" stroke-linecap="round" opacity="0.76"/>
<path d="M363.9,313.0 Q367.4,314.8 370.5,313.4" stroke="#ffffff" stroke-width="2.1" fill="none" stroke-linecap="round" opacity="0.74"/>
<path d="M412.6,244.0 Q415.3,243.4 421.5,243.5" stroke="#f0f5fb" stroke-width="2.2" fill="none" stroke-linecap="round" opacity="0.81"/>
<path d="M505.1,362.7 Q505.7,361.2 509.7,357.2" stroke="#f0f5fb" stroke-width="1.5" fill="none" stroke-linecap="round" opacity="0.71"/>
<path d="M549.1,241.1 Q550.8,242.8 554.0,241.6" stroke="#ffffff" stroke-width="1.3" fill="none" stroke-linecap="round" opacity="0.88"/>
<path d="M371.6,372.5 Q374.3,369.9 374.9,370.0" stroke="#f0f5fb" stroke-width="0.8" fill="none" stroke-linecap="round" opacity="0.55"/>
<path d="M461.8,227.1 Q465.7,226.1 467.6,225.1" stroke="#ffffff" stroke-width="2.0" fill="none" stroke-linecap="round" opacity="0.57"/>
<path d="M619.7,362.4 Q621.9,360.9 626.7,360.9" stroke="#ffffff" stroke-width="1.8" fill="none" stroke-linecap="round" opacity="0.63"/>
<path d="M367.8,224.3 Q371.6,221.6 376.5,220.1" stroke="#f0f5fb" stroke-width="1.5" fill="none" stroke-linecap="round" opacity="0.75"/>
<path d="M428.2,329.2 Q432.4,326.1 435.9,325.9" stroke="#f0f5fb" stroke-width="1.9" fill="none" stroke-linecap="round" opacity="0.83"/>
<path d="M403.1,349.1 Q403.0,347.9 406.9,346.6" stroke="#ffffff" stroke-width="1.8" fill="none" stroke-linecap="round" opacity="0.53"/>
<path d="M504.9,256.4 Q506.4,254.7 510.3,255.3" stroke="#ffffff" stroke-width="1.3" fill="none" stroke-linecap="round" opacity="0.85"/>
<path d="M568.4,257.9 Q572.1,258.0 572.3,257.0" stroke="#ffffff" stroke-width="1.8" fill="none" stroke-linecap="round" opacity="0.88"/>
<path d="M493.6,340.2 Q496.9,337.8 500.6,338.1" stroke="#f0f5fb" stroke-width="2.0" fill="none" stroke-linecap="round" opacity="0.62"/>
<path d="M561.6,356.7 Q565.1,356.0 566.0,357.4" stroke="#ffffff" stroke-width="1.8" fill="none" stroke-linecap="round" opacity="0.69"/>
<path d="M615.3,347.2 Q620.3,349.5 624.7,350.0" stroke="#ffffff" stroke-width="2.2" fill="none" stroke-linecap="round" opacity="0.75"/>
<path d="M507.0,302.9 Q509.0,303.1 513.8,304.6" stroke="#f0f5fb" stroke-width="1.8" fill="none" stroke-linecap="round" opacity="0.70"/>
<path d="M522.6,324.3 Q526.6,320.5 526.8,319.1" stroke="#f0f5fb" stroke-width="0.9" fill="none" stroke-linecap="round" opacity="0.61"/>
<path d="M489.2,238.1 Q492.1,234.6 495.7,234.1" stroke="#ffffff" stroke-width="2.1" fill="none" stroke-linecap="round" opacity="0.65"/>
<path d="M488.0,371.8 Q490.4,368.8 495.8,369.8" stroke="#f0f5fb" stroke-width="1.4" fill="none" stroke-linecap="round" opacity="0.53"/>
<path d="M588.9,306.4 Q594.3,306.7 597.6,305.3" stroke="#ffffff" stroke-width="2.1" fill="none" stroke-linecap="round" opacity="0.79"/>
<path d="M372.7,227.3 Q375.4,226.1 380.2,222.1" stroke="#ffffff" stroke-width="1.4" fill="none" stroke-linecap="round" opacity="0.57"/>
<path d="M387.0,365.9 Q388.0,363.9 392.1,360.6" stroke="#f0f5fb" stroke-width="2.0" fill="none" stroke-linecap="round" opacity="0.55"/>
<path d="M572.3,345.7 Q577.4,344.4 578.6,342.1" stroke="#f0f5fb" stroke-width="1.5" fill="none" stroke-linecap="round" opacity="0.74"/>
<path d="M443.5,379.9 Q450.0,380.9 452.6,378.9" stroke="#ffffff" stroke-width="1.0" fill="none" stroke-linecap="round" opacity="0.77"/>
<path d="M622.1,311.4 Q625.7,312.0 630.9,313.7" stroke="#ffffff" stroke-width="1.9" fill="none" stroke-linecap="round" opacity="0.77"/>
<path d="M378.6,292.9 Q381.4,290.6 385.1,288.7" stroke="#ffffff" stroke-width="1.9" fill="none" stroke-linecap="round" opacity="0.77"/>
<path d="M486.3,260.2 Q490.3,259.0 494.0,261.6" stroke="#ffffff" stroke-width="1.0" fill="none" stroke-linecap="round" opacity="0.64"/>
<path d="M616.0,357.3 Q620.0,356.9 625.6,360.0" stroke="#ffffff" stroke-width="1.1" fill="none" stroke-linecap="round" opacity="0.90"/>
<path d="M530.4,353.3 Q535.9,352.4 538.7,351.5" stroke="#ffffff" stroke-width="1.0" fill="none" stroke-linecap="round" opacity="0.78"/>
<path d="M606.7,361.6 Q610.4,359.8 614.2,360.2" stroke="#ffffff" stroke-width="1.2" fill="none" stroke-linecap="round" opacity="0.83"/>
<path d="M384.0,220.8 Q388.2,222.4 389.1,222.1" stroke="#ffffff" stroke-width="1.6" fill="none" stroke-linecap="round" opacity="0.67"/>
<path d="M584.9,338.4 Q587.5,338.4 590.8,334.8" stroke="#f0f5fb" stroke-width="2.0" fill="none" stroke-linecap="round" opacity="0.75"/>
<path d="M555.9,316.8 Q560.2,313.4 562.2,309.9" stroke="#ffffff" stroke-width="1.6" fill="none" stroke-linecap="round" opacity="0.80"/>
<path d="M516.6,257.2 Q519.9,254.2 523.6,252.0" stroke="#ffffff" stroke-width="2.0" fill="none" stroke-linecap="round" opacity="0.79"/>
<path d="M420.0,297.9 Q423.5,297.2 427.3,296.4" stroke="#ffffff" stroke-width="1.4" fill="none" stroke-linecap="round" opacity="0.50"/>
<path d="M363.4,220.3 Q367.0,217.8 371.2,217.1" stroke="#ffffff" stroke-width="1.5" fill="none" stroke-linecap="round" opacity="0.62"/>
<path d="M642.4,335.6 Q647.8,332.4 649.8,332.0" stroke="#ffffff" stroke-width="1.2" fill="none" stroke-linecap="round" opacity="0.83"/>
<path d="M508.3,231.3 Q512.3,232.2 516.4,232.3" stroke="#f0f5fb" stroke-width="1.3" fill="none" stroke-linecap="round" opacity="0.69"/>
<path d="M566.4,362.3 Q569.3,362.7 574.8,364.0" stroke="#ffffff" stroke-width="0.9" fill="none" stroke-linecap="round" opacity="0.63"/>
<path d="M618.9,324.1 Q623.4,321.7 626.7,321.6" stroke="#f0f5fb" stroke-width="1.8" fill="none" stroke-linecap="round" opacity="0.63"/>
<path d="M367.7,353.0 Q371.5,352.1 377.0,353.1" stroke="#ffffff" stroke-width="1.4" fill="none" stroke-linecap="round" opacity="0.50"/>
<path d="M611.2,216.4 Q614.4,215.6 614.8,213.8" stroke="#ffffff" stroke-width="1.0" fill="none" stroke-linecap="round" opacity="0.74"/>
<path d="M382.9,375.2 Q388.4,373.9 391.8,375.2" stroke="#ffffff" stroke-width="0.9" fill="none" stroke-linecap="round" opacity="0.84"/>
<path d="M565.2,248.4 Q569.2,247.1 569.3,249.0" stroke="#ffffff" stroke-width="2.2" fill="none" stroke-linecap="round" opacity="0.56"/>
<path d="M400.6,276.7 Q404.1,277.0 405.2,277.0" stroke="#f0f5fb" stroke-width="1.8" fill="none" stroke-linecap="round" opacity="0.52"/>
<path d="M516.1,234.1 Q520.5,234.7 525.9,233.9" stroke="#ffffff" stroke-width="1.8" fill="none" stroke-linecap="round" opacity="0.56"/>
<path d="M565.6,219.5 Q569.3,219.4 570.9,217.6" stroke="#ffffff" stroke-width="0.8" fill="none" stroke-linecap="round" opacity="0.60"/>
<path d="M494.8,273.4 Q498.3,272.8 499.5,271.7" stroke="#ffffff" stroke-width="1.0" fill="none" stroke-linecap="round" opacity="0.67"/>
<path d="M637.5,337.1 Q644.0,334.2 646.8,333.7" stroke="#f0f5fb" stroke-width="1.4" fill="none" stroke-linecap="round" opacity="0.63"/>
<path d="M472.2,249.9 Q477.4,247.6 479.5,245.7" stroke="#ffffff" stroke-width="1.0" fill="none" stroke-linecap="round" opacity="0.71"/>
<path d="M570.9,343.4 Q575.0,342.8 575.5,341.3" stroke="#ffffff" stroke-width="0.9" fill="none" stroke-linecap="round" opacity="0.84"/>
<path d="M369.6,243.5 Q371.0,244.1 375.4,244.2" stroke="#ffffff" stroke-width="1.9" fill="none" stroke-linecap="round" opacity="0.55"/>
<path d="M641.9,310.0 Q642.8,310.3 647.0,309.1" stroke="#ffffff" stroke-width="1.9" fill="none" stroke-linecap="round" opacity="0.74"/>
<path d="M624.1,379.9 Q628.7,377.5 629.6,376.7" stroke="#ffffff" stroke-width="0.8" fill="none" stroke-linecap="round" opacity="0.75"/>
<path d="M511.6,225.4 Q516.8,222.1 519.0,222.3" stroke="#ffffff" stroke-width="1.6" fill="none" stroke-linecap="round" opacity="0.86"/>
<path d="M540.3,339.1 Q545.0,336.9 547.2,337.3" stroke="#f0f5fb" stroke-width="1.0" fill="none" stroke-linecap="round" opacity="0.64"/>
<path d="M636.7,243.3 Q641.6,239.8 644.3,239.7" stroke="#ffffff" stroke-width="0.8" fill="none" stroke-linecap="round" opacity="0.55"/>
<path d="M589.1,232.1 Q592.2,228.4 595.2,228.4" stroke="#ffffff" stroke-width="1.1" fill="none" stroke-linecap="round" opacity="0.58"/>
<path d="M372.5,309.7 Q378.1,309.9 381.3,309.3" stroke="#ffffff" stroke-width="0.9" fill="none" stroke-linecap="round" opacity="0.72"/>
<path d="M631.9,342.9 Q633.9,342.3 637.1,337.9" stroke="#ffffff" stroke-width="0.8" fill="none" stroke-linecap="round" opacity="0.69"/>
<path d="M560.3,263.0 Q561.9,263.8 564.5,262.0" stroke="#ffffff" stroke-width="2.2" fill="none" stroke-linecap="round" opacity="0.66"/>
<path d="M503.7,338.8 Q507.4,340.0 512.1,339.5" stroke="#ffffff" stroke-width="1.1" fill="none" stroke-linecap="round" opacity="0.59"/>
<path d="M520.9,373.7 Q523.5,372.8 529.2,368.8" stroke="#ffffff" stroke-width="0.9" fill="none" stroke-linecap="round" opacity="0.64"/>
<path d="M629.6,375.2 Q633.6,370.5 634.9,369.6" stroke="#ffffff" stroke-width="1.9" fill="none" stroke-linecap="round" opacity="0.76"/>
<path d="M580.0,237.9 Q582.9,236.1 585.0,232.8" stroke="#ffffff" stroke-width="2.2" fill="none" stroke-linecap="round" opacity="0.64"/>
<path d="M422.0,244.1 Q427.3,243.9 429.5,240.1" stroke="#f0f5fb" stroke-width="1.7" fill="none" stroke-linecap="round" opacity="0.59"/>
<path d="M521.8,343.5 Q525.3,344.2 528.5,345.0" stroke="#ffffff" stroke-width="2.1" fill="none" stroke-linecap="round" opacity="0.86"/>
<path d="M561.6,287.9 Q563.8,287.1 567.6,283.7" stroke="#ffffff" stroke-width="1.4" fill="none" stroke-linecap="round" opacity="0.88"/>
<path d="M434.8,335.8 Q438.4,332.5 441.8,329.7" stroke="#ffffff" stroke-width="2.1" fill="none" stroke-linecap="round" opacity="0.71"/>
<path d="M519.9,246.0 Q524.4,247.8 526.8,246.3" stroke="#ffffff" stroke-width="1.3" fill="none" stroke-linecap="round" opacity="0.51"/>
<path d="M420.8,311.2 Q424.8,312.7 425.3,310.7" stroke="#ffffff" stroke-width="1.0" fill="none" stroke-linecap="round" opacity="0.67"/>
<path d="M377.9,314.4 Q380.6,314.5 382.2,311.3" stroke="#ffffff" stroke-width="1.6" fill="none" stroke-linecap="round" opacity="0.82"/>
<path d="M390.6,339.7 Q393.8,337.7 397.8,335.8" stroke="#ffffff" stroke-width="2.2" fill="none" stroke-linecap="round" opacity="0.64"/>
<path d="M599.5,348.4 Q602.9,349.9 606.4,348.7" stroke="#ffffff" stroke-width="1.4" fill="none" stroke-linecap="round" opacity="0.83"/>
<path d="M552.7,232.4 Q557.4,232.1 560.2,231.4" stroke="#ffffff" stroke-width="0.9" fill="none" stroke-linecap="round" opacity="0.80"/>
<path d="M507.4,241.0 Q508.3,241.3 511.6,241.7" stroke="#ffffff" stroke-width="1.0" fill="none" stroke-linecap="round" opacity="0.61"/>
<path d="M584.1,269.1 Q585.1,268.8 588.1,270.0" stroke="#f0f5fb" stroke-width="0.9" fill="none" stroke-linecap="round" opacity="0.77"/>
<path d="M439.9,323.4 Q442.6,322.0 445.4,323.0" stroke="#ffffff" stroke-width="1.9" fill="none" stroke-linecap="round" opacity="0.75"/>
<path d="M436.4,298.7 Q439.7,298.5 441.1,294.7" stroke="#f4f7fb" stroke-width="1.0" fill="none" stroke-linecap="round" opacity="0.65"/>
<path d="M400.9,305.8 Q404.6,307.9 408.6,306.5" stroke="#ffffff" stroke-width="2.1" fill="none" stroke-linecap="round" opacity="0.71"/>
<path d="M420.5,321.8 Q422.5,319.6 427.3,315.4" stroke="#f4f7fb" stroke-width="1.0" fill="none" stroke-linecap="round" opacity="0.62"/>
<path d="M383.4,274.3 Q390.2,276.2 392.9,274.7" stroke="#f4f7fb" stroke-width="1.2" fill="none" stroke-linecap="round" opacity="0.92"/>
<path d="M366.7,320.2 Q373.9,320.8 377.6,320.6" stroke="#ffffff" stroke-width="2.2" fill="none" stroke-linecap="round" opacity="0.68"/>
<path d="M368.0,308.8 Q371.1,306.7 373.7,306.5" stroke="#f4f7fb" stroke-width="1.7" fill="none" stroke-linecap="round" opacity="0.73"/>
<path d="M420.9,309.5 Q425.2,307.3 427.9,307.3" stroke="#f4f7fb" stroke-width="2.6" fill="none" stroke-linecap="round" opacity="0.91"/>
<path d="M387.5,306.8 Q390.3,306.5 391.7,303.9" stroke="#f4f7fb" stroke-width="1.9" fill="none" stroke-linecap="round" opacity="0.62"/>
<path d="M424.0,302.9 Q430.7,300.4 437.5,300.9" stroke="#f4f7fb" stroke-width="2.3" fill="none" stroke-linecap="round" opacity="0.83"/>
<path d="M374.5,294.8 Q379.2,292.6 383.4,287.1" stroke="#ffffff" stroke-width="1.8" fill="none" stroke-linecap="round" opacity="0.90"/>
<path d="M362.5,270.1 Q366.2,265.5 369.6,263.1" stroke="#f4f7fb" stroke-width="1.0" fill="none" stroke-linecap="round" opacity="0.61"/>
<path d="M446.7,317.8 Q450.7,314.3 454.7,310.5" stroke="#ffffff" stroke-width="2.4" fill="none" stroke-linecap="round" opacity="0.92"/>
<path d="M371.4,313.8 Q378.3,312.4 382.9,307.3" stroke="#f4f7fb" stroke-width="1.1" fill="none" stroke-linecap="round" opacity="0.68"/>
<path d="M417.4,282.2 Q421.4,282.1 422.6,281.5" stroke="#f4f7fb" stroke-width="1.8" fill="none" stroke-linecap="round" opacity="0.84"/>
<path d="M441.4,285.3 Q447.2,282.8 450.3,282.3" stroke="#f4f7fb" stroke-width="1.8" fill="none" stroke-linecap="round" opacity="0.82"/>
<path d="M402.9,283.6 Q404.0,283.7 407.8,280.3" stroke="#f4f7fb" stroke-width="1.8" fill="none" stroke-linecap="round" opacity="0.80"/>
<path d="M369.0,323.7 Q371.6,321.5 377.8,321.3" stroke="#f4f7fb" stroke-width="2.9" fill="none" stroke-linecap="round" opacity="0.65"/>
<path d="M381.3,270.6 Q384.5,269.2 389.2,270.8" stroke="#f4f7fb" stroke-width="2.2" fill="none" stroke-linecap="round" opacity="0.63"/>
<path d="M419.4,292.5 Q425.5,293.1 432.8,290.9" stroke="#ffffff" stroke-width="2.0" fill="none" stroke-linecap="round" opacity="0.81"/>
<path d="M405.2,272.4 Q412.7,269.3 416.2,269.3" stroke="#f4f7fb" stroke-width="2.4" fill="none" stroke-linecap="round" opacity="0.82"/>
<path d="M365.8,279.0 Q368.8,279.5 373.4,279.3" stroke="#f4f7fb" stroke-width="2.2" fill="none" stroke-linecap="round" opacity="0.66"/>
<path d="M396.2,285.0 Q401.8,283.3 404.7,280.8" stroke="#ffffff" stroke-width="2.4" fill="none" stroke-linecap="round" opacity="0.61"/>
<path d="M399.8,292.5 Q402.4,291.1 405.3,288.1" stroke="#ffffff" stroke-width="1.8" fill="none" stroke-linecap="round" opacity="0.83"/>
<path d="M372.8,300.5 Q377.8,299.1 385.7,300.4" stroke="#ffffff" stroke-width="2.5" fill="none" stroke-linecap="round" opacity="0.62"/>
<path d="M416.0,263.4 Q421.4,260.6 428.1,261.8" stroke="#ffffff" stroke-width="3.0" fill="none" stroke-linecap="round" opacity="0.82"/>
<path d="M393.6,282.7 Q399.9,281.1 407.3,281.8" stroke="#f4f7fb" stroke-width="2.2" fill="none" stroke-linecap="round" opacity="0.76"/>
<path d="M432.8,271.5 Q434.7,270.4 439.8,271.2" stroke="#f4f7fb" stroke-width="2.5" fill="none" stroke-linecap="round" opacity="0.85"/>
<path d="M434.6,319.9 Q439.1,318.2 444.4,320.5" stroke="#f4f7fb" stroke-width="1.7" fill="none" stroke-linecap="round" opacity="0.60"/>
<path d="M449.4,281.4 Q451.4,282.6 454.5,281.6" stroke="#f4f7fb" stroke-width="2.0" fill="none" stroke-linecap="round" opacity="0.63"/>
<path d="M435.0,310.0 Q440.9,308.1 444.4,306.3" stroke="#f4f7fb" stroke-width="2.1" fill="none" stroke-linecap="round" opacity="0.84"/>
<path d="M440.6,292.1 Q444.6,292.5 447.2,290.3" stroke="#ffffff" stroke-width="2.8" fill="none" stroke-linecap="round" opacity="0.93"/>
<path d="M430.2,286.0 Q434.6,282.1 438.1,281.9" stroke="#f4f7fb" stroke-width="2.9" fill="none" stroke-linecap="round" opacity="0.62"/>
<path d="M440.3,298.0 Q446.9,299.6 451.8,299.2" stroke="#f4f7fb" stroke-width="2.2" fill="none" stroke-linecap="round" opacity="0.67"/>
<path d="M409.5,271.8 Q414.6,273.6 419.9,271.6" stroke="#f4f7fb" stroke-width="2.6" fill="none" stroke-linecap="round" opacity="0.75"/>
<path d="M404.3,277.0 Q409.6,274.2 417.0,275.0" stroke="#f4f7fb" stroke-width="1.6" fill="none" stroke-linecap="round" opacity="0.84"/>
<path d="M393.9,311.3 Q400.9,308.5 404.0,307.5" stroke="#ffffff" stroke-width="1.6" fill="none" stroke-linecap="round" opacity="0.61"/>
<path d="M367.8,276.1 Q373.2,275.0 378.7,274.9" stroke="#f4f7fb" stroke-width="2.5" fill="none" stroke-linecap="round" opacity="0.89"/>
<path d="M393.3,288.5 Q396.5,288.0 400.5,284.8" stroke="#ffffff" stroke-width="1.4" fill="none" stroke-linecap="round" opacity="0.63"/>
<path d="M431.6,294.0 Q436.5,293.3 444.4,290.0" stroke="#f4f7fb" stroke-width="2.6" fill="none" stroke-linecap="round" opacity="0.87"/>
<path d="M372.1,295.4 Q378.1,295.3 383.0,291.4" stroke="#f4f7fb" stroke-width="2.4" fill="none" stroke-linecap="round" opacity="0.70"/>
<path d="M365.3,265.3 Q372.4,266.3 375.6,263.7" stroke="#ffffff" stroke-width="2.5" fill="none" stroke-linecap="round" opacity="0.73"/>
<path d="M363.8,315.1 Q369.4,313.8 373.6,312.0" stroke="#f4f7fb" stroke-width="1.0" fill="none" stroke-linecap="round" opacity="0.94"/>
<path d="M415.9,287.7 Q422.8,285.8 428.9,287.9" stroke="#ffffff" stroke-width="1.8" fill="none" stroke-linecap="round" opacity="0.80"/>
<path d="M434.9,270.3 Q437.8,268.3 442.7,270.0" stroke="#ffffff" stroke-width="1.6" fill="none" stroke-linecap="round" opacity="0.71"/>
<path d="M438.0,305.3 Q438.9,303.5 443.2,303.2" stroke="#ffffff" stroke-width="1.6" fill="none" stroke-linecap="round" opacity="0.75"/>
<path d="M405.3,268.6 Q408.6,267.6 413.2,268.3" stroke="#ffffff" stroke-width="2.4" fill="none" stroke-linecap="round" opacity="0.66"/>
<path d="M397.4,265.5 Q402.0,264.5 403.6,260.1" stroke="#f4f7fb" stroke-width="2.2" fill="none" stroke-linecap="round" opacity="0.78"/>
<path d="M419.4,293.3 Q424.2,290.2 430.7,287.9" stroke="#f4f7fb" stroke-width="1.7" fill="none" stroke-linecap="round" opacity="0.75"/>
<path d="M396.8,275.2 Q400.9,272.3 407.5,269.6" stroke="#f4f7fb" stroke-width="1.2" fill="none" stroke-linecap="round" opacity="0.81"/>
<path d="M382.7,301.2 Q386.7,301.8 389.7,299.7" stroke="#f4f7fb" stroke-width="1.5" fill="none" stroke-linecap="round" opacity="0.71"/>
<path d="M390.2,318.2 Q395.9,318.0 402.3,318.1" stroke="#ffffff" stroke-width="2.5" fill="none" stroke-linecap="round" opacity="0.82"/>
<path d="M404.6,311.2 Q411.0,309.4 415.9,307.4" stroke="#ffffff" stroke-width="1.4" fill="none" stroke-linecap="round" opacity="0.82"/>
<path d="M396.4,323.6 Q402.5,320.5 408.7,319.1" stroke="#ffffff" stroke-width="2.9" fill="none" stroke-linecap="round" opacity="0.93"/>
<path d="M383.2,316.8 Q391.5,315.3 396.7,317.2" stroke="#ffffff" stroke-width="2.9" fill="none" stroke-linecap="round" opacity="0.93"/>
<path d="M427.9,290.7 Q431.3,289.8 433.8,291.2" stroke="#ffffff" stroke-width="1.9" fill="none" stroke-linecap="round" opacity="0.89"/>
<path d="M423.8,313.6 Q428.0,311.3 431.8,308.4" stroke="#ffffff" stroke-width="1.5" fill="none" stroke-linecap="round" opacity="0.67"/>
<path d="M433.5,267.7 Q435.9,263.2 441.5,261.1" stroke="#ffffff" stroke-width="1.2" fill="none" stroke-linecap="round" opacity="0.92"/>
<path d="M422.1,286.1 Q426.4,287.6 427.9,285.4" stroke="#f4f7fb" stroke-width="1.9" fill="none" stroke-linecap="round" opacity="0.76"/>
<path d="M362.1,295.3 Q362.8,292.3 367.0,292.1" stroke="#f4f7fb" stroke-width="2.9" fill="none" stroke-linecap="round" opacity="0.95"/>
<path d="M432.8,269.3 Q439.9,268.7 446.0,264.7" stroke="#ffffff" stroke-width="1.3" fill="none" stroke-linecap="round" opacity="0.89"/>
<path d="M421.3,322.5 Q426.7,321.4 431.6,323.4" stroke="#f4f7fb" stroke-width="2.7" fill="none" stroke-linecap="round" opacity="0.75"/>
<path d="M406.5,315.5 Q407.9,312.7 413.1,312.2" stroke="#ffffff" stroke-width="2.9" fill="none" stroke-linecap="round" opacity="0.66"/>
<path d="M379.6,303.4 Q382.1,302.8 384.4,300.2" stroke="#f4f7fb" stroke-width="1.6" fill="none" stroke-linecap="round" opacity="0.93"/>
<path d="M398.4,323.3 Q402.3,320.2 403.1,320.4" stroke="#ffffff" stroke-width="2.2" fill="none" stroke-linecap="round" opacity="0.70"/>
<path d="M435.2,289.0 Q442.0,291.2 445.2,289.9" stroke="#f4f7fb" stroke-width="2.1" fill="none" stroke-linecap="round" opacity="0.64"/>
<path d="M400.9,319.3 Q403.9,320.4 409.4,319.0" stroke="#f4f7fb" stroke-width="1.1" fill="none" stroke-linecap="round" opacity="0.79"/>
<path d="M370.5,315.4 Q377.7,312.2 383.2,309.6" stroke="#ffffff" stroke-width="2.8" fill="none" stroke-linecap="round" opacity="0.92"/>
<path d="M410.5,283.8 Q415.0,282.3 415.7,282.4" stroke="#ffffff" stroke-width="2.3" fill="none" stroke-linecap="round" opacity="0.88"/>
<path d="M433.3,301.4 Q438.1,301.9 439.4,301.0" stroke="#ffffff" stroke-width="1.6" fill="none" stroke-linecap="round" opacity="0.90"/>
<path d="M369.1,318.7 Q373.7,317.5 377.5,316.6" stroke="#ffffff" stroke-width="1.6" fill="none" stroke-linecap="round" opacity="0.91"/>
<path d="M425.4,297.9 Q432.8,298.4 438.3,298.5" stroke="#ffffff" stroke-width="2.8" fill="none" stroke-linecap="round" opacity="0.61"/>
<path d="M398.9,271.5 Q400.2,271.3 405.3,272.0" stroke="#ffffff" stroke-width="1.9" fill="none" stroke-linecap="round" opacity="0.79"/>
<path d="M448.7,320.3 Q453.1,317.8 454.2,318.9" stroke="#ffffff" stroke-width="2.4" fill="none" stroke-linecap="round" opacity="0.73"/>
<path d="M428.1,290.8 Q432.4,289.4 432.9,286.8" stroke="#f4f7fb" stroke-width="1.9" fill="none" stroke-linecap="round" opacity="0.89"/>
<path d="M444.5,305.9 Q448.5,302.5 450.8,300.3" stroke="#ffffff" stroke-width="2.3" fill="none" stroke-linecap="round" opacity="0.93"/>
<path d="M409.9,296.3 Q412.0,295.9 414.6,293.7" stroke="#ffffff" stroke-width="2.3" fill="none" stroke-linecap="round" opacity="0.83"/>
<path d="M378.7,301.5 Q382.5,299.8 388.8,298.3" stroke="#ffffff" stroke-width="2.6" fill="none" stroke-linecap="round" opacity="0.74"/>
<path d="M437.6,299.1 Q445.8,298.7 450.0,294.9" stroke="#f4f7fb" stroke-width="2.4" fill="none" stroke-linecap="round" opacity="0.74"/>
<path d="M404.9,288.6 Q408.4,289.8 413.4,288.7" stroke="#ffffff" stroke-width="1.2" fill="none" stroke-linecap="round" opacity="0.71"/>
<path d="M407.4,309.4 Q415.3,307.6 419.3,305.2" stroke="#ffffff" stroke-width="2.2" fill="none" stroke-linecap="round" opacity="0.85"/>
<path d="M404.4,286.7 Q410.7,285.1 414.8,285.4" stroke="#ffffff" stroke-width="2.1" fill="none" stroke-linecap="round" opacity="0.81"/>
<path d="M371.5,283.1 Q377.9,281.3 381.9,277.9" stroke="#ffffff" stroke-width="2.8" fill="none" stroke-linecap="round" opacity="0.88"/>
<path d="M383.8,271.2 Q391.2,271.1 397.0,272.1" stroke="#f4f7fb" stroke-width="1.2" fill="none" stroke-linecap="round" opacity="0.92"/>
<path d="M448.6,317.0 Q452.9,315.0 456.7,313.4" stroke="#ffffff" stroke-width="2.5" fill="none" stroke-linecap="round" opacity="0.92"/>
<path d="M421.7,272.0 Q425.2,269.9 426.9,270.6" stroke="#f4f7fb" stroke-width="2.5" fill="none" stroke-linecap="round" opacity="0.87"/>
<path d="M421.0,316.1 Q425.9,312.9 429.7,308.4" stroke="#f4f7fb" stroke-width="1.9" fill="none" stroke-linecap="round" opacity="0.81"/>
<path d="M432.7,288.2 Q436.2,286.8 439.6,288.3" stroke="#ffffff" stroke-width="1.4" fill="none" stroke-linecap="round" opacity="0.60"/>
<path d="M432.5,314.8 Q438.2,313.6 442.6,310.9" stroke="#ffffff" stroke-width="1.9" fill="none" stroke-linecap="round" opacity="0.93"/>
<path d="M429.9,296.9 Q431.2,294.9 435.2,294.2" stroke="#f4f7fb" stroke-width="2.7" fill="none" stroke-linecap="round" opacity="0.89"/>
<path d="M446.9,322.8 Q454.2,319.0 459.4,316.9" stroke="#f4f7fb" stroke-width="2.9" fill="none" stroke-linecap="round" opacity="0.79"/>
<path d="M388.5,277.9 Q389.5,277.8 394.3,276.4" stroke="#f4f7fb" stroke-width="2.9" fill="none" stroke-linecap="round" opacity="0.76"/>
<path d="M369.8,314.1 Q375.7,311.4 382.8,310.3" stroke="#ffffff" stroke-width="2.6" fill="none" stroke-linecap="round" opacity="0.74"/>
<path d="M381.0,262.8 Q384.0,258.7 390.5,258.6" stroke="#f4f7fb" stroke-width="1.4" fill="none" stroke-linecap="round" opacity="0.91"/>
<path d="M429.9,291.4 Q432.7,288.9 438.1,285.3" stroke="#f4f7fb" stroke-width="2.0" fill="none" stroke-linecap="round" opacity="0.68"/>
<path d="M399.2,309.1 Q401.2,308.5 404.4,307.2" stroke="#ffffff" stroke-width="2.7" fill="none" stroke-linecap="round" opacity="0.76"/>
<path d="M364.2,269.5 Q366.4,267.9 370.5,268.5" stroke="#ffffff" stroke-width="1.8" fill="none" stroke-linecap="round" opacity="0.82"/>
<path d="M439.6,282.1 Q443.6,280.2 444.6,277.5" stroke="#f4f7fb" stroke-width="1.8" fill="none" stroke-linecap="round" opacity="0.71"/>
<path d="M422.4,297.8 Q425.0,298.6 428.9,297.9" stroke="#f4f7fb" stroke-width="2.0" fill="none" stroke-linecap="round" opacity="0.76"/>
<path d="M434.5,308.3 Q437.1,307.0 439.7,306.3" stroke="#f4f7fb" stroke-width="2.4" fill="none" stroke-linecap="round" opacity="0.92"/>
<path d="M397.8,266.1 Q402.3,265.8 405.1,265.6" stroke="#f4f7fb" stroke-width="2.7" fill="none" stroke-linecap="round" opacity="0.93"/>
<path d="M363.1,287.5 Q370.7,284.0 375.3,280.5" stroke="#ffffff" stroke-width="1.6" fill="none" stroke-linecap="round" opacity="0.80"/>
<path d="M400.1,264.5 Q404.0,262.8 404.8,260.9" stroke="#f4f7fb" stroke-width="2.7" fill="none" stroke-linecap="round" opacity="0.75"/>
<path d="M400.3,314.3 Q402.5,315.8 405.3,313.7" stroke="#ffffff" stroke-width="1.6" fill="none" stroke-linecap="round" opacity="0.73"/>
<path d="M404.6,318.9 Q409.0,314.6 412.4,312.3" stroke="#f4f7fb" stroke-width="1.1" fill="none" stroke-linecap="round" opacity="0.73"/>
<path d="M426.4,268.3 Q428.2,265.6 432.2,264.6" stroke="#f4f7fb" stroke-width="2.5" fill="none" stroke-linecap="round" opacity="0.64"/>
<path d="M434.7,270.0 Q438.7,268.8 441.5,269.0" stroke="#ffffff" stroke-width="2.1" fill="none" stroke-linecap="round" opacity="0.72"/>
<path d="M410.2,286.6 Q416.8,285.5 421.9,280.4" stroke="#f4f7fb" stroke-width="1.3" fill="none" stroke-linecap="round" opacity="0.78"/>
<path d="M407.5,308.0 Q412.6,306.7 418.2,305.9" stroke="#f4f7fb" stroke-width="2.0" fill="none" stroke-linecap="round" opacity="0.66"/>
<path d="M394.6,274.7 Q398.1,269.5 403.9,266.5" stroke="#f4f7fb" stroke-width="2.2" fill="none" stroke-linecap="round" opacity="0.65"/>
<path d="M435.0,302.3 Q439.9,301.6 442.6,300.7" stroke="#f4f7fb" stroke-width="1.7" fill="none" stroke-linecap="round" opacity="0.78"/>
<path d="M441.9,269.7 Q444.0,267.5 447.4,269.1" stroke="#f4f7fb" stroke-width="2.3" fill="none" stroke-linecap="round" opacity="0.75"/>
<path d="M405.6,264.9 Q412.2,264.7 418.0,264.9" stroke="#ffffff" stroke-width="1.0" fill="none" stroke-linecap="round" opacity="0.74"/>
<path d="M383.3,300.3 Q389.5,297.5 392.6,295.5" stroke="#ffffff" stroke-width="1.3" fill="none" stroke-linecap="round" opacity="0.76"/>
<path d="M403.4,301.6 Q410.0,298.1 414.9,294.8" stroke="#ffffff" stroke-width="2.0" fill="none" stroke-linecap="round" opacity="0.85"/>
<path d="M366.3,294.5 Q369.0,293.7 373.9,293.5" stroke="#f4f7fb" stroke-width="2.5" fill="none" stroke-linecap="round" opacity="0.75"/>
<path d="M381.7,314.4 Q387.4,313.6 389.1,313.0" stroke="#ffffff" stroke-width="2.6" fill="none" stroke-linecap="round" opacity="0.61"/>
<path d="M413.2,315.6 Q418.0,315.7 423.4,313.2" stroke="#ffffff" stroke-width="1.7" fill="none" stroke-linecap="round" opacity="0.77"/>
<path d="M403.0,273.8 Q409.7,270.6 415.2,271.4" stroke="#f4f7fb" stroke-width="1.8" fill="none" stroke-linecap="round" opacity="0.76"/>
<path d="M435.4,291.1 Q438.4,292.2 444.2,290.5" stroke="#ffffff" stroke-width="1.3" fill="none" stroke-linecap="round" opacity="0.81"/>
<path d="M407.7,307.5 Q413.9,304.6 418.2,298.7" stroke="#ffffff" stroke-width="2.7" fill="none" stroke-linecap="round" opacity="0.79"/>
<path d="M375.9,267.9 Q382.2,262.9 386.2,261.0" stroke="#ffffff" stroke-width="2.4" fill="none" stroke-linecap="round" opacity="0.65"/>
<path d="M440.7,282.9 Q442.4,283.3 447.0,282.9" stroke="#ffffff" stroke-width="1.4" fill="none" stroke-linecap="round" opacity="0.64"/>
<path d="M423.3,305.8 Q425.0,303.9 428.9,305.1" stroke="#ffffff" stroke-width="1.3" fill="none" stroke-linecap="round" opacity="0.69"/>
<path d="M399.2,265.8 Q407.0,261.8 411.3,259.9" stroke="#ffffff" stroke-width="1.9" fill="none" stroke-linecap="round" opacity="0.86"/>
<path d="M427.9,305.1 Q432.9,300.6 434.1,299.8" stroke="#f4f7fb" stroke-width="3.0" fill="none" stroke-linecap="round" opacity="0.75"/>
<path d="M374.8,293.0 Q380.0,290.6 382.8,290.1" stroke="#ffffff" stroke-width="1.4" fill="none" stroke-linecap="round" opacity="0.75"/>
<path d="M416.7,281.4 Q420.9,283.5 426.3,281.8" stroke="#f4f7fb" stroke-width="2.6" fill="none" stroke-linecap="round" opacity="0.93"/>
<path d="M443.3,272.0 Q447.5,269.1 449.7,265.7" stroke="#ffffff" stroke-width="2.4" fill="none" stroke-linecap="round" opacity="0.69"/>
<path d="M396.7,266.1 Q401.3,262.3 407.4,261.0" stroke="#f4f7fb" stroke-width="2.8" fill="none" stroke-linecap="round" opacity="0.83"/>
<path d="M370.8,289.2 Q375.6,285.5 381.0,282.3" stroke="#ffffff" stroke-width="1.6" fill="none" stroke-linecap="round" opacity="0.76"/>
<path d="M448.3,281.3 Q452.7,280.2 458.6,278.0" stroke="#f4f7fb" stroke-width="1.7" fill="none" stroke-linecap="round" opacity="0.85"/>
<path d="M394.9,308.6 Q399.9,306.1 407.2,305.1" stroke="#f4f7fb" stroke-width="1.7" fill="none" stroke-linecap="round" opacity="0.61"/>
<path d="M429.5,295.1 Q433.0,291.5 440.0,291.0" stroke="#ffffff" stroke-width="2.5" fill="none" stroke-linecap="round" opacity="0.76"/>
<path d="M399.2,281.9 Q402.8,278.8 406.3,276.8" stroke="#ffffff" stroke-width="1.9" fill="none" stroke-linecap="round" opacity="0.85"/>
<path d="M449.2,309.2 Q454.7,307.6 460.2,305.3" stroke="#f4f7fb" stroke-width="1.9" fill="none" stroke-linecap="round" opacity="0.93"/>
<path d="M434.8,303.4 Q440.9,303.0 445.7,299.6" stroke="#ffffff" stroke-width="1.5" fill="none" stroke-linecap="round" opacity="0.85"/>
<path d="M386.1,299.5 Q390.1,299.3 391.4,299.0" stroke="#ffffff" stroke-width="1.6" fill="none" stroke-linecap="round" opacity="0.89"/>
<path d="M377.3,293.9 Q381.7,291.9 383.3,291.2" stroke="#ffffff" stroke-width="2.5" fill="none" stroke-linecap="round" opacity="0.85"/>
<path d="M393.7,299.1 Q398.4,294.8 402.0,292.6" stroke="#ffffff" stroke-width="1.3" fill="none" stroke-linecap="round" opacity="0.94"/>
<path d="M409.8,320.1 Q414.1,319.9 416.6,318.7" stroke="#f4f7fb" stroke-width="1.2" fill="none" stroke-linecap="round" opacity="0.90"/>
<path d="M410.4,303.6 Q415.7,301.1 422.4,301.7" stroke="#ffffff" stroke-width="3.0" fill="none" stroke-linecap="round" opacity="0.72"/>
<path d="M378.0,277.4 Q379.9,277.2 383.9,275.2" stroke="#ffffff" stroke-width="1.9" fill="none" stroke-linecap="round" opacity="0.67"/>
<path d="M448.8,287.4 Q451.6,283.9 457.3,283.5" stroke="#f4f7fb" stroke-width="1.7" fill="none" stroke-linecap="round" opacity="0.70"/>
<path d="M444.2,285.3 Q446.8,285.9 450.1,283.4" stroke="#f4f7fb" stroke-width="2.6" fill="none" stroke-linecap="round" opacity="0.92"/>
<path d="M381.5,265.3 Q385.9,261.4 390.0,258.5" stroke="#ffffff" stroke-width="1.4" fill="none" stroke-linecap="round" opacity="0.81"/>
<path d="M398.1,270.8 Q402.7,271.5 404.8,270.1" stroke="#f4f7fb" stroke-width="2.8" fill="none" stroke-linecap="round" opacity="0.62"/>
<path d="M414.1,282.2 Q414.7,282.6 418.9,280.2" stroke="#f4f7fb" stroke-width="1.3" fill="none" stroke-linecap="round" opacity="0.87"/>
<path d="M399.5,271.6 Q401.6,270.2 405.9,271.5" stroke="#f4f7fb" stroke-width="2.6" fill="none" stroke-linecap="round" opacity="0.61"/>
<path d="M443.3,306.3 Q447.5,304.4 452.1,305.8" stroke="#f4f7fb" stroke-width="2.3" fill="none" stroke-linecap="round" opacity="0.68"/>
<path d="M568.6,227.0 Q574.6,224.6 577.7,224.8" stroke="#f4f7fb" stroke-width="1.5" fill="none" stroke-linecap="round" opacity="0.78"/>
<path d="M593.0,282.4 Q596.6,278.6 597.7,276.8" stroke="#ffffff" stroke-width="2.4" fill="none" stroke-linecap="round" opacity="0.91"/>
<path d="M583.3,232.8 Q584.7,232.7 589.3,230.8" stroke="#f4f7fb" stroke-width="1.5" fill="none" stroke-linecap="round" opacity="0.69"/>
<path d="M614.6,298.1 Q617.1,295.6 621.8,293.3" stroke="#ffffff" stroke-width="1.5" fill="none" stroke-linecap="round" opacity="0.81"/>
<path d="M595.8,225.6 Q596.8,223.0 600.6,220.1" stroke="#f4f7fb" stroke-width="2.6" fill="none" stroke-linecap="round" opacity="0.81"/>
<path d="M619.5,231.6 Q625.5,233.2 630.9,232.1" stroke="#f4f7fb" stroke-width="1.8" fill="none" stroke-linecap="round" opacity="0.66"/>
<path d="M589.5,281.2 Q595.1,282.7 600.6,280.7" stroke="#f4f7fb" stroke-width="2.2" fill="none" stroke-linecap="round" opacity="0.80"/>
<path d="M603.6,256.4 Q607.3,256.7 611.6,256.2" stroke="#ffffff" stroke-width="2.0" fill="none" stroke-linecap="round" opacity="0.65"/>
<path d="M593.7,286.1 Q596.2,280.8 602.3,278.3" stroke="#f4f7fb" stroke-width="2.1" fill="none" stroke-linecap="round" opacity="0.92"/>
<path d="M560.7,225.8 Q563.5,224.2 567.1,223.5" stroke="#f4f7fb" stroke-width="1.5" fill="none" stroke-linecap="round" opacity="0.84"/>
<path d="M598.5,245.6 Q600.7,244.6 604.5,246.2" stroke="#ffffff" stroke-width="1.7" fill="none" stroke-linecap="round" opacity="0.64"/>
<path d="M601.3,250.0 Q603.7,246.6 610.0,246.9" stroke="#f4f7fb" stroke-width="2.6" fill="none" stroke-linecap="round" opacity="0.63"/>
<path d="M563.0,257.4 Q568.0,255.7 569.4,257.4" stroke="#ffffff" stroke-width="1.1" fill="none" stroke-linecap="round" opacity="0.81"/>
<path d="M640.1,281.9 Q645.3,283.8 646.9,282.6" stroke="#f4f7fb" stroke-width="1.2" fill="none" stroke-linecap="round" opacity="0.82"/>
<path d="M637.9,304.2 Q641.9,303.9 647.2,299.7" stroke="#f4f7fb" stroke-width="1.8" fill="none" stroke-linecap="round" opacity="0.66"/>
<path d="M568.3,294.6 Q573.8,291.4 576.9,287.5" stroke="#f4f7fb" stroke-width="1.6" fill="none" stroke-linecap="round" opacity="0.79"/>
<path d="M601.7,259.3 Q603.7,259.6 605.0,256.8" stroke="#f4f7fb" stroke-width="2.2" fill="none" stroke-linecap="round" opacity="0.70"/>
<path d="M617.8,246.7 Q619.5,247.0 624.4,245.6" stroke="#f4f7fb" stroke-width="1.6" fill="none" stroke-linecap="round" opacity="0.68"/>
<path d="M630.3,252.6 Q631.7,249.0 632.6,249.2" stroke="#f4f7fb" stroke-width="1.0" fill="none" stroke-linecap="round" opacity="0.76"/>
<path d="M603.7,266.8 Q609.6,264.5 611.6,259.6" stroke="#f4f7fb" stroke-width="1.7" fill="none" stroke-linecap="round" opacity="0.79"/>
<path d="M582.6,287.3 Q584.5,285.4 586.7,283.1" stroke="#f4f7fb" stroke-width="1.6" fill="none" stroke-linecap="round" opacity="0.94"/>
<path d="M621.7,280.1 Q626.3,278.9 627.4,279.7" stroke="#f4f7fb" stroke-width="2.7" fill="none" stroke-linecap="round" opacity="0.94"/>
<path d="M598.2,250.1 Q603.7,249.7 607.8,247.9" stroke="#f4f7fb" stroke-width="1.1" fill="none" stroke-linecap="round" opacity="0.75"/>
<path d="M578.2,264.9 Q578.8,262.3 580.8,261.5" stroke="#ffffff" stroke-width="1.7" fill="none" stroke-linecap="round" opacity="0.75"/>
<path d="M640.4,265.7 Q644.0,265.7 647.2,263.3" stroke="#f4f7fb" stroke-width="1.2" fill="none" stroke-linecap="round" opacity="0.84"/>
<path d="M553.7,227.7 Q554.4,226.0 558.5,220.9" stroke="#ffffff" stroke-width="2.4" fill="none" stroke-linecap="round" opacity="0.76"/>
<path d="M604.2,257.7 Q607.4,257.7 613.7,257.3" stroke="#f4f7fb" stroke-width="1.2" fill="none" stroke-linecap="round" opacity="0.74"/>
<path d="M633.0,252.3 Q637.7,252.2 640.4,250.7" stroke="#f4f7fb" stroke-width="1.1" fill="none" stroke-linecap="round" opacity="0.74"/>
<path d="M584.6,278.5 Q589.7,276.4 596.4,277.7" stroke="#ffffff" stroke-width="1.6" fill="none" stroke-linecap="round" opacity="0.78"/>
<path d="M604.1,234.1 Q605.6,233.1 608.3,229.7" stroke="#f4f7fb" stroke-width="1.7" fill="none" stroke-linecap="round" opacity="0.63"/>
<path d="M545.8,240.0 Q548.0,240.7 550.1,238.9" stroke="#ffffff" stroke-width="1.5" fill="none" stroke-linecap="round" opacity="0.61"/>
<path d="M600.4,250.4 Q603.3,248.5 608.3,249.8" stroke="#f4f7fb" stroke-width="1.8" fill="none" stroke-linecap="round" opacity="0.93"/>
<path d="M594.5,270.6 Q598.3,270.5 602.2,269.0" stroke="#ffffff" stroke-width="2.8" fill="none" stroke-linecap="round" opacity="0.71"/>
<path d="M590.9,302.9 Q594.4,301.5 599.4,302.7" stroke="#f4f7fb" stroke-width="2.7" fill="none" stroke-linecap="round" opacity="0.66"/>
<path d="M553.1,287.7 Q557.3,288.1 557.5,286.1" stroke="#ffffff" stroke-width="2.4" fill="none" stroke-linecap="round" opacity="0.62"/>
<path d="M557.6,225.1 Q557.8,226.1 561.4,223.5" stroke="#ffffff" stroke-width="1.1" fill="none" stroke-linecap="round" opacity="0.78"/>
<path d="M635.2,280.6 Q636.5,279.8 640.7,277.9" stroke="#f4f7fb" stroke-width="1.6" fill="none" stroke-linecap="round" opacity="0.72"/>
<path d="M563.1,257.0 Q563.7,253.2 566.3,252.1" stroke="#ffffff" stroke-width="1.4" fill="none" stroke-linecap="round" opacity="0.91"/>
<path d="M612.7,229.2 Q615.4,225.1 618.3,224.8" stroke="#ffffff" stroke-width="2.0" fill="none" stroke-linecap="round" opacity="0.69"/>
<path d="M543.2,269.4 Q549.5,271.5 552.9,270.6" stroke="#ffffff" stroke-width="1.3" fill="none" stroke-linecap="round" opacity="0.68"/>
<path d="M612.4,273.4 Q614.0,272.5 616.8,270.5" stroke="#f4f7fb" stroke-width="1.8" fill="none" stroke-linecap="round" opacity="0.91"/>
<path d="M554.8,274.2 Q560.3,272.3 563.3,266.8" stroke="#f4f7fb" stroke-width="2.5" fill="none" stroke-linecap="round" opacity="0.67"/>
<path d="M580.0,300.7 Q585.0,298.3 589.9,295.5" stroke="#f4f7fb" stroke-width="1.2" fill="none" stroke-linecap="round" opacity="0.70"/>
<path d="M626.7,264.4 Q631.5,266.2 638.6,265.8" stroke="#ffffff" stroke-width="1.2" fill="none" stroke-linecap="round" opacity="0.92"/>
<path d="M642.8,290.1 Q648.1,287.9 652.0,286.3" stroke="#ffffff" stroke-width="1.7" fill="none" stroke-linecap="round" opacity="0.94"/>
<path d="M553.7,294.9 Q555.5,293.6 558.0,291.7" stroke="#ffffff" stroke-width="2.7" fill="none" stroke-linecap="round" opacity="0.87"/>
<path d="M560.1,262.5 Q564.2,262.4 570.5,262.5" stroke="#ffffff" stroke-width="1.9" fill="none" stroke-linecap="round" opacity="0.74"/>
<path d="M604.9,267.3 Q608.7,264.5 609.2,263.9" stroke="#ffffff" stroke-width="2.3" fill="none" stroke-linecap="round" opacity="0.87"/>
<path d="M584.8,285.9 Q590.8,287.7 594.3,285.8" stroke="#ffffff" stroke-width="1.4" fill="none" stroke-linecap="round" opacity="0.88"/>
<path d="M636.3,269.5 Q643.3,269.6 647.1,267.7" stroke="#f4f7fb" stroke-width="1.6" fill="none" stroke-linecap="round" opacity="0.73"/>
<path d="M568.1,289.2 Q572.2,287.2 574.3,287.7" stroke="#ffffff" stroke-width="2.4" fill="none" stroke-linecap="round" opacity="0.82"/>
<path d="M641.5,279.7 Q645.7,277.0 649.4,276.0" stroke="#f4f7fb" stroke-width="2.3" fill="none" stroke-linecap="round" opacity="0.78"/>
<path d="M549.0,245.8 Q553.5,245.6 555.7,243.3" stroke="#ffffff" stroke-width="2.7" fill="none" stroke-linecap="round" opacity="0.86"/>
<path d="M579.5,245.1 Q582.2,240.5 585.5,236.8" stroke="#ffffff" stroke-width="2.0" fill="none" stroke-linecap="round" opacity="0.93"/>
<path d="M541.9,229.9 Q545.9,225.3 550.8,223.4" stroke="#ffffff" stroke-width="2.2" fill="none" stroke-linecap="round" opacity="0.80"/>
<path d="M639.6,264.8 Q644.8,261.1 649.0,258.7" stroke="#f4f7fb" stroke-width="1.3" fill="none" stroke-linecap="round" opacity="0.67"/>
<path d="M631.1,260.5 Q633.8,259.3 636.8,260.2" stroke="#f4f7fb" stroke-width="2.1" fill="none" stroke-linecap="round" opacity="0.74"/>
<path d="M579.6,239.5 Q582.3,234.7 586.6,233.1" stroke="#f4f7fb" stroke-width="2.2" fill="none" stroke-linecap="round" opacity="0.69"/>
<path d="M581.1,272.2 Q584.1,273.0 588.4,270.7" stroke="#ffffff" stroke-width="1.4" fill="none" stroke-linecap="round" opacity="0.65"/>
<path d="M588.7,275.2 Q589.9,272.6 593.7,269.2" stroke="#f4f7fb" stroke-width="1.5" fill="none" stroke-linecap="round" opacity="0.63"/>
<path d="M603.4,249.2 Q608.7,247.6 610.7,247.3" stroke="#ffffff" stroke-width="2.1" fill="none" stroke-linecap="round" opacity="0.74"/>
<path d="M585.3,257.2 Q590.1,258.2 593.5,255.5" stroke="#f4f7fb" stroke-width="1.9" fill="none" stroke-linecap="round" opacity="0.75"/>
<path d="M598.0,231.6 Q599.5,230.4 603.7,229.0" stroke="#f4f7fb" stroke-width="1.9" fill="none" stroke-linecap="round" opacity="0.82"/>
<path d="M620.4,302.4 Q625.9,299.3 627.7,295.9" stroke="#f4f7fb" stroke-width="1.7" fill="none" stroke-linecap="round" opacity="0.72"/>
<path d="M565.0,287.7 Q568.4,287.7 571.3,287.9" stroke="#ffffff" stroke-width="2.0" fill="none" stroke-linecap="round" opacity="0.82"/>
<path d="M569.1,248.6 Q573.3,244.9 578.8,242.6" stroke="#ffffff" stroke-width="1.2" fill="none" stroke-linecap="round" opacity="0.84"/>
<path d="M558.1,280.5 Q560.9,278.7 560.9,276.7" stroke="#f4f7fb" stroke-width="2.3" fill="none" stroke-linecap="round" opacity="0.88"/>
<path d="M601.9,233.5 Q603.5,232.8 605.0,229.9" stroke="#f4f7fb" stroke-width="1.5" fill="none" stroke-linecap="round" opacity="0.70"/>
<path d="M559.5,294.5 Q564.3,293.0 566.7,290.1" stroke="#ffffff" stroke-width="2.7" fill="none" stroke-linecap="round" opacity="0.78"/>
<path d="M603.9,258.8 Q607.4,256.2 609.0,257.5" stroke="#ffffff" stroke-width="2.0" fill="none" stroke-linecap="round" opacity="0.93"/>
<path d="M621.4,291.4 Q626.4,290.0 628.1,292.6" stroke="#ffffff" stroke-width="1.2" fill="none" stroke-linecap="round" opacity="0.77"/>
<path d="M585.4,228.0 Q589.3,225.7 595.4,225.6" stroke="#f4f7fb" stroke-width="1.0" fill="none" stroke-linecap="round" opacity="0.71"/>
<path d="M637.2,244.9 Q641.8,243.8 643.2,240.3" stroke="#f4f7fb" stroke-width="1.5" fill="none" stroke-linecap="round" opacity="0.79"/>
<path d="M608.1,293.3 Q613.7,292.8 615.4,292.4" stroke="#ffffff" stroke-width="1.5" fill="none" stroke-linecap="round" opacity="0.66"/>
<path d="M565.2,293.6 Q567.3,293.9 571.1,291.7" stroke="#f4f7fb" stroke-width="1.6" fill="none" stroke-linecap="round" opacity="0.80"/>
<path d="M551.2,273.8 Q553.2,269.2 557.4,264.2" stroke="#ffffff" stroke-width="1.9" fill="none" stroke-linecap="round" opacity="0.60"/>
<path d="M635.0,241.1 Q636.4,239.2 640.7,234.7" stroke="#f4f7fb" stroke-width="1.6" fill="none" stroke-linecap="round" opacity="0.70"/>
<path d="M592.3,302.8 Q594.6,299.2 598.3,294.8" stroke="#f4f7fb" stroke-width="2.3" fill="none" stroke-linecap="round" opacity="0.63"/>
<path d="M640.6,242.0 Q644.2,239.8 651.2,239.7" stroke="#f4f7fb" stroke-width="2.7" fill="none" stroke-linecap="round" opacity="0.62"/>
<path d="M601.3,281.8 Q606.1,278.6 610.0,276.0" stroke="#ffffff" stroke-width="1.2" fill="none" stroke-linecap="round" opacity="0.78"/>
<path d="M617.2,287.5 Q620.4,286.6 626.6,286.4" stroke="#ffffff" stroke-width="1.1" fill="none" stroke-linecap="round" opacity="0.63"/>
<path d="M634.0,230.1 Q636.4,229.1 641.8,224.9" stroke="#f4f7fb" stroke-width="2.6" fill="none" stroke-linecap="round" opacity="0.62"/>
<path d="M579.0,240.2 Q584.1,238.1 585.9,238.2" stroke="#f4f7fb" stroke-width="1.3" fill="none" stroke-linecap="round" opacity="0.80"/>
<path d="M621.7,284.7 Q624.5,279.7 627.5,276.8" stroke="#f4f7fb" stroke-width="2.5" fill="none" stroke-linecap="round" opacity="0.63"/>
<path d="M634.2,293.5 Q637.3,292.6 637.1,289.2" stroke="#f4f7fb" stroke-width="1.2" fill="none" stroke-linecap="round" opacity="0.75"/>
<path d="M565.3,241.1 Q567.9,241.9 571.2,241.8" stroke="#ffffff" stroke-width="1.4" fill="none" stroke-linecap="round" opacity="0.66"/>
<path d="M578.6,239.8 Q582.1,238.4 587.8,236.3" stroke="#f4f7fb" stroke-width="1.9" fill="none" stroke-linecap="round" opacity="0.94"/>
<path d="M642.2,222.7 Q643.6,220.7 647.2,221.5" stroke="#f4f7fb" stroke-width="2.0" fill="none" stroke-linecap="round" opacity="0.66"/>
<path d="M541.2,252.7 Q547.6,251.3 550.3,253.2" stroke="#ffffff" stroke-width="2.8" fill="none" stroke-linecap="round" opacity="0.92"/>
<path d="M611.1,301.7 Q616.3,300.8 617.8,296.7" stroke="#f4f7fb" stroke-width="2.0" fill="none" stroke-linecap="round" opacity="0.92"/>
<path d="M374.2,225.5 Q380.0,225.0 387.1,224.7" stroke="#e9f0f8" stroke-width="2.2" fill="none" stroke-linecap="round" opacity="0.76"/>
<path d="M440.4,217.0 Q444.3,216.9 446.0,216.8" stroke="#e9f0f8" stroke-width="1.6" fill="none" stroke-linecap="round" opacity="0.64"/>
<path d="M444.2,226.6 Q448.4,226.7 455.3,227.5" stroke="#ffffff" stroke-width="2.5" fill="none" stroke-linecap="round" opacity="0.79"/>
<path d="M396.9,220.4 Q400.9,219.2 406.2,220.2" stroke="#e9f0f8" stroke-width="1.3" fill="none" stroke-linecap="round" opacity="0.63"/>
<path d="M412.9,218.9 Q415.3,218.7 418.9,218.3" stroke="#ffffff" stroke-width="1.0" fill="none" stroke-linecap="round" opacity="0.71"/>
<path d="M398.5,224.7 Q401.6,226.1 407.9,224.2" stroke="#e9f0f8" stroke-width="1.8" fill="none" stroke-linecap="round" opacity="0.65"/>
<path d="M388.6,215.0 Q392.4,216.5 394.9,215.4" stroke="#e9f0f8" stroke-width="1.4" fill="none" stroke-linecap="round" opacity="0.62"/>
<path d="M371.5,218.9 Q375.0,220.5 377.3,218.9" stroke="#e9f0f8" stroke-width="1.3" fill="none" stroke-linecap="round" opacity="0.75"/>
<path d="M425.9,225.5 Q428.4,226.7 431.3,224.5" stroke="#e9f0f8" stroke-width="2.1" fill="none" stroke-linecap="round" opacity="0.79"/>
<path d="M454.9,229.2 Q459.6,228.3 467.2,229.2" stroke="#e9f0f8" stroke-width="2.4" fill="none" stroke-linecap="round" opacity="0.60"/>
<path d="M413.4,222.2 Q420.4,223.5 425.2,221.0" stroke="#ffffff" stroke-width="1.9" fill="none" stroke-linecap="round" opacity="0.62"/>
<path d="M449.5,225.0 Q455.3,226.9 460.0,225.6" stroke="#ffffff" stroke-width="1.1" fill="none" stroke-linecap="round" opacity="0.61"/>
<path d="M432.0,227.4 Q435.1,228.3 438.8,226.4" stroke="#e9f0f8" stroke-width="1.2" fill="none" stroke-linecap="round" opacity="0.66"/>
<path d="M381.6,225.7 Q387.6,223.2 394.3,223.1" stroke="#e9f0f8" stroke-width="1.6" fill="none" stroke-linecap="round" opacity="0.72"/>
<path d="M419.6,222.5 Q425.5,221.6 428.4,220.2" stroke="#e9f0f8" stroke-width="1.6" fill="none" stroke-linecap="round" opacity="0.86"/>
<path d="M450.9,227.6 Q456.0,228.4 461.0,227.5" stroke="#ffffff" stroke-width="2.1" fill="none" stroke-linecap="round" opacity="0.66"/>
<path d="M446.0,216.3 Q450.7,215.7 455.3,216.3" stroke="#ffffff" stroke-width="1.2" fill="none" stroke-linecap="round" opacity="0.72"/>
<path d="M415.0,215.4 Q419.5,212.6 425.4,213.0" stroke="#ffffff" stroke-width="2.3" fill="none" stroke-linecap="round" opacity="0.79"/>
<path d="M415.7,216.3 Q424.4,213.8 429.4,215.0" stroke="#e9f0f8" stroke-width="1.1" fill="none" stroke-linecap="round" opacity="0.81"/>
<path d="M449.4,221.1 Q456.1,219.7 460.6,219.6" stroke="#e9f0f8" stroke-width="1.4" fill="none" stroke-linecap="round" opacity="0.73"/>
<path d="M383.9,228.4 Q390.8,230.0 397.3,229.4" stroke="#ffffff" stroke-width="2.4" fill="none" stroke-linecap="round" opacity="0.79"/>
<path d="M451.5,225.6 Q456.7,222.9 462.8,222.5" stroke="#ffffff" stroke-width="1.5" fill="none" stroke-linecap="round" opacity="0.62"/>
<path d="M425.3,214.0 Q426.6,214.5 430.6,212.9" stroke="#e9f0f8" stroke-width="1.2" fill="none" stroke-linecap="round" opacity="0.68"/>
<path d="M395.9,224.2 Q399.9,224.6 405.1,222.0" stroke="#ffffff" stroke-width="1.4" fill="none" stroke-linecap="round" opacity="0.67"/>
<path d="M434.3,213.7 Q442.8,214.1 447.5,212.7" stroke="#e9f0f8" stroke-width="1.5" fill="none" stroke-linecap="round" opacity="0.61"/>
<path d="M450.1,226.8 Q455.4,227.3 457.0,226.8" stroke="#ffffff" stroke-width="1.1" fill="none" stroke-linecap="round" opacity="0.88"/>
<path d="M415.4,218.6 Q420.1,220.1 428.5,219.9" stroke="#e9f0f8" stroke-width="2.2" fill="none" stroke-linecap="round" opacity="0.60"/>
<path d="M380.2,214.2 Q384.4,213.8 386.4,213.8" stroke="#ffffff" stroke-width="1.3" fill="none" stroke-linecap="round" opacity="0.71"/>
<path d="M439.6,218.7 Q444.1,218.0 447.6,219.3" stroke="#ffffff" stroke-width="1.4" fill="none" stroke-linecap="round" opacity="0.73"/>
<path d="M432.6,227.1 Q434.6,227.4 438.9,225.5" stroke="#ffffff" stroke-width="1.4" fill="none" stroke-linecap="round" opacity="0.75"/>
<path d="M361.5,219.0 Q366.3,217.6 368.8,218.6" stroke="#e9f0f8" stroke-width="1.5" fill="none" stroke-linecap="round" opacity="0.60"/>
<path d="M422.0,222.9 Q426.5,221.5 434.0,223.1" stroke="#ffffff" stroke-width="2.0" fill="none" stroke-linecap="round" opacity="0.86"/>
<path d="M426.9,226.2 Q432.2,225.1 437.3,226.6" stroke="#ffffff" stroke-width="1.9" fill="none" stroke-linecap="round" opacity="0.77"/>
<path d="M416.6,222.7 Q420.2,224.4 425.4,223.5" stroke="#e9f0f8" stroke-width="1.3" fill="none" stroke-linecap="round" opacity="0.78"/>
<path d="M380.5,214.1 Q381.9,211.5 387.2,212.7" stroke="#e9f0f8" stroke-width="2.3" fill="none" stroke-linecap="round" opacity="0.86"/>
<path d="M368.3,213.4 Q371.8,214.4 376.6,213.8" stroke="#ffffff" stroke-width="1.5" fill="none" stroke-linecap="round" opacity="0.65"/>
<path d="M372.4,225.1 Q373.9,225.4 377.7,225.4" stroke="#e9f0f8" stroke-width="1.1" fill="none" stroke-linecap="round" opacity="0.70"/>
<path d="M405.7,224.2 Q410.9,224.3 412.3,224.0" stroke="#e9f0f8" stroke-width="1.1" fill="none" stroke-linecap="round" opacity="0.69"/>
<path d="M411.2,217.3 Q416.1,216.9 420.8,217.9" stroke="#ffffff" stroke-width="2.3" fill="none" stroke-linecap="round" opacity="0.71"/>
<path d="M374.0,216.0 Q378.8,215.6 379.7,214.8" stroke="#e9f0f8" stroke-width="1.7" fill="none" stroke-linecap="round" opacity="0.76"/>
<ellipse cx="386" cy="257" rx="15" ry="13" fill="#5a8cc4" opacity="0.6"/>
<circle cx="380" cy="250" r="2.2" fill="#ffffff" opacity="0.9"/>
<path d="M424.5,361.8 Q428.2,362.9 429.9,361.1" stroke="#3f74b5" stroke-width="1.7" fill="none" stroke-linecap="round" opacity="0.53"/>
<path d="M594.0,284.0 Q595.8,281.6 599.2,281.3" stroke="#4a80c0" stroke-width="1.3" fill="none" stroke-linecap="round" opacity="0.62"/>
<path d="M395.7,372.7 Q395.2,373.1 398.7,370.9" stroke="#3f74b5" stroke-width="1.8" fill="none" stroke-linecap="round" opacity="0.65"/>
<path d="M582.2,311.7 Q582.4,313.5 586.1,312.5" stroke="#3f74b5" stroke-width="1.4" fill="none" stroke-linecap="round" opacity="0.45"/>
<path d="M599.6,335.0 Q599.8,333.4 603.8,333.3" stroke="#3f74b5" stroke-width="1.6" fill="none" stroke-linecap="round" opacity="0.43"/>
<path d="M364.9,353.3 Q366.1,351.4 368.3,351.1" stroke="#3f74b5" stroke-width="2.2" fill="none" stroke-linecap="round" opacity="0.46"/>
<path d="M437.3,235.9 Q439.9,236.9 442.0,236.2" stroke="#3f74b5" stroke-width="1.7" fill="none" stroke-linecap="round" opacity="0.45"/>
<path d="M617.7,367.5 Q621.2,371.9 624.2,372.7" stroke="#3f74b5" stroke-width="2.0" fill="none" stroke-linecap="round" opacity="0.61"/>
<path d="M541.1,298.7 Q545.0,296.6 548.6,294.8" stroke="#4a80c0" stroke-width="1.2" fill="none" stroke-linecap="round" opacity="0.67"/>
<path d="M518.5,287.0 Q519.0,282.4 523.6,281.8" stroke="#4a80c0" stroke-width="1.5" fill="none" stroke-linecap="round" opacity="0.52"/>
<path d="M542.5,281.0 Q545.6,281.9 545.8,283.2" stroke="#4a80c0" stroke-width="2.1" fill="none" stroke-linecap="round" opacity="0.44"/>
<path d="M567.3,309.1 Q568.2,309.2 570.0,311.4" stroke="#3f74b5" stroke-width="1.5" fill="none" stroke-linecap="round" opacity="0.49"/>
<path d="M610.1,352.3 Q612.0,355.7 614.7,355.5" stroke="#3f74b5" stroke-width="1.2" fill="none" stroke-linecap="round" opacity="0.47"/>
<path d="M433.2,282.1 Q438.9,283.7 441.0,282.7" stroke="#4a80c0" stroke-width="1.8" fill="none" stroke-linecap="round" opacity="0.42"/>
<path d="M496.8,364.2 Q502.4,365.2 505.2,366.3" stroke="#3f74b5" stroke-width="2.5" fill="none" stroke-linecap="round" opacity="0.60"/>
<path d="M463.7,344.6 Q467.1,342.6 469.0,342.6" stroke="#3f74b5" stroke-width="1.9" fill="none" stroke-linecap="round" opacity="0.45"/>
<path d="M544.8,222.4 Q548.9,223.8 550.7,222.5" stroke="#4a80c0" stroke-width="2.3" fill="none" stroke-linecap="round" opacity="0.48"/>
<path d="M489.0,342.0 Q490.6,341.1 492.0,339.7" stroke="#3f74b5" stroke-width="1.7" fill="none" stroke-linecap="round" opacity="0.40"/>
<path d="M399.6,363.6 Q404.2,365.7 408.4,364.2" stroke="#4a80c0" stroke-width="2.2" fill="none" stroke-linecap="round" opacity="0.44"/>
<path d="M612.8,301.5 Q614.3,301.9 616.6,303.5" stroke="#3f74b5" stroke-width="1.4" fill="none" stroke-linecap="round" opacity="0.67"/>
<path d="M420.7,374.0 Q425.7,376.8 426.6,375.9" stroke="#3f74b5" stroke-width="2.0" fill="none" stroke-linecap="round" opacity="0.47"/>
<path d="M615.5,219.0 Q617.4,218.5 619.4,218.6" stroke="#3f74b5" stroke-width="1.3" fill="none" stroke-linecap="round" opacity="0.42"/>
<path d="M386.5,213.8 Q388.0,215.8 389.7,214.7" stroke="#4a80c0" stroke-width="2.2" fill="none" stroke-linecap="round" opacity="0.56"/>
<path d="M528.1,300.6 Q530.2,299.7 532.1,299.6" stroke="#4a80c0" stroke-width="1.2" fill="none" stroke-linecap="round" opacity="0.58"/>
<path d="M417.3,298.2 Q421.1,300.3 423.0,300.1" stroke="#4a80c0" stroke-width="1.5" fill="none" stroke-linecap="round" opacity="0.48"/>
<path d="M406.1,273.5 Q407.1,274.6 410.4,275.0" stroke="#4a80c0" stroke-width="1.7" fill="none" stroke-linecap="round" opacity="0.65"/>
<path d="M599.1,254.4 Q601.8,253.1 606.6,250.9" stroke="#4a80c0" stroke-width="1.4" fill="none" stroke-linecap="round" opacity="0.43"/>
<path d="M479.4,368.5 Q482.5,368.6 484.0,369.6" stroke="#3f74b5" stroke-width="2.4" fill="none" stroke-linecap="round" opacity="0.56"/>
<path d="M610.1,372.9 Q613.2,369.8 618.1,369.3" stroke="#4a80c0" stroke-width="1.4" fill="none" stroke-linecap="round" opacity="0.62"/>
<path d="M633.8,351.3 Q635.8,351.3 637.9,351.0" stroke="#3f74b5" stroke-width="2.1" fill="none" stroke-linecap="round" opacity="0.56"/>
<path d="M411.0,289.7 Q413.3,289.9 417.8,292.4" stroke="#4a80c0" stroke-width="2.2" fill="none" stroke-linecap="round" opacity="0.64"/>
<path d="M485.8,328.1 Q488.6,330.2 491.2,329.8" stroke="#4a80c0" stroke-width="2.5" fill="none" stroke-linecap="round" opacity="0.51"/>
<path d="M551.7,305.0 Q553.4,305.2 555.4,307.4" stroke="#4a80c0" stroke-width="2.1" fill="none" stroke-linecap="round" opacity="0.40"/>
<path d="M391.6,236.7 Q394.7,235.5 399.2,237.8" stroke="#4a80c0" stroke-width="1.9" fill="none" stroke-linecap="round" opacity="0.53"/>
<path d="M437.4,270.9 Q440.5,270.1 444.5,267.7" stroke="#3f74b5" stroke-width="1.4" fill="none" stroke-linecap="round" opacity="0.70"/>
<path d="M363.2,288.7 Q366.1,287.6 370.7,289.4" stroke="#3f74b5" stroke-width="1.6" fill="none" stroke-linecap="round" opacity="0.62"/>
<path d="M619.3,311.7 Q620.1,309.4 623.8,308.8" stroke="#3f74b5" stroke-width="2.0" fill="none" stroke-linecap="round" opacity="0.60"/>
<path d="M599.4,380.0 Q602.1,378.5 607.9,378.3" stroke="#4a80c0" stroke-width="2.0" fill="none" stroke-linecap="round" opacity="0.69"/>
<path d="M540.2,221.0 Q541.7,218.1 545.8,215.8" stroke="#4a80c0" stroke-width="1.4" fill="none" stroke-linecap="round" opacity="0.60"/>
<path d="M618.7,291.2 Q623.7,291.4 625.7,290.0" stroke="#3f74b5" stroke-width="2.2" fill="none" stroke-linecap="round" opacity="0.69"/>
<path d="M431.6,325.4 Q432.6,326.3 434.9,323.7" stroke="#4a80c0" stroke-width="1.0" fill="none" stroke-linecap="round" opacity="0.62"/>
<path d="M411.1,229.5 Q414.9,230.0 415.2,230.3" stroke="#4a80c0" stroke-width="1.1" fill="none" stroke-linecap="round" opacity="0.50"/>
<path d="M429.0,356.5 Q433.0,355.6 437.1,355.8" stroke="#4a80c0" stroke-width="1.4" fill="none" stroke-linecap="round" opacity="0.43"/>
<path d="M369.5,358.3 Q374.4,357.6 375.8,359.3" stroke="#3f74b5" stroke-width="1.3" fill="none" stroke-linecap="round" opacity="0.64"/>
<path d="M625.1,305.7 Q629.4,303.7 630.9,303.2" stroke="#3f74b5" stroke-width="1.3" fill="none" stroke-linecap="round" opacity="0.42"/>
<path d="M637.3,345.0 Q639.6,342.4 640.5,342.4" stroke="#4a80c0" stroke-width="1.8" fill="none" stroke-linecap="round" opacity="0.50"/>
<path d="M408.0,276.7 Q410.3,277.2 414.1,274.6" stroke="#4a80c0" stroke-width="1.8" fill="none" stroke-linecap="round" opacity="0.45"/>
<path d="M454.4,374.9 Q458.2,374.5 461.2,376.5" stroke="#4a80c0" stroke-width="2.5" fill="none" stroke-linecap="round" opacity="0.43"/>
<path d="M597.6,270.4 Q602.1,267.5 603.7,267.3" stroke="#3f74b5" stroke-width="1.2" fill="none" stroke-linecap="round" opacity="0.65"/>
<path d="M450.9,215.4 Q452.9,215.4 457.2,216.9" stroke="#3f74b5" stroke-width="1.9" fill="none" stroke-linecap="round" opacity="0.68"/>
<path d="M493.5,306.3 Q499.2,306.9 501.2,308.8" stroke="#3f74b5" stroke-width="1.8" fill="none" stroke-linecap="round" opacity="0.66"/>
<path d="M566.9,353.7 Q569.9,352.1 570.5,353.7" stroke="#3f74b5" stroke-width="1.5" fill="none" stroke-linecap="round" opacity="0.52"/>
<path d="M546.4,369.6 Q549.3,368.8 552.9,368.9" stroke="#4a80c0" stroke-width="1.4" fill="none" stroke-linecap="round" opacity="0.52"/>
<path d="M569.2,261.3 Q568.9,262.8 572.5,262.3" stroke="#3f74b5" stroke-width="1.8" fill="none" stroke-linecap="round" opacity="0.66"/>
<path d="M551.8,276.7 Q555.9,273.6 556.6,274.1" stroke="#4a80c0" stroke-width="1.4" fill="none" stroke-linecap="round" opacity="0.54"/>
<path d="M423.6,372.1 Q424.1,370.3 428.5,368.9" stroke="#4a80c0" stroke-width="2.3" fill="none" stroke-linecap="round" opacity="0.46"/>
<path d="M406.4,339.4 Q409.2,338.2 409.5,340.2" stroke="#3f74b5" stroke-width="1.2" fill="none" stroke-linecap="round" opacity="0.44"/>
<path d="M415.8,258.5 Q418.3,257.6 422.0,253.6" stroke="#4a80c0" stroke-width="2.0" fill="none" stroke-linecap="round" opacity="0.65"/>
<path d="M547.9,250.5 Q551.1,254.0 554.5,254.1" stroke="#3f74b5" stroke-width="2.2" fill="none" stroke-linecap="round" opacity="0.46"/>
<path d="M552.1,357.9 Q554.4,358.9 560.3,358.7" stroke="#3f74b5" stroke-width="2.4" fill="none" stroke-linecap="round" opacity="0.47"/>
</g>
<polygon points="361,317 368,322 372,345 361,350" fill="#eef0f5"/>
<polygon points="590,222 600,224 620,246 614,250" fill="#f2f5fa" opacity="0.9"/>
<polygon points="462,213 540,213 534,222 470,223" fill="#eef2f8" opacity="0.8"/>
<ellipse cx="497.5" cy="270.5" rx="68" ry="42" transform="rotate(-9 497.5 270.5)" fill="#5a8ec8" opacity="0.8"/>
<ellipse cx="497.3" cy="270" rx="61.3" ry="36" transform="rotate(-9 497.3 270)" fill="#7eb0c8"/>
<ellipse cx="497.8" cy="271" rx="56" ry="30.5" transform="rotate(-9 497.8 271)" fill="#90bccf"/>
<polygon points="449.2,277.3 448.2,273.2 452.0,271.2 451.8,267.0 455.8,265.6 456.3,261.4 460.5,260.9 461.8,256.8 466.0,256.8 467.8,252.9 472.0,253.4 474.2,249.8 478.4,250.9 481.1,247.6 485.0,249.2 488.1,246.2 491.9,248.1 495.2,245.3 498.9,247.3 502.3,244.7 505.9,247.0 509.5,244.6 512.9,247.1 516.6,245.0 519.8,247.8 523.7,246.1 526.6,249.2 530.7,247.8 533.1,251.2 537.3,250.4 538.9,254.2 543.1,254.6 543.3,258.7 547.1,260.5 545.9,264.5 548.7,267.4 545.9,270.5 547.2,274.4 543.5,276.3 543.4,280.5 539.4,281.2 538.1,285.2 533.9,284.9 531.8,288.5 527.6,287.6 525.1,291.1 521.0,289.9 518.2,293.2 514.2,291.7 511.3,294.9 507.3,293.2 504.2,296.2 500.4,294.3 497.1,297.0 493.5,294.8 490.0,297.3 486.6,294.7 482.8,296.8 479.6,294.0 475.7,295.8 472.7,292.8 468.7,294.5 465.8,291.3 461.7,292.8 459.1,289.5 455.0,290.4 453.2,286.7 449.1,286.4 449.2,282.4 446.3,280.0" fill="#f7f8fb" stroke="#4a3f8e" stroke-width="1.7" stroke-linejoin="round"/>
<path d="M455,282 C463,279 472,280 480,283" stroke="#9fc0e4" stroke-width="3" fill="none" opacity="0.8"/>
<path d="M470,290 C476,286 482,287 486,290" stroke="#9fc0e4" stroke-width="2" fill="none" opacity="0.8"/>
<path d="M372,360 C385,370 400,366 420,345 C428,337 432,330 430,322" stroke="#f2f5fa" stroke-width="2.5" fill="none"/>
<path d="M368,335 C380,328 392,330 396,340" stroke="#3f73b2" stroke-width="3" fill="none"/>
</g>
<line x1="560.9" y1="371.5" x2="630.6" y2="371.5" stroke="#111" stroke-width="1.6"/>
<text x="595.8" y="365.5" font-size="7.8" font-weight="bold" text-anchor="middle" fill="#111">100 µm</text>
<text x="68.5" y="16.1" font-size="19.6" font-weight="bold">A</text>
<text x="337" y="14.3" font-size="15" font-weight="bold" font-style="italic" text-anchor="end">aorta</text>
<text x="630.3" y="16.9" font-size="15" font-weight="bold" font-style="italic" text-anchor="end">ophthalmic artery</text>
<text transform="translate(47.9,177.3) rotate(-90)" font-size="19.4" font-weight="bold">hypertensive</text>
<text transform="translate(668.4,177.3) rotate(-90)" font-size="19.4" font-weight="bold">hypertensive</text>
<text transform="translate(47.9,365.2) rotate(-90)" font-size="19.4" font-weight="bold">normotensive</text>
<text transform="translate(668.5,365.0) rotate(-90)" font-size="19.4" font-weight="bold">normotensive</text>
<rect x="63.5" y="485.8" width="126.5" height="131.40000000000003" fill="none" stroke="#505050" stroke-width="1.1"/>
<line x1="59.3" y1="617.20" x2="63.5" y2="617.20" stroke="#505050" stroke-width="1.1"/>
<text transform="translate(51.90,622.20) scale(0.97,1)" font-size="15.3" text-anchor="end" fill="#111">0.0</text>
<line x1="59.3" y1="590.92" x2="63.5" y2="590.92" stroke="#505050" stroke-width="1.1"/>
<text transform="translate(51.90,595.92) scale(0.97,1)" font-size="15.3" text-anchor="end" fill="#111">0.1</text>
<line x1="59.3" y1="564.64" x2="63.5" y2="564.64" stroke="#505050" stroke-width="1.1"/>
<text transform="translate(51.90,569.64) scale(0.97,1)" font-size="15.3" text-anchor="end" fill="#111">0.2</text>
<line x1="59.3" y1="538.36" x2="63.5" y2="538.36" stroke="#505050" stroke-width="1.1"/>
<text transform="translate(51.90,543.36) scale(0.97,1)" font-size="15.3" text-anchor="end" fill="#111">0.3</text>
<line x1="59.3" y1="512.08" x2="63.5" y2="512.08" stroke="#505050" stroke-width="1.1"/>
<text transform="translate(51.90,517.08) scale(0.97,1)" font-size="15.3" text-anchor="end" fill="#111">0.4</text>
<line x1="59.3" y1="485.80" x2="63.5" y2="485.80" stroke="#505050" stroke-width="1.1"/>
<text transform="translate(51.90,490.80) scale(0.97,1)" font-size="15.3" text-anchor="end" fill="#111">0.5</text>
<line x1="190.0" y1="617.20" x2="194.2" y2="617.20" stroke="#505050" stroke-width="1.1"/>
<text transform="translate(201.20,622.20) scale(0.97,1)" font-size="15.3" fill="#111">0.0</text>
<line x1="190.0" y1="595.30" x2="194.2" y2="595.30" stroke="#505050" stroke-width="1.1"/>
<text transform="translate(201.20,600.30) scale(0.97,1)" font-size="15.3" fill="#111">0.5</text>
<line x1="190.0" y1="573.40" x2="194.2" y2="573.40" stroke="#505050" stroke-width="1.1"/>
<text transform="translate(201.20,578.40) scale(0.97,1)" font-size="15.3" fill="#111">1.0</text>
<line x1="190.0" y1="551.50" x2="194.2" y2="551.50" stroke="#505050" stroke-width="1.1"/>
<text transform="translate(201.20,556.50) scale(0.97,1)" font-size="15.3" fill="#111">1.5</text>
<line x1="190.0" y1="529.60" x2="194.2" y2="529.60" stroke="#505050" stroke-width="1.1"/>
<text transform="translate(201.20,534.60) scale(0.97,1)" font-size="15.3" fill="#111">2.0</text>
<line x1="190.0" y1="507.70" x2="194.2" y2="507.70" stroke="#505050" stroke-width="1.1"/>
<text transform="translate(201.20,512.70) scale(0.97,1)" font-size="15.3" fill="#111">2.5</text>
<line x1="190.0" y1="485.80" x2="194.2" y2="485.80" stroke="#505050" stroke-width="1.1"/>
<text transform="translate(201.20,490.80) scale(0.97,1)" font-size="15.3" fill="#111">3.0</text>
<rect x="75.70" y="535.10" width="20.5" height="82.10" fill="#0d0d4f" stroke="#1a0a0a" stroke-width="0.9"/>
<line x1="85.95" y1="535.10" x2="85.95" y2="534.30" stroke="#2a2a2a" stroke-width="1.1"/>
<line x1="81.55" y1="534.30" x2="90.35" y2="534.30" stroke="#2a2a2a" stroke-width="1.1"/>
<rect x="98.30" y="521.20" width="20.5" height="96.00" fill="#ea1d1d" stroke="#1a0a0a" stroke-width="0.9"/>
<line x1="108.55" y1="521.20" x2="108.55" y2="519.30" stroke="#2a2a2a" stroke-width="1.1"/>
<line x1="104.15" y1="519.30" x2="112.95" y2="519.30" stroke="#2a2a2a" stroke-width="1.1"/>
<rect x="134.10" y="555.40" width="20.5" height="61.80" fill="#0d0d4f" stroke="#1a0a0a" stroke-width="0.9"/>
<line x1="144.35" y1="555.40" x2="144.35" y2="548.40" stroke="#2a2a2a" stroke-width="1.1"/>
<line x1="139.95" y1="548.40" x2="148.75" y2="548.40" stroke="#2a2a2a" stroke-width="1.1"/>
<rect x="157.20" y="524.50" width="20.5" height="92.70" fill="#ea1d1d" stroke="#1a0a0a" stroke-width="0.9"/>
<line x1="167.45" y1="524.50" x2="167.45" y2="514.00" stroke="#2a2a2a" stroke-width="1.1"/>
<line x1="163.05" y1="514.00" x2="171.85" y2="514.00" stroke="#2a2a2a" stroke-width="1.1"/>
<text x="69.00" y="505.10" font-size="19.4" font-weight="bold">B</text>
<text x="86.4" y="519.8" font-size="17.5" font-weight="bold" letter-spacing="0.9">***</text>
<text x="144.2" y="519.8" font-size="17.5" font-weight="bold" letter-spacing="0.9">***</text>
<text transform="translate(60.4,468.0) scale(1.02,1)" font-size="19.0" font-weight="bold">wall:lumen ratio</text>
<text x="75.5" y="643.4" font-size="14.8" font-weight="bold">aorta</text>
<text x="123.9" y="643.4" font-size="14.8" font-weight="bold">ophthalmic</text>
<rect x="277.7" y="485.8" width="125.0" height="131.40000000000003" fill="none" stroke="#505050" stroke-width="1.1"/>
<line x1="273.5" y1="617.20" x2="277.7" y2="617.20" stroke="#505050" stroke-width="1.1"/>
<text transform="translate(266.10,622.20) scale(0.97,1)" font-size="15.3" text-anchor="end" fill="#111">0.0</text>
<line x1="273.5" y1="590.92" x2="277.7" y2="590.92" stroke="#505050" stroke-width="1.1"/>
<text transform="translate(266.10,595.92) scale(0.97,1)" font-size="15.3" text-anchor="end" fill="#111">0.2</text>
<line x1="273.5" y1="564.64" x2="277.7" y2="564.64" stroke="#505050" stroke-width="1.1"/>
<text transform="translate(266.10,569.64) scale(0.97,1)" font-size="15.3" text-anchor="end" fill="#111">0.4</text>
<line x1="273.5" y1="538.36" x2="277.7" y2="538.36" stroke="#505050" stroke-width="1.1"/>
<text transform="translate(266.10,543.36) scale(0.97,1)" font-size="15.3" text-anchor="end" fill="#111">0.6</text>
<line x1="273.5" y1="512.08" x2="277.7" y2="512.08" stroke="#505050" stroke-width="1.1"/>
<text transform="translate(266.10,517.08) scale(0.97,1)" font-size="15.3" text-anchor="end" fill="#111">0.8</text>
<line x1="273.5" y1="485.80" x2="277.7" y2="485.80" stroke="#505050" stroke-width="1.1"/>
<text transform="translate(266.10,490.80) scale(0.97,1)" font-size="15.3" text-anchor="end" fill="#111">1.0</text>
<line x1="402.7" y1="617.20" x2="406.9" y2="617.20" stroke="#505050" stroke-width="1.1"/>
<text transform="translate(413.90,622.20) scale(0.97,1)" font-size="15.3" fill="#111">0.000</text>
<line x1="402.7" y1="584.35" x2="406.9" y2="584.35" stroke="#505050" stroke-width="1.1"/>
<text transform="translate(413.90,589.35) scale(0.97,1)" font-size="15.3" fill="#111">0.005</text>
<line x1="402.7" y1="551.50" x2="406.9" y2="551.50" stroke="#505050" stroke-width="1.1"/>
<text transform="translate(413.90,556.50) scale(0.97,1)" font-size="15.3" fill="#111">0.010</text>
<line x1="402.7" y1="518.65" x2="406.9" y2="518.65" stroke="#505050" stroke-width="1.1"/>
<text transform="translate(413.90,523.65) scale(0.97,1)" font-size="15.3" fill="#111">0.015</text>
<line x1="402.7" y1="485.80" x2="406.9" y2="485.80" stroke="#505050" stroke-width="1.1"/>
<text transform="translate(413.90,490.80) scale(0.97,1)" font-size="15.3" fill="#111">0.020</text>
<rect x="289.90" y="541.50" width="20.5" height="75.70" fill="#0d0d4f" stroke="#1a0a0a" stroke-width="0.9"/>
<line x1="300.15" y1="541.50" x2="300.15" y2="540.00" stroke="#2a2a2a" stroke-width="1.1"/>
<line x1="295.75" y1="540.00" x2="304.55" y2="540.00" stroke="#2a2a2a" stroke-width="1.1"/>
<rect x="312.50" y="520.30" width="20.5" height="96.90" fill="#ea1d1d" stroke="#1a0a0a" stroke-width="0.9"/>
<line x1="322.75" y1="520.30" x2="322.75" y2="518.20" stroke="#2a2a2a" stroke-width="1.1"/>
<line x1="318.35" y1="518.20" x2="327.15" y2="518.20" stroke="#2a2a2a" stroke-width="1.1"/>
<rect x="348.30" y="569.40" width="20.5" height="47.80" fill="#0d0d4f" stroke="#1a0a0a" stroke-width="0.9"/>
<line x1="358.55" y1="569.40" x2="358.55" y2="565.20" stroke="#2a2a2a" stroke-width="1.1"/>
<line x1="354.15" y1="565.20" x2="362.95" y2="565.20" stroke="#2a2a2a" stroke-width="1.1"/>
<rect x="371.40" y="542.00" width="20.5" height="75.20" fill="#ea1d1d" stroke="#1a0a0a" stroke-width="0.9"/>
<line x1="381.65" y1="542.00" x2="381.65" y2="536.40" stroke="#2a2a2a" stroke-width="1.1"/>
<line x1="377.25" y1="536.40" x2="386.05" y2="536.40" stroke="#2a2a2a" stroke-width="1.1"/>
<text x="285.40" y="506.00" font-size="19.4" font-weight="bold">C</text>
<text x="304.0" y="519.8" font-size="17.5" font-weight="bold" letter-spacing="0.9">**</text>
<text x="364.4" y="519.8" font-size="17.5" font-weight="bold" letter-spacing="0.9">*</text>
<text transform="translate(280.2,470.0) scale(1.02,1)" font-size="19.0" font-weight="bold">wall area (mm<tspan font-size="11.5" dy="-7.5">2</tspan><tspan dy="7.5">)</tspan></text>
<text x="291.4" y="643.4" font-size="14.8" font-weight="bold">aorta</text>
<text x="336.7" y="643.4" font-size="14.8" font-weight="bold">ophthalmic</text>
<rect x="515.7" y="485.8" width="126.89999999999998" height="131.40000000000003" fill="none" stroke="#505050" stroke-width="1.1"/>
<line x1="511.50000000000006" y1="617.20" x2="515.7" y2="617.20" stroke="#505050" stroke-width="1.1"/>
<text transform="translate(504.10,622.20) scale(0.97,1)" font-size="15.3" text-anchor="end" fill="#111">0.00</text>
<line x1="511.50000000000006" y1="584.35" x2="515.7" y2="584.35" stroke="#505050" stroke-width="1.1"/>
<text transform="translate(504.10,589.35) scale(0.97,1)" font-size="15.3" text-anchor="end" fill="#111">0.05</text>
<line x1="511.50000000000006" y1="551.50" x2="515.7" y2="551.50" stroke="#505050" stroke-width="1.1"/>
<text transform="translate(504.10,556.50) scale(0.97,1)" font-size="15.3" text-anchor="end" fill="#111">0.10</text>
<line x1="511.50000000000006" y1="518.65" x2="515.7" y2="518.65" stroke="#505050" stroke-width="1.1"/>
<text transform="translate(504.10,523.65) scale(0.97,1)" font-size="15.3" text-anchor="end" fill="#111">0.15</text>
<line x1="511.50000000000006" y1="485.80" x2="515.7" y2="485.80" stroke="#505050" stroke-width="1.1"/>
<text transform="translate(504.10,490.80) scale(0.97,1)" font-size="15.3" text-anchor="end" fill="#111">0.20</text>
<line x1="642.6" y1="617.20" x2="646.8000000000001" y2="617.20" stroke="#505050" stroke-width="1.1"/>
<text transform="translate(653.80,622.20) scale(0.97,1)" font-size="15.3" fill="#111">0.00</text>
<line x1="642.6" y1="590.92" x2="646.8000000000001" y2="590.92" stroke="#505050" stroke-width="1.1"/>
<text transform="translate(653.80,595.92) scale(0.97,1)" font-size="15.3" fill="#111">0.02</text>
<line x1="642.6" y1="564.64" x2="646.8000000000001" y2="564.64" stroke="#505050" stroke-width="1.1"/>
<text transform="translate(653.80,569.64) scale(0.97,1)" font-size="15.3" fill="#111">0.04</text>
<line x1="642.6" y1="538.36" x2="646.8000000000001" y2="538.36" stroke="#505050" stroke-width="1.1"/>
<text transform="translate(653.80,543.36) scale(0.97,1)" font-size="15.3" fill="#111">0.06</text>
<line x1="642.6" y1="512.08" x2="646.8000000000001" y2="512.08" stroke="#505050" stroke-width="1.1"/>
<text transform="translate(653.80,517.08) scale(0.97,1)" font-size="15.3" fill="#111">0.08</text>
<line x1="642.6" y1="485.80" x2="646.8000000000001" y2="485.80" stroke="#505050" stroke-width="1.1"/>
<text transform="translate(653.80,490.80) scale(0.97,1)" font-size="15.3" fill="#111">0.10</text>
<rect x="527.90" y="536.00" width="20.5" height="81.20" fill="#0d0d4f" stroke="#1a0a0a" stroke-width="0.9"/>
<line x1="538.15" y1="536.00" x2="538.15" y2="532.50" stroke="#2a2a2a" stroke-width="1.1"/>
<line x1="533.75" y1="532.50" x2="542.55" y2="532.50" stroke="#2a2a2a" stroke-width="1.1"/>
<rect x="550.50" y="547.20" width="20.5" height="70.00" fill="#ea1d1d" stroke="#1a0a0a" stroke-width="0.9"/>
<line x1="560.75" y1="547.20" x2="560.75" y2="543.40" stroke="#2a2a2a" stroke-width="1.1"/>
<line x1="556.35" y1="543.40" x2="565.15" y2="543.40" stroke="#2a2a2a" stroke-width="1.1"/>
<rect x="586.30" y="538.70" width="20.5" height="78.50" fill="#0d0d4f" stroke="#1a0a0a" stroke-width="0.9"/>
<line x1="596.55" y1="538.70" x2="596.55" y2="529.90" stroke="#2a2a2a" stroke-width="1.1"/>
<line x1="592.15" y1="529.90" x2="600.95" y2="529.90" stroke="#2a2a2a" stroke-width="1.1"/>
<rect x="609.40" y="552.00" width="20.5" height="65.20" fill="#ea1d1d" stroke="#1a0a0a" stroke-width="0.9"/>
<line x1="619.65" y1="552.00" x2="619.65" y2="547.10" stroke="#2a2a2a" stroke-width="1.1"/>
<line x1="615.25" y1="547.10" x2="624.05" y2="547.10" stroke="#2a2a2a" stroke-width="1.1"/>
<text x="521.70" y="506.20" font-size="19.4" font-weight="bold">D</text>
<text x="546.6" y="519.8" font-size="17.5" font-weight="bold" letter-spacing="0.9">*</text>
<text transform="translate(499.2,468.0) scale(1.02,1)" font-size="19.0" font-weight="bold">elastin:wall ratio</text>
<text x="530.5" y="643.4" font-size="14.8" font-weight="bold">aorta</text>
<text x="576.8" y="643.4" font-size="14.8" font-weight="bold">ophthalmic</text>
<rect x="465.5" y="402.5" width="179" height="40.2" fill="#fff" stroke="#333" stroke-width="1.1"/>
<rect x="472.5" y="410.3" width="30.5" height="8.3" fill="#0d0d4f" stroke="#111" stroke-width="0.8"/>
<rect x="472.5" y="426.9" width="30.5" height="8.3" fill="#ea1d1d" stroke="#111" stroke-width="0.8"/>
<text x="510.2" y="418.8" font-size="13.0" fill="#111">Normotensive (n = 16)</text>
<text x="510.2" y="435.0" font-size="13.0" fill="#111">Hypertensive (n = 18)</text>
<rect x="63.9" y="710.7" width="172.1" height="164.5999999999999" fill="none" stroke="#505050" stroke-width="1.1"/>
<line x1="59.9" y1="710.70" x2="63.9" y2="710.70" stroke="#505050" stroke-width="1.1"/>
<line x1="59.9" y1="738.13" x2="63.9" y2="738.13" stroke="#505050" stroke-width="1.1"/>
<line x1="59.9" y1="765.57" x2="63.9" y2="765.57" stroke="#505050" stroke-width="1.1"/>
<line x1="59.9" y1="793.00" x2="63.9" y2="793.00" stroke="#505050" stroke-width="1.1"/>
<line x1="59.9" y1="820.43" x2="63.9" y2="820.43" stroke="#505050" stroke-width="1.1"/>
<line x1="59.9" y1="847.87" x2="63.9" y2="847.87" stroke="#505050" stroke-width="1.1"/>
<line x1="59.9" y1="875.30" x2="63.9" y2="875.30" stroke="#505050" stroke-width="1.1"/>
<line x1="63.90" y1="875.3" x2="63.90" y2="878.8" stroke="#505050" stroke-width="1.1"/>
<line x1="90.60" y1="875.3" x2="90.60" y2="878.8" stroke="#505050" stroke-width="1.1"/>
<line x1="127.00" y1="875.3" x2="127.00" y2="878.8" stroke="#505050" stroke-width="1.1"/>
<line x1="163.30" y1="875.3" x2="163.30" y2="878.8" stroke="#505050" stroke-width="1.1"/>
<line x1="199.70" y1="875.3" x2="199.70" y2="878.8" stroke="#505050" stroke-width="1.1"/>
<line x1="125.7" y1="774.4" x2="204.5" y2="842.7" stroke="#222" stroke-width="0.9"/>
<circle cx="205.3" cy="789.3" r="3.2" fill="#e02a22" stroke="#3a0a0a" stroke-width="0.7"/>
<circle cx="142.0" cy="805.9" r="3.2" fill="#e02a22" stroke="#3a0a0a" stroke-width="0.7"/>
<circle cx="152.5" cy="807.7" r="3.2" fill="#e02a22" stroke="#3a0a0a" stroke-width="0.7"/>
<circle cx="172.2" cy="808.5" r="3.2" fill="#e02a22" stroke="#3a0a0a" stroke-width="0.7"/>
<circle cx="176.9" cy="812.2" r="3.2" fill="#e02a22" stroke="#3a0a0a" stroke-width="0.7"/>
<circle cx="194.5" cy="814.8" r="3.2" fill="#e02a22" stroke="#3a0a0a" stroke-width="0.7"/>
<circle cx="156.4" cy="825.6" r="3.2" fill="#e02a22" stroke="#3a0a0a" stroke-width="0.7"/>
<circle cx="147.5" cy="835.8" r="3.2" fill="#e02a22" stroke="#3a0a0a" stroke-width="0.7"/>
<circle cx="191.4" cy="844.5" r="3.2" fill="#e02a22" stroke="#3a0a0a" stroke-width="0.7"/>
<circle cx="196.6" cy="849.8" r="3.2" fill="#e02a22" stroke="#3a0a0a" stroke-width="0.7"/>
<circle cx="129.6" cy="728.1" r="3.2" fill="#0d0d4f" stroke="#050520" stroke-width="0.5"/>
<circle cx="137.5" cy="742.6" r="3.2" fill="#0d0d4f" stroke="#050520" stroke-width="0.5"/>
<circle cx="130.9" cy="752.5" r="3.2" fill="#0d0d4f" stroke="#050520" stroke-width="0.5"/>
<circle cx="128.3" cy="759.9" r="3.2" fill="#0d0d4f" stroke="#050520" stroke-width="0.5"/>
<circle cx="125.7" cy="773.0" r="3.2" fill="#0d0d4f" stroke="#050520" stroke-width="0.5"/>
<circle cx="158.5" cy="795.9" r="3.2" fill="#0d0d4f" stroke="#050520" stroke-width="0.5"/>
<circle cx="143.6" cy="823.0" r="3.2" fill="#0d0d4f" stroke="#050520" stroke-width="0.5"/>
<circle cx="147.2" cy="823.0" r="3.2" fill="#0d0d4f" stroke="#050520" stroke-width="0.5"/>
<text x="70.4" y="732.5" font-size="19.4" font-weight="bold">E</text>
<text x="163.7" y="731.1" font-size="15.2" font-weight="bold">p = 0.009</text>
<text x="163.7" y="751.9000000000001" font-size="15.2" font-weight="bold">r<tspan font-size="10.5" dy="4.5">s</tspan><tspan dy="-4.5"> = -0.60</tspan></text>
<rect x="77.0" y="708.2" width="9" height="5" fill="#fff" transform="rotate(-35 81.5 710.7)"/>
<line x1="76.5" y1="714.0" x2="82.7" y2="708.5" stroke="#444" stroke-width="0.9"/>
<line x1="79.9" y1="714.0" x2="86.1" y2="708.5" stroke="#444" stroke-width="0.9"/>
<rect x="77.0" y="872.8" width="9" height="5" fill="#fff" transform="rotate(-35 81.5 875.3)"/>
<line x1="76.5" y1="878.5999999999999" x2="82.7" y2="873.0999999999999" stroke="#444" stroke-width="0.9"/>
<line x1="79.9" y1="878.5999999999999" x2="86.1" y2="873.0999999999999" stroke="#444" stroke-width="0.9"/>
<text transform="translate(52.30,715.70) scale(0.97,1)" font-size="15.3" text-anchor="end" fill="#111">40</text>
<text transform="translate(52.30,743.13) scale(0.97,1)" font-size="15.3" text-anchor="end" fill="#111">30</text>
<text transform="translate(52.30,770.57) scale(0.97,1)" font-size="15.3" text-anchor="end" fill="#111">20</text>
<text transform="translate(52.30,798.00) scale(0.97,1)" font-size="15.3" text-anchor="end" fill="#111">10</text>
<text transform="translate(52.30,825.43) scale(0.97,1)" font-size="15.3" text-anchor="end" fill="#111">0</text>
<text transform="translate(52.30,852.87) scale(0.97,1)" font-size="15.3" text-anchor="end" fill="#111">-10</text>
<text transform="translate(52.30,880.30) scale(0.97,1)" font-size="15.3" text-anchor="end" fill="#111">-20</text>
<text transform="translate(63.9,899) scale(0.97,1)" font-size="15.3" text-anchor="middle" fill="#111">0.00</text>
<text transform="translate(90.6,899) scale(0.97,1)" font-size="15.3" text-anchor="middle" fill="#111">0.25</text>
<text transform="translate(127.0,899) scale(0.97,1)" font-size="15.3" text-anchor="middle" fill="#111">0.30</text>
<text transform="translate(163.3,899) scale(0.97,1)" font-size="15.3" text-anchor="middle" fill="#111">0.35</text>
<text transform="translate(199.7,899) scale(0.97,1)" font-size="15.3" text-anchor="middle" fill="#111">0.40</text>
<text transform="translate(236.0,899) scale(0.97,1)" font-size="15.3" text-anchor="middle" fill="#111">0.45</text>
<rect x="269.5" y="711.6" width="172.3" height="164.39999999999998" fill="none" stroke="#505050" stroke-width="1.1"/>
<line x1="265.5" y1="711.60" x2="269.5" y2="711.60" stroke="#505050" stroke-width="1.1"/>
<line x1="265.5" y1="739.00" x2="269.5" y2="739.00" stroke="#505050" stroke-width="1.1"/>
<line x1="265.5" y1="766.40" x2="269.5" y2="766.40" stroke="#505050" stroke-width="1.1"/>
<line x1="265.5" y1="793.80" x2="269.5" y2="793.80" stroke="#505050" stroke-width="1.1"/>
<line x1="265.5" y1="821.20" x2="269.5" y2="821.20" stroke="#505050" stroke-width="1.1"/>
<line x1="265.5" y1="848.60" x2="269.5" y2="848.60" stroke="#505050" stroke-width="1.1"/>
<line x1="265.5" y1="876.00" x2="269.5" y2="876.00" stroke="#505050" stroke-width="1.1"/>
<line x1="269.50" y1="876.0" x2="269.50" y2="879.5" stroke="#505050" stroke-width="1.1"/>
<line x1="303.96" y1="876.0" x2="303.96" y2="879.5" stroke="#505050" stroke-width="1.1"/>
<line x1="338.42" y1="876.0" x2="338.42" y2="879.5" stroke="#505050" stroke-width="1.1"/>
<line x1="372.88" y1="876.0" x2="372.88" y2="879.5" stroke="#505050" stroke-width="1.1"/>
<line x1="407.34" y1="876.0" x2="407.34" y2="879.5" stroke="#505050" stroke-width="1.1"/>
<line x1="441.80" y1="876.0" x2="441.80" y2="879.5" stroke="#505050" stroke-width="1.1"/>
<circle cx="354.9" cy="790.2" r="3.2" fill="#e02a22" stroke="#3a0a0a" stroke-width="0.7"/>
<circle cx="346.0" cy="806.8" r="3.2" fill="#e02a22" stroke="#3a0a0a" stroke-width="0.7"/>
<circle cx="313.3" cy="810.1" r="3.2" fill="#e02a22" stroke="#3a0a0a" stroke-width="0.7"/>
<circle cx="318.8" cy="812.9" r="3.2" fill="#e02a22" stroke="#3a0a0a" stroke-width="0.7"/>
<circle cx="397.9" cy="809.0" r="3.2" fill="#e02a22" stroke="#3a0a0a" stroke-width="0.7"/>
<circle cx="391.8" cy="816.0" r="3.2" fill="#e02a22" stroke="#3a0a0a" stroke-width="0.7"/>
<circle cx="341.3" cy="826.8" r="3.2" fill="#e02a22" stroke="#3a0a0a" stroke-width="0.7"/>
<circle cx="316.9" cy="836.8" r="3.2" fill="#e02a22" stroke="#3a0a0a" stroke-width="0.7"/>
<circle cx="309.9" cy="845.6" r="3.2" fill="#e02a22" stroke="#3a0a0a" stroke-width="0.7"/>
<circle cx="309.1" cy="851.2" r="3.2" fill="#e02a22" stroke="#3a0a0a" stroke-width="0.7"/>
<circle cx="302.4" cy="728.6" r="3.2" fill="#0d0d4f" stroke="#050520" stroke-width="0.5"/>
<circle cx="309.4" cy="743.6" r="3.2" fill="#0d0d4f" stroke="#050520" stroke-width="0.5"/>
<circle cx="346.5" cy="753.5" r="3.2" fill="#0d0d4f" stroke="#050520" stroke-width="0.5"/>
<circle cx="306.3" cy="760.5" r="3.2" fill="#0d0d4f" stroke="#050520" stroke-width="0.5"/>
<circle cx="313.5" cy="774.1" r="3.2" fill="#0d0d4f" stroke="#050520" stroke-width="0.5"/>
<circle cx="347.4" cy="796.3" r="3.2" fill="#0d0d4f" stroke="#050520" stroke-width="0.5"/>
<circle cx="305.2" cy="824.0" r="3.2" fill="#0d0d4f" stroke="#050520" stroke-width="0.5"/>
<circle cx="307.7" cy="824.0" r="3.2" fill="#0d0d4f" stroke="#050520" stroke-width="0.5"/>
<text x="276.0" y="733.4" font-size="19.4" font-weight="bold">F</text>
<text x="370.0" y="732.0" font-size="15.2" font-weight="bold">p = 0.7</text>
<text x="370.0" y="752.8000000000001" font-size="15.2" font-weight="bold">r<tspan font-size="10.5" dy="4.5">s</tspan><tspan dy="-4.5"> = -0.01</tspan></text>
<text transform="translate(269.5,899.5) scale(0.97,1)" font-size="15.3" text-anchor="middle" fill="#111">0</text>
<text transform="translate(304.0,899.5) scale(0.97,1)" font-size="15.3" text-anchor="middle" fill="#111">1</text>
<text transform="translate(338.4,899.5) scale(0.97,1)" font-size="15.3" text-anchor="middle" fill="#111">2</text>
<text transform="translate(372.9,899.5) scale(0.97,1)" font-size="15.3" text-anchor="middle" fill="#111">3</text>
<text transform="translate(407.3,899.5) scale(0.97,1)" font-size="15.3" text-anchor="middle" fill="#111">4</text>
<text transform="translate(441.8,899.5) scale(0.97,1)" font-size="15.3" text-anchor="middle" fill="#111">5</text>
<rect x="471.2" y="711.2" width="172.7" height="164.79999999999995" fill="none" stroke="#505050" stroke-width="1.1"/>
<line x1="467.2" y1="711.20" x2="471.2" y2="711.20" stroke="#505050" stroke-width="1.1"/>
<line x1="467.2" y1="738.67" x2="471.2" y2="738.67" stroke="#505050" stroke-width="1.1"/>
<line x1="467.2" y1="766.13" x2="471.2" y2="766.13" stroke="#505050" stroke-width="1.1"/>
<line x1="467.2" y1="793.60" x2="471.2" y2="793.60" stroke="#505050" stroke-width="1.1"/>
<line x1="467.2" y1="821.07" x2="471.2" y2="821.07" stroke="#505050" stroke-width="1.1"/>
<line x1="467.2" y1="848.53" x2="471.2" y2="848.53" stroke="#505050" stroke-width="1.1"/>
<line x1="467.2" y1="876.00" x2="471.2" y2="876.00" stroke="#505050" stroke-width="1.1"/>
<line x1="471.20" y1="876.0" x2="471.20" y2="879.5" stroke="#505050" stroke-width="1.1"/>
<line x1="499.10" y1="876.0" x2="499.10" y2="879.5" stroke="#505050" stroke-width="1.1"/>
<line x1="547.40" y1="876.0" x2="547.40" y2="879.5" stroke="#505050" stroke-width="1.1"/>
<line x1="595.70" y1="876.0" x2="595.70" y2="879.5" stroke="#505050" stroke-width="1.1"/>
<line x1="643.90" y1="876.0" x2="643.90" y2="879.5" stroke="#505050" stroke-width="1.1"/>
<line x1="539.9" y1="770.7" x2="609.3" y2="831.5" stroke="#222" stroke-width="0.9"/>
<circle cx="592.1" cy="789.3" r="3.2" fill="#e02a22" stroke="#3a0a0a" stroke-width="0.7"/>
<circle cx="588.7" cy="806.2" r="3.2" fill="#e02a22" stroke="#3a0a0a" stroke-width="0.7"/>
<circle cx="597.6" cy="808.2" r="3.2" fill="#e02a22" stroke="#3a0a0a" stroke-width="0.7"/>
<circle cx="594.3" cy="809.6" r="3.2" fill="#e02a22" stroke="#3a0a0a" stroke-width="0.7"/>
<circle cx="579.3" cy="812.1" r="3.2" fill="#e02a22" stroke="#3a0a0a" stroke-width="0.7"/>
<circle cx="602.0" cy="815.1" r="3.2" fill="#e02a22" stroke="#3a0a0a" stroke-width="0.7"/>
<circle cx="589.6" cy="825.9" r="3.2" fill="#e02a22" stroke="#3a0a0a" stroke-width="0.7"/>
<circle cx="602.0" cy="836.2" r="3.2" fill="#e02a22" stroke="#3a0a0a" stroke-width="0.7"/>
<circle cx="610.1" cy="844.8" r="3.2" fill="#e02a22" stroke="#3a0a0a" stroke-width="0.7"/>
<circle cx="604.5" cy="850.3" r="3.2" fill="#e02a22" stroke="#3a0a0a" stroke-width="0.7"/>
<circle cx="555.2" cy="728.3" r="3.2" fill="#0d0d4f" stroke="#050520" stroke-width="0.5"/>
<circle cx="539.9" cy="742.4" r="3.2" fill="#0d0d4f" stroke="#050520" stroke-width="0.5"/>
<circle cx="545.2" cy="752.7" r="3.2" fill="#0d0d4f" stroke="#050520" stroke-width="0.5"/>
<circle cx="541.0" cy="759.9" r="3.2" fill="#0d0d4f" stroke="#050520" stroke-width="0.5"/>
<circle cx="546.6" cy="773.5" r="3.2" fill="#0d0d4f" stroke="#050520" stroke-width="0.5"/>
<circle cx="542.7" cy="795.7" r="3.2" fill="#0d0d4f" stroke="#050520" stroke-width="0.5"/>
<circle cx="543.5" cy="822.9" r="3.2" fill="#0d0d4f" stroke="#050520" stroke-width="0.5"/>
<circle cx="546.3" cy="822.9" r="3.2" fill="#0d0d4f" stroke="#050520" stroke-width="0.5"/>
<text x="477.7" y="733.0" font-size="19.4" font-weight="bold">G</text>
<text x="571.2" y="731.6" font-size="15.2" font-weight="bold">p = 0.003</text>
<text x="571.2" y="752.4000000000001" font-size="15.2" font-weight="bold">r<tspan font-size="10.5" dy="4.5">s</tspan><tspan dy="-4.5"> = -0.65</tspan></text>
<rect x="483.5" y="708.7" width="9" height="5" fill="#fff" transform="rotate(-35 488.0 711.2)"/>
<line x1="483.0" y1="714.5" x2="489.2" y2="709.0" stroke="#444" stroke-width="0.9"/>
<line x1="486.4" y1="714.5" x2="492.6" y2="709.0" stroke="#444" stroke-width="0.9"/>
<rect x="483.5" y="873.5" width="9" height="5" fill="#fff" transform="rotate(-35 488.0 876.0)"/>
<line x1="483.0" y1="879.3" x2="489.2" y2="873.8" stroke="#444" stroke-width="0.9"/>
<line x1="486.4" y1="879.3" x2="492.6" y2="873.8" stroke="#444" stroke-width="0.9"/>
<text transform="translate(471.2,899) scale(0.97,1)" font-size="15.3" text-anchor="middle" fill="#111">0</text>
<text transform="translate(499.1,899) scale(0.97,1)" font-size="15.3" text-anchor="middle" fill="#111">1000</text>
<text transform="translate(547.4,899) scale(0.97,1)" font-size="15.3" text-anchor="middle" fill="#111">1500</text>
<text transform="translate(595.7,899) scale(0.97,1)" font-size="15.3" text-anchor="middle" fill="#111">2000</text>
<text transform="translate(643.9,899) scale(0.97,1)" font-size="15.3" text-anchor="middle" fill="#111">2500</text>
<rect x="467.9" y="656.4" width="175.5" height="43.8" fill="#fff" stroke="#333" stroke-width="1.1"/>
<circle cx="489.2" cy="669.9" r="3.2" fill="#0d0d4f"/>
<circle cx="489.2" cy="687.4" r="3.2" fill="#e02a22" stroke="#3a0a0a" stroke-width="0.7"/>
<text x="510.6" y="674.2" font-size="13.2" fill="#111">Normotensive (n = 8)</text>
<text x="510.6" y="691.6" font-size="13.2" fill="#111">Hypertensive (n = 10)</text>
<text transform="translate(16.9,892.0) rotate(-90)" font-size="19.2" font-weight="bold">peak vasodilation (%)</text>
<text transform="translate(49.0,930.9) scale(1.045,1)" font-size="18.8" font-weight="bold">aorta wall:lumen ratio</text>
<text transform="translate(278.8,929.8) scale(1.045,1)" font-size="18.8" font-weight="bold">ophthalmic artery</text>
<text transform="translate(285.9,952.2) scale(1.045,1)" font-size="18.8" font-weight="bold">wall:lumen ratio</text>
<text transform="translate(450.4,929.3) scale(1.045,1)" font-size="18.8" font-weight="bold">blood pressure integral</text>
<text transform="translate(491.9,950.8) scale(1.045,1)" font-size="18.8" font-weight="bold">(mmHg.weeks)</text>
</svg>
</body></html>
